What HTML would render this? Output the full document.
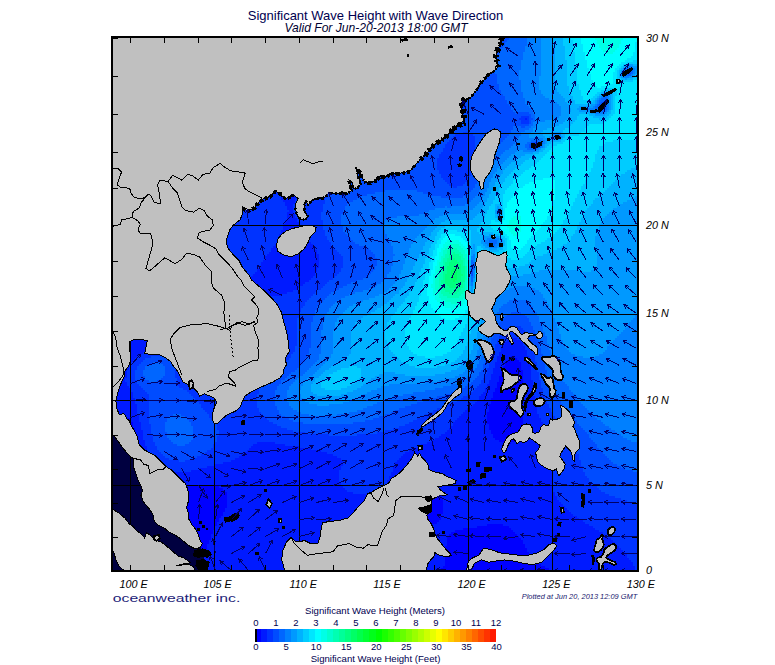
<!DOCTYPE html><html><head><meta charset="utf-8"><title>Significant Wave Height with Wave Direction</title>
<style>html,body{margin:0;padding:0;background:#fff;}body{width:775px;height:665px;overflow:hidden;position:relative;font-family:"Liberation Sans",sans-serif;}svg{position:absolute;left:0;top:0;}text{font-family:"Liberation Sans",sans-serif;}</style></head><body>
<svg width="775" height="665" viewBox="0 0 775 665">
<defs><clipPath id="mc"><rect x="111" y="36" width="528" height="536"/></clipPath>
<linearGradient id="cb" x1="0" x2="1" y1="0" y2="0"><stop offset="0" stop-color="#0000ff"/><stop offset="0.25" stop-color="#00ffff"/><stop offset="0.5" stop-color="#00ff00"/><stop offset="0.75" stop-color="#ffff00"/><stop offset="1" stop-color="#ff0000"/></linearGradient></defs>
<g clip-path="url(#mc)" shape-rendering="crispEdges">
<rect x="111" y="36" width="528" height="536" fill="#0033ff"/>
<path fill="#0000ff" d="M511 356h4v2h-4zM509 358h8v2h-8zM507 360h12v2h-12zM505 362h16v2h-16zM505 364h16v2h-16zM503 366h18v2h-18zM503 368h18v2h-18zM501 370h22v2h-22zM501 372h22v2h-22zM501 374h22v2h-22zM499 376h24v2h-24zM499 378h24v2h-24zM499 380h24v2h-24zM497 382h26v2h-26zM497 384h26v2h-26zM497 386h26v2h-26zM495 388h28v2h-28zM495 390h28v2h-28zM493 392h30v2h-30zM493 394h30v2h-30zM493 396h30v2h-30zM491 398h32v2h-32zM491 400h32v2h-32zM491 402h32v2h-32zM489 404h34v2h-34zM489 406h34v2h-34zM489 408h34v2h-34zM489 410h34v2h-34zM487 412h36v2h-36zM487 414h36v2h-36zM487 416h36v2h-36zM111 418h20v2h-20zM487 418h36v2h-36zM111 420h20v2h-20zM487 420h36v2h-36zM111 422h22v2h-22zM487 422h36v2h-36zM111 424h22v2h-22zM489 424h34v2h-34zM111 426h22v2h-22zM489 426h34v2h-34zM111 428h24v2h-24zM489 428h32v2h-32zM111 430h24v2h-24zM491 430h30v2h-30zM111 432h24v2h-24zM491 432h30v2h-30zM111 434h24v2h-24zM493 434h26v2h-26zM111 436h26v2h-26zM493 436h26v2h-26zM111 438h26v2h-26zM495 438h22v2h-22zM111 440h26v2h-26zM499 440h16v2h-16zM111 442h26v2h-26zM503 442h8v2h-8zM111 444h26v2h-26zM111 446h26v2h-26zM111 448h28v2h-28zM111 450h28v2h-28zM111 452h28v2h-28zM111 454h28v2h-28zM111 456h30v2h-30zM111 458h30v2h-30zM111 460h30v2h-30zM111 462h30v2h-30zM111 464h32v2h-32zM111 466h32v2h-32zM111 468h34v2h-34zM111 470h34v2h-34zM111 472h36v2h-36zM111 474h38v2h-38zM111 476h40v2h-40zM111 478h42v2h-42zM111 480h46v2h-46zM111 482h50v2h-50zM111 484h58v2h-58zM427 484h6v2h-6zM111 486h108v2h-108zM425 486h12v2h-12zM111 488h112v2h-112zM423 488h16v2h-16zM111 490h114v2h-114zM421 490h18v2h-18zM111 492h116v2h-116zM419 492h22v2h-22zM111 494h116v2h-116zM419 494h22v2h-22zM111 496h116v2h-116zM417 496h24v2h-24zM111 498h116v2h-116zM417 498h26v2h-26zM111 500h116v2h-116zM417 500h26v2h-26zM111 502h116v2h-116zM417 502h26v2h-26zM111 504h116v2h-116zM415 504h28v2h-28zM111 506h116v2h-116zM415 506h28v2h-28zM111 508h114v2h-114zM415 508h28v2h-28zM111 510h114v2h-114zM415 510h28v2h-28zM111 512h112v2h-112zM415 512h28v2h-28zM111 514h112v2h-112zM413 514h28v2h-28zM111 516h110v2h-110zM413 516h28v2h-28zM111 518h108v2h-108zM411 518h30v2h-30zM111 520h108v2h-108zM409 520h30v2h-30zM111 522h106v2h-106zM403 522h34v2h-34zM111 524h106v2h-106zM393 524h40v2h-40zM487 524h16v2h-16zM111 526h104v2h-104zM387 526h42v2h-42zM477 526h32v2h-32zM111 528h104v2h-104zM383 528h42v2h-42zM463 528h48v2h-48zM111 530h102v2h-102zM379 530h44v2h-44zM455 530h58v2h-58zM111 532h102v2h-102zM375 532h46v2h-46zM451 532h64v2h-64zM111 534h100v2h-100zM373 534h48v2h-48zM449 534h68v2h-68zM111 536h100v2h-100zM371 536h50v2h-50zM447 536h72v2h-72zM111 538h100v2h-100zM369 538h50v2h-50zM447 538h74v2h-74zM111 540h98v2h-98zM367 540h52v2h-52zM447 540h76v2h-76zM111 542h98v2h-98zM365 542h54v2h-54zM447 542h76v2h-76zM111 544h96v2h-96zM363 544h56v2h-56zM447 544h78v2h-78zM111 546h96v2h-96zM363 546h56v2h-56zM445 546h80v2h-80zM111 548h96v2h-96zM361 548h58v2h-58zM445 548h82v2h-82zM111 550h94v2h-94zM359 550h60v2h-60zM445 550h82v2h-82zM111 552h94v2h-94zM359 552h60v2h-60zM445 552h84v2h-84zM111 554h94v2h-94zM357 554h62v2h-62zM445 554h86v2h-86zM111 556h92v2h-92zM355 556h64v2h-64zM445 556h86v2h-86zM111 558h92v2h-92zM353 558h64v2h-64zM445 558h88v2h-88zM111 560h92v2h-92zM351 560h66v2h-66zM445 560h90v2h-90zM111 562h90v2h-90zM349 562h68v2h-68zM445 562h94v2h-94zM111 564h90v2h-90zM347 564h70v2h-70zM445 564h96v2h-96zM111 566h90v2h-90zM345 566h70v2h-70zM443 566h102v2h-102zM111 568h88v2h-88zM343 568h68v2h-68zM441 568h108v2h-108zM111 570h88v2h-88zM341 570h42v2h-42zM425 570h44v2h-44zM511 570h42v2h-42z"/>
<path fill="#001aff" d="M131 36h42v2h-42zM215 36h42v2h-42zM299 36h42v2h-42zM383 36h42v2h-42zM111 38h64v2h-64zM215 38h66v2h-66zM295 38h38v2h-38zM385 38h42v2h-42zM111 40h64v2h-64zM215 40h110v2h-110zM387 40h42v2h-42zM111 42h64v2h-64zM215 42h90v2h-90zM387 42h44v2h-44zM111 44h64v2h-64zM215 44h88v2h-88zM389 44h44v2h-44zM111 46h64v2h-64zM215 46h88v2h-88zM389 46h44v2h-44zM111 48h64v2h-64zM215 48h88v2h-88zM389 48h44v2h-44zM111 50h64v2h-64zM215 50h88v2h-88zM389 50h46v2h-46zM111 52h64v2h-64zM215 52h88v2h-88zM389 52h46v2h-46zM111 54h64v2h-64zM215 54h88v2h-88zM389 54h46v2h-46zM111 56h64v2h-64zM215 56h88v2h-88zM389 56h48v2h-48zM111 58h64v2h-64zM215 58h88v2h-88zM389 58h48v2h-48zM111 60h64v2h-64zM215 60h88v2h-88zM389 60h48v2h-48zM111 62h64v2h-64zM215 62h88v2h-88zM389 62h48v2h-48zM111 64h64v2h-64zM215 64h88v2h-88zM389 64h48v2h-48zM111 66h64v2h-64zM215 66h88v2h-88zM389 66h48v2h-48zM111 68h64v2h-64zM215 68h88v2h-88zM389 68h46v2h-46zM111 70h64v2h-64zM215 70h88v2h-88zM389 70h46v2h-46zM111 72h64v2h-64zM215 72h88v2h-88zM389 72h46v2h-46zM111 74h64v2h-64zM215 74h88v2h-88zM389 74h46v2h-46zM111 76h64v2h-64zM215 76h88v2h-88zM389 76h44v2h-44zM111 78h64v2h-64zM215 78h90v2h-90zM389 78h42v2h-42zM111 80h64v2h-64zM215 80h92v2h-92zM387 80h44v2h-44zM111 82h64v2h-64zM215 82h112v2h-112zM387 82h42v2h-42zM111 84h64v2h-64zM215 84h56v2h-56zM299 84h38v2h-38zM385 84h42v2h-42zM177 86h38v2h-38zM301 86h50v2h-50zM381 86h44v2h-44zM175 88h40v2h-40zM301 88h120v2h-120zM175 90h40v2h-40zM301 90h116v2h-116zM175 92h40v2h-40zM301 92h110v2h-110zM175 94h40v2h-40zM301 94h104v2h-104zM175 96h40v2h-40zM301 96h100v2h-100zM175 98h40v2h-40zM301 98h98v2h-98zM175 100h40v2h-40zM301 100h96v2h-96zM175 102h40v2h-40zM301 102h96v2h-96zM175 104h40v2h-40zM301 104h94v2h-94zM175 106h40v2h-40zM301 106h94v2h-94zM175 108h40v2h-40zM301 108h94v2h-94zM175 110h40v2h-40zM301 110h94v2h-94zM175 112h40v2h-40zM301 112h94v2h-94zM175 114h40v2h-40zM301 114h92v2h-92zM175 116h40v2h-40zM301 116h92v2h-92zM175 118h40v2h-40zM301 118h92v2h-92zM525 118h2v2h-2zM175 120h40v2h-40zM303 120h88v2h-88zM175 122h40v2h-40zM303 122h88v2h-88zM175 124h40v2h-40zM303 124h86v2h-86zM175 126h40v2h-40zM303 126h86v2h-86zM175 128h40v2h-40zM309 128h78v2h-78zM175 130h40v2h-40zM283 130h12v2h-12zM333 130h52v2h-52zM111 132h20v2h-20zM173 132h42v2h-42zM255 132h44v2h-44zM341 132h42v2h-42zM111 134h66v2h-66zM215 134h86v2h-86zM349 134h32v2h-32zM111 136h64v2h-64zM215 136h86v2h-86zM357 136h20v2h-20zM111 138h64v2h-64zM215 138h86v2h-86zM365 138h6v2h-6zM111 140h64v2h-64zM215 140h86v2h-86zM111 142h64v2h-64zM215 142h86v2h-86zM111 144h64v2h-64zM215 144h86v2h-86zM111 146h64v2h-64zM215 146h86v2h-86zM111 148h64v2h-64zM215 148h86v2h-86zM111 150h64v2h-64zM215 150h86v2h-86zM111 152h64v2h-64zM215 152h86v2h-86zM111 154h64v2h-64zM215 154h86v2h-86zM111 156h64v2h-64zM215 156h86v2h-86zM111 158h64v2h-64zM215 158h86v2h-86zM111 160h64v2h-64zM215 160h86v2h-86zM111 162h64v2h-64zM215 162h86v2h-86zM111 164h64v2h-64zM215 164h86v2h-86zM111 166h64v2h-64zM215 166h86v2h-86zM111 168h64v2h-64zM215 168h86v2h-86zM111 170h66v2h-66zM215 170h86v2h-86zM111 172h66v2h-66zM215 172h86v2h-86zM111 174h70v2h-70zM215 174h84v2h-84zM111 176h28v2h-28zM167 176h48v2h-48zM247 176h52v2h-52zM111 178h20v2h-20zM173 178h42v2h-42zM257 178h42v2h-42zM173 180h42v2h-42zM263 180h36v2h-36zM175 182h40v2h-40zM267 182h32v2h-32zM175 184h40v2h-40zM271 184h28v2h-28zM175 186h40v2h-40zM273 186h26v2h-26zM175 188h40v2h-40zM275 188h22v2h-22zM175 190h40v2h-40zM277 190h20v2h-20zM175 192h40v2h-40zM277 192h20v2h-20zM175 194h40v2h-40zM279 194h18v2h-18zM175 196h40v2h-40zM281 196h16v2h-16zM175 198h40v2h-40zM281 198h14v2h-14zM175 200h40v2h-40zM283 200h12v2h-12zM175 202h40v2h-40zM285 202h10v2h-10zM175 204h40v2h-40zM285 204h8v2h-8zM175 206h40v2h-40zM287 206h6v2h-6zM175 208h40v2h-40zM287 208h6v2h-6zM175 210h40v2h-40zM289 210h4v2h-4zM175 212h40v2h-40zM287 212h6v2h-6zM175 214h40v2h-40zM287 214h8v2h-8zM173 216h42v2h-42zM287 216h8v2h-8zM173 218h42v2h-42zM287 218h10v2h-10zM173 220h42v2h-42zM285 220h12v2h-12zM173 222h42v2h-42zM285 222h14v2h-14zM111 224h20v2h-20zM173 224h42v2h-42zM283 224h16v2h-16zM111 226h20v2h-20zM173 226h42v2h-42zM283 226h18v2h-18zM111 228h20v2h-20zM171 228h44v2h-44zM283 228h18v2h-18zM111 230h22v2h-22zM171 230h44v2h-44zM281 230h22v2h-22zM111 232h22v2h-22zM171 232h44v2h-44zM281 232h24v2h-24zM111 234h24v2h-24zM171 234h44v2h-44zM279 234h26v2h-26zM111 236h24v2h-24zM169 236h46v2h-46zM279 236h28v2h-28zM111 238h26v2h-26zM167 238h48v2h-48zM279 238h28v2h-28zM111 240h28v2h-28zM167 240h48v2h-48zM277 240h32v2h-32zM111 242h32v2h-32zM163 242h52v2h-52zM277 242h34v2h-34zM111 244h36v2h-36zM159 244h56v2h-56zM275 244h38v2h-38zM111 246h104v2h-104zM273 246h40v2h-40zM111 248h104v2h-104zM271 248h44v2h-44zM111 250h104v2h-104zM271 250h46v2h-46zM111 252h104v2h-104zM269 252h48v2h-48zM111 254h104v2h-104zM267 254h52v2h-52zM111 256h104v2h-104zM265 256h54v2h-54zM111 258h104v2h-104zM265 258h54v2h-54zM111 260h104v2h-104zM263 260h56v2h-56zM111 262h104v2h-104zM261 262h58v2h-58zM111 264h104v2h-104zM261 264h58v2h-58zM111 266h104v2h-104zM259 266h60v2h-60zM111 268h22v2h-22zM171 268h44v2h-44zM257 268h60v2h-60zM181 270h34v2h-34zM257 270h60v2h-60zM187 272h28v2h-28zM255 272h60v2h-60zM193 274h20v2h-20zM253 274h62v2h-62zM201 276h12v2h-12zM251 276h62v2h-62zM249 278h62v2h-62zM247 280h62v2h-62zM245 282h60v2h-60zM241 284h62v2h-62zM221 286h78v2h-78zM221 288h76v2h-76zM221 290h72v2h-72zM221 292h66v2h-66zM219 294h62v2h-62zM219 296h46v2h-46zM219 298h42v2h-42zM219 300h40v2h-40zM219 302h38v2h-38zM219 304h38v2h-38zM217 306h40v2h-40zM217 308h40v2h-40zM217 310h40v2h-40zM215 312h42v2h-42zM111 314h82v2h-82zM213 314h44v2h-44zM111 316h94v2h-94zM209 316h48v2h-48zM111 318h148v2h-148zM111 320h148v2h-148zM111 322h148v2h-148zM111 324h150v2h-150zM111 326h150v2h-150zM111 328h152v2h-152zM111 330h152v2h-152zM111 332h152v2h-152zM111 334h154v2h-154zM111 336h154v2h-154zM111 338h156v2h-156zM511 338h6v2h-6zM111 340h156v2h-156zM507 340h14v2h-14zM111 342h156v2h-156zM505 342h18v2h-18zM111 344h156v2h-156zM503 344h20v2h-20zM111 346h154v2h-154zM503 346h22v2h-22zM111 348h42v2h-42zM173 348h92v2h-92zM501 348h24v2h-24zM111 350h36v2h-36zM179 350h84v2h-84zM501 350h26v2h-26zM111 352h32v2h-32zM183 352h78v2h-78zM499 352h28v2h-28zM111 354h28v2h-28zM185 354h32v2h-32zM225 354h34v2h-34zM499 354h28v2h-28zM111 356h26v2h-26zM187 356h28v2h-28zM227 356h30v2h-30zM497 356h14v2h-14zM515 356h14v2h-14zM111 358h24v2h-24zM191 358h20v2h-20zM229 358h26v2h-26zM497 358h12v2h-12zM517 358h12v2h-12zM111 360h22v2h-22zM193 360h14v2h-14zM233 360h18v2h-18zM497 360h10v2h-10zM519 360h10v2h-10zM111 362h20v2h-20zM235 362h14v2h-14zM495 362h10v2h-10zM521 362h8v2h-8zM111 364h20v2h-20zM495 364h10v2h-10zM521 364h10v2h-10zM111 366h18v2h-18zM495 366h8v2h-8zM521 366h10v2h-10zM111 368h18v2h-18zM493 368h10v2h-10zM521 368h10v2h-10zM111 370h16v2h-16zM493 370h8v2h-8zM523 370h8v2h-8zM111 372h16v2h-16zM493 372h8v2h-8zM523 372h8v2h-8zM111 374h16v2h-16zM491 374h10v2h-10zM523 374h8v2h-8zM111 376h16v2h-16zM491 376h8v2h-8zM523 376h8v2h-8zM111 378h14v2h-14zM491 378h8v2h-8zM523 378h8v2h-8zM111 380h14v2h-14zM489 380h10v2h-10zM523 380h10v2h-10zM111 382h16v2h-16zM489 382h8v2h-8zM523 382h10v2h-10zM111 384h16v2h-16zM487 384h10v2h-10zM523 384h10v2h-10zM111 386h18v2h-18zM487 386h10v2h-10zM523 386h10v2h-10zM111 388h20v2h-20zM485 388h10v2h-10zM523 388h10v2h-10zM111 390h20v2h-20zM485 390h10v2h-10zM523 390h10v2h-10zM111 392h22v2h-22zM483 392h10v2h-10zM523 392h10v2h-10zM111 394h22v2h-22zM481 394h12v2h-12zM523 394h10v2h-10zM111 396h22v2h-22zM479 396h14v2h-14zM523 396h12v2h-12zM111 398h24v2h-24zM479 398h12v2h-12zM523 398h12v2h-12zM111 400h24v2h-24zM477 400h14v2h-14zM523 400h12v2h-12zM111 402h24v2h-24zM475 402h16v2h-16zM523 402h12v2h-12zM111 404h26v2h-26zM473 404h16v2h-16zM523 404h12v2h-12zM111 406h26v2h-26zM471 406h18v2h-18zM523 406h14v2h-14zM111 408h26v2h-26zM467 408h22v2h-22zM523 408h14v2h-14zM111 410h26v2h-26zM465 410h24v2h-24zM523 410h14v2h-14zM111 412h26v2h-26zM463 412h24v2h-24zM523 412h14v2h-14zM111 414h28v2h-28zM461 414h26v2h-26zM523 414h16v2h-16zM111 416h28v2h-28zM459 416h28v2h-28zM523 416h16v2h-16zM131 418h8v2h-8zM457 418h30v2h-30zM523 418h18v2h-18zM131 420h8v2h-8zM455 420h32v2h-32zM523 420h18v2h-18zM133 422h8v2h-8zM453 422h34v2h-34zM523 422h20v2h-20zM133 424h8v2h-8zM453 424h36v2h-36zM523 424h20v2h-20zM133 426h8v2h-8zM451 426h38v2h-38zM523 426h22v2h-22zM135 428h6v2h-6zM449 428h40v2h-40zM521 428h24v2h-24zM135 430h8v2h-8zM447 430h44v2h-44zM521 430h26v2h-26zM135 432h8v2h-8zM445 432h46v2h-46zM521 432h26v2h-26zM135 434h8v2h-8zM441 434h52v2h-52zM519 434h30v2h-30zM137 436h6v2h-6zM439 436h54v2h-54zM519 436h30v2h-30zM137 438h6v2h-6zM435 438h60v2h-60zM517 438h34v2h-34zM137 440h8v2h-8zM431 440h68v2h-68zM515 440h36v2h-36zM137 442h8v2h-8zM257 442h18v2h-18zM427 442h76v2h-76zM511 442h42v2h-42zM137 444h8v2h-8zM253 444h32v2h-32zM421 444h132v2h-132zM137 446h10v2h-10zM251 446h48v2h-48zM417 446h136v2h-136zM139 448h8v2h-8zM249 448h62v2h-62zM413 448h142v2h-142zM139 450h8v2h-8zM247 450h74v2h-74zM409 450h146v2h-146zM139 452h10v2h-10zM245 452h82v2h-82zM405 452h150v2h-150zM139 454h10v2h-10zM241 454h92v2h-92zM403 454h152v2h-152zM141 456h10v2h-10zM239 456h98v2h-98zM401 456h154v2h-154zM141 458h10v2h-10zM235 458h106v2h-106zM399 458h156v2h-156zM141 460h12v2h-12zM231 460h112v2h-112zM397 460h158v2h-158zM141 462h14v2h-14zM223 462h120v2h-120zM395 462h160v2h-160zM143 464h14v2h-14zM215 464h128v2h-128zM395 464h160v2h-160zM143 466h18v2h-18zM207 466h134v2h-134zM393 466h162v2h-162zM145 468h20v2h-20zM199 468h142v2h-142zM393 468h160v2h-160zM145 470h26v2h-26zM191 470h148v2h-148zM393 470h160v2h-160zM147 472h192v2h-192zM391 472h162v2h-162zM149 474h190v2h-190zM391 474h162v2h-162zM151 476h188v2h-188zM389 476h164v2h-164zM153 478h186v2h-186zM389 478h164v2h-164zM157 480h182v2h-182zM387 480h166v2h-166zM161 482h180v2h-180zM387 482h166v2h-166zM169 484h172v2h-172zM385 484h42v2h-42zM433 484h120v2h-120zM219 486h124v2h-124zM383 486h42v2h-42zM437 486h116v2h-116zM223 488h122v2h-122zM381 488h42v2h-42zM439 488h114v2h-114zM225 490h122v2h-122zM377 490h44v2h-44zM439 490h114v2h-114zM227 492h126v2h-126zM373 492h46v2h-46zM441 492h114v2h-114zM227 494h192v2h-192zM441 494h114v2h-114zM227 496h190v2h-190zM441 496h116v2h-116zM227 498h190v2h-190zM443 498h114v2h-114zM227 500h190v2h-190zM443 500h116v2h-116zM227 502h190v2h-190zM443 502h118v2h-118zM227 504h188v2h-188zM443 504h120v2h-120zM227 506h188v2h-188zM443 506h122v2h-122zM225 508h190v2h-190zM443 508h124v2h-124zM225 510h190v2h-190zM443 510h126v2h-126zM223 512h192v2h-192zM443 512h128v2h-128zM223 514h190v2h-190zM441 514h132v2h-132zM221 516h192v2h-192zM441 516h136v2h-136zM219 518h192v2h-192zM441 518h138v2h-138zM219 520h190v2h-190zM439 520h144v2h-144zM217 522h186v2h-186zM437 522h148v2h-148zM217 524h176v2h-176zM433 524h54v2h-54zM503 524h86v2h-86zM215 526h172v2h-172zM429 526h48v2h-48zM509 526h84v2h-84zM215 528h168v2h-168zM425 528h38v2h-38zM511 528h84v2h-84zM213 530h166v2h-166zM423 530h32v2h-32zM513 530h86v2h-86zM213 532h162v2h-162zM421 532h30v2h-30zM515 532h88v2h-88zM211 534h162v2h-162zM421 534h28v2h-28zM517 534h88v2h-88zM211 536h160v2h-160zM421 536h26v2h-26zM519 536h88v2h-88zM211 538h158v2h-158zM419 538h28v2h-28zM521 538h90v2h-90zM209 540h158v2h-158zM419 540h28v2h-28zM523 540h90v2h-90zM209 542h156v2h-156zM419 542h28v2h-28zM523 542h92v2h-92zM207 544h156v2h-156zM419 544h28v2h-28zM525 544h92v2h-92zM207 546h156v2h-156zM419 546h26v2h-26zM525 546h94v2h-94zM207 548h154v2h-154zM419 548h26v2h-26zM527 548h94v2h-94zM205 550h154v2h-154zM419 550h26v2h-26zM527 550h96v2h-96zM205 552h154v2h-154zM419 552h26v2h-26zM529 552h96v2h-96zM205 554h152v2h-152zM419 554h26v2h-26zM531 554h96v2h-96zM203 556h152v2h-152zM419 556h26v2h-26zM531 556h96v2h-96zM203 558h150v2h-150zM417 558h28v2h-28zM533 558h96v2h-96zM203 560h148v2h-148zM417 560h28v2h-28zM535 560h96v2h-96zM201 562h148v2h-148zM417 562h28v2h-28zM539 562h94v2h-94zM201 564h146v2h-146zM417 564h28v2h-28zM541 564h92v2h-92zM201 566h144v2h-144zM415 566h28v2h-28zM545 566h90v2h-90zM199 568h144v2h-144zM411 568h30v2h-30zM549 568h86v2h-86zM199 570h142v2h-142zM383 570h42v2h-42zM469 570h42v2h-42zM553 570h84v2h-84z"/>
<path fill="#0033ff" d="M111 36h20v2h-20zM173 36h42v2h-42zM257 36h42v2h-42zM341 36h42v2h-42zM425 36h44v2h-44zM175 38h40v2h-40zM281 38h14v2h-14zM333 38h52v2h-52zM427 38h42v2h-42zM175 40h40v2h-40zM325 40h62v2h-62zM429 40h40v2h-40zM175 42h40v2h-40zM305 42h82v2h-82zM431 42h38v2h-38zM175 44h40v2h-40zM303 44h86v2h-86zM433 44h36v2h-36zM175 46h40v2h-40zM303 46h86v2h-86zM433 46h36v2h-36zM175 48h40v2h-40zM303 48h86v2h-86zM433 48h36v2h-36zM175 50h40v2h-40zM303 50h86v2h-86zM435 50h34v2h-34zM175 52h40v2h-40zM303 52h86v2h-86zM435 52h34v2h-34zM175 54h40v2h-40zM303 54h86v2h-86zM435 54h34v2h-34zM175 56h40v2h-40zM303 56h86v2h-86zM437 56h32v2h-32zM175 58h40v2h-40zM303 58h86v2h-86zM437 58h32v2h-32zM175 60h40v2h-40zM303 60h86v2h-86zM437 60h32v2h-32zM175 62h40v2h-40zM303 62h86v2h-86zM437 62h32v2h-32zM175 64h40v2h-40zM303 64h86v2h-86zM437 64h32v2h-32zM175 66h40v2h-40zM303 66h86v2h-86zM437 66h32v2h-32zM175 68h40v2h-40zM303 68h86v2h-86zM435 68h34v2h-34zM175 70h40v2h-40zM303 70h86v2h-86zM435 70h34v2h-34zM175 72h40v2h-40zM303 72h86v2h-86zM435 72h34v2h-34zM175 74h40v2h-40zM303 74h86v2h-86zM435 74h34v2h-34zM175 76h40v2h-40zM303 76h86v2h-86zM433 76h36v2h-36zM175 78h40v2h-40zM305 78h84v2h-84zM431 78h38v2h-38zM175 80h40v2h-40zM307 80h80v2h-80zM431 80h38v2h-38zM175 82h40v2h-40zM327 82h60v2h-60zM429 82h40v2h-40zM175 84h40v2h-40zM271 84h28v2h-28zM337 84h48v2h-48zM427 84h42v2h-42zM111 86h66v2h-66zM215 86h86v2h-86zM351 86h30v2h-30zM425 86h44v2h-44zM111 88h64v2h-64zM215 88h86v2h-86zM421 88h46v2h-46zM111 90h64v2h-64zM215 90h86v2h-86zM417 90h50v2h-50zM111 92h64v2h-64zM215 92h86v2h-86zM411 92h56v2h-56zM111 94h64v2h-64zM215 94h86v2h-86zM405 94h62v2h-62zM111 96h64v2h-64zM215 96h86v2h-86zM401 96h66v2h-66zM111 98h64v2h-64zM215 98h86v2h-86zM399 98h68v2h-68zM111 100h64v2h-64zM215 100h86v2h-86zM397 100h70v2h-70zM111 102h64v2h-64zM215 102h86v2h-86zM397 102h68v2h-68zM111 104h64v2h-64zM215 104h86v2h-86zM395 104h70v2h-70zM111 106h64v2h-64zM215 106h86v2h-86zM395 106h70v2h-70zM111 108h64v2h-64zM215 108h86v2h-86zM395 108h68v2h-68zM111 110h64v2h-64zM215 110h86v2h-86zM395 110h66v2h-66zM111 112h64v2h-64zM215 112h86v2h-86zM395 112h64v2h-64zM111 114h64v2h-64zM215 114h86v2h-86zM393 114h64v2h-64zM111 116h64v2h-64zM215 116h86v2h-86zM393 116h60v2h-60zM521 116h8v2h-8zM111 118h64v2h-64zM215 118h86v2h-86zM393 118h58v2h-58zM519 118h6v2h-6zM527 118h2v2h-2zM111 120h64v2h-64zM215 120h88v2h-88zM391 120h56v2h-56zM521 120h8v2h-8zM111 122h64v2h-64zM215 122h88v2h-88zM391 122h50v2h-50zM521 122h8v2h-8zM111 124h64v2h-64zM215 124h88v2h-88zM389 124h48v2h-48zM111 126h64v2h-64zM215 126h88v2h-88zM389 126h44v2h-44zM111 128h64v2h-64zM215 128h94v2h-94zM387 128h44v2h-44zM111 130h64v2h-64zM215 130h68v2h-68zM295 130h38v2h-38zM385 130h44v2h-44zM131 132h42v2h-42zM215 132h40v2h-40zM299 132h42v2h-42zM383 132h42v2h-42zM463 132h6v2h-6zM177 134h38v2h-38zM301 134h48v2h-48zM381 134h42v2h-42zM455 134h18v2h-18zM175 136h40v2h-40zM301 136h56v2h-56zM377 136h44v2h-44zM453 136h22v2h-22zM175 138h40v2h-40zM301 138h64v2h-64zM371 138h48v2h-48zM451 138h24v2h-24zM175 140h40v2h-40zM301 140h118v2h-118zM449 140h26v2h-26zM175 142h40v2h-40zM301 142h116v2h-116zM447 142h28v2h-28zM535 142h2v2h-2zM175 144h40v2h-40zM301 144h114v2h-114zM445 144h30v2h-30zM533 144h4v2h-4zM175 146h40v2h-40zM301 146h112v2h-112zM445 146h30v2h-30zM175 148h40v2h-40zM301 148h110v2h-110zM443 148h32v2h-32zM175 150h40v2h-40zM301 150h108v2h-108zM443 150h32v2h-32zM175 152h40v2h-40zM301 152h106v2h-106zM441 152h34v2h-34zM175 154h40v2h-40zM301 154h106v2h-106zM439 154h36v2h-36zM175 156h40v2h-40zM301 156h104v2h-104zM439 156h36v2h-36zM175 158h40v2h-40zM301 158h100v2h-100zM437 158h38v2h-38zM175 160h40v2h-40zM301 160h98v2h-98zM437 160h38v2h-38zM175 162h40v2h-40zM301 162h94v2h-94zM437 162h38v2h-38zM175 164h40v2h-40zM301 164h88v2h-88zM437 164h38v2h-38zM175 166h40v2h-40zM301 166h80v2h-80zM437 166h36v2h-36zM175 168h40v2h-40zM301 168h72v2h-72zM437 168h36v2h-36zM177 170h38v2h-38zM301 170h62v2h-62zM439 170h34v2h-34zM177 172h38v2h-38zM301 172h54v2h-54zM439 172h32v2h-32zM181 174h34v2h-34zM299 174h50v2h-50zM441 174h30v2h-30zM139 176h28v2h-28zM215 176h32v2h-32zM299 176h46v2h-46zM441 176h28v2h-28zM131 178h42v2h-42zM215 178h42v2h-42zM299 178h42v2h-42zM443 178h26v2h-26zM111 180h62v2h-62zM215 180h48v2h-48zM299 180h40v2h-40zM445 180h22v2h-22zM111 182h64v2h-64zM215 182h52v2h-52zM299 182h38v2h-38zM447 182h18v2h-18zM111 184h64v2h-64zM215 184h56v2h-56zM299 184h36v2h-36zM449 184h14v2h-14zM111 186h64v2h-64zM215 186h58v2h-58zM299 186h34v2h-34zM453 186h4v2h-4zM111 188h64v2h-64zM215 188h60v2h-60zM297 188h34v2h-34zM111 190h64v2h-64zM215 190h62v2h-62zM297 190h34v2h-34zM111 192h64v2h-64zM215 192h62v2h-62zM297 192h32v2h-32zM111 194h64v2h-64zM215 194h64v2h-64zM297 194h30v2h-30zM111 196h64v2h-64zM215 196h66v2h-66zM297 196h30v2h-30zM111 198h64v2h-64zM215 198h66v2h-66zM295 198h30v2h-30zM111 200h64v2h-64zM215 200h68v2h-68zM295 200h30v2h-30zM111 202h64v2h-64zM215 202h70v2h-70zM295 202h30v2h-30zM111 204h64v2h-64zM215 204h70v2h-70zM293 204h30v2h-30zM111 206h64v2h-64zM215 206h72v2h-72zM293 206h30v2h-30zM111 208h64v2h-64zM215 208h72v2h-72zM293 208h30v2h-30zM111 210h64v2h-64zM215 210h74v2h-74zM293 210h30v2h-30zM111 212h64v2h-64zM215 212h72v2h-72zM293 212h28v2h-28zM111 214h64v2h-64zM215 214h72v2h-72zM295 214h26v2h-26zM111 216h62v2h-62zM215 216h72v2h-72zM295 216h26v2h-26zM111 218h62v2h-62zM215 218h72v2h-72zM297 218h24v2h-24zM111 220h62v2h-62zM215 220h70v2h-70zM297 220h26v2h-26zM111 222h62v2h-62zM215 222h70v2h-70zM299 222h24v2h-24zM131 224h42v2h-42zM215 224h68v2h-68zM299 224h24v2h-24zM131 226h42v2h-42zM215 226h68v2h-68zM301 226h22v2h-22zM131 228h40v2h-40zM215 228h68v2h-68zM301 228h22v2h-22zM133 230h38v2h-38zM215 230h66v2h-66zM303 230h22v2h-22zM133 232h38v2h-38zM215 232h66v2h-66zM305 232h20v2h-20zM135 234h36v2h-36zM215 234h64v2h-64zM305 234h20v2h-20zM135 236h34v2h-34zM215 236h64v2h-64zM307 236h20v2h-20zM137 238h30v2h-30zM215 238h64v2h-64zM307 238h20v2h-20zM139 240h28v2h-28zM215 240h62v2h-62zM309 240h20v2h-20zM143 242h20v2h-20zM215 242h62v2h-62zM311 242h20v2h-20zM147 244h12v2h-12zM215 244h60v2h-60zM313 244h18v2h-18zM215 246h58v2h-58zM313 246h20v2h-20zM215 248h56v2h-56zM315 248h20v2h-20zM215 250h56v2h-56zM317 250h20v2h-20zM215 252h54v2h-54zM317 252h22v2h-22zM215 254h52v2h-52zM319 254h22v2h-22zM215 256h50v2h-50zM319 256h24v2h-24zM215 258h50v2h-50zM319 258h24v2h-24zM215 260h48v2h-48zM319 260h24v2h-24zM215 262h46v2h-46zM319 262h24v2h-24zM215 264h46v2h-46zM319 264h24v2h-24zM215 266h44v2h-44zM319 266h24v2h-24zM133 268h38v2h-38zM215 268h42v2h-42zM317 268h24v2h-24zM111 270h70v2h-70zM215 270h42v2h-42zM317 270h24v2h-24zM111 272h76v2h-76zM215 272h40v2h-40zM315 272h24v2h-24zM111 274h82v2h-82zM213 274h40v2h-40zM315 274h22v2h-22zM111 276h90v2h-90zM213 276h38v2h-38zM313 276h22v2h-22zM111 278h138v2h-138zM311 278h22v2h-22zM111 280h136v2h-136zM309 280h20v2h-20zM111 282h134v2h-134zM305 282h22v2h-22zM111 284h130v2h-130zM303 284h22v2h-22zM111 286h110v2h-110zM299 286h24v2h-24zM111 288h110v2h-110zM297 288h24v2h-24zM111 290h110v2h-110zM293 290h24v2h-24zM111 292h110v2h-110zM287 292h28v2h-28zM111 294h108v2h-108zM281 294h32v2h-32zM111 296h108v2h-108zM265 296h46v2h-46zM111 298h108v2h-108zM261 298h48v2h-48zM111 300h108v2h-108zM259 300h48v2h-48zM111 302h108v2h-108zM257 302h48v2h-48zM111 304h108v2h-108zM257 304h48v2h-48zM111 306h106v2h-106zM257 306h46v2h-46zM111 308h106v2h-106zM257 308h44v2h-44zM111 310h106v2h-106zM257 310h44v2h-44zM111 312h104v2h-104zM257 312h42v2h-42zM193 314h20v2h-20zM257 314h42v2h-42zM205 316h4v2h-4zM257 316h42v2h-42zM259 318h38v2h-38zM259 320h38v2h-38zM259 322h38v2h-38zM261 324h36v2h-36zM261 326h36v2h-36zM509 326h12v2h-12zM263 328h34v2h-34zM505 328h18v2h-18zM263 330h34v2h-34zM503 330h22v2h-22zM263 332h34v2h-34zM503 332h24v2h-24zM265 334h32v2h-32zM501 334h26v2h-26zM265 336h32v2h-32zM499 336h30v2h-30zM267 338h30v2h-30zM499 338h12v2h-12zM517 338h12v2h-12zM267 340h30v2h-30zM497 340h10v2h-10zM521 340h10v2h-10zM267 342h30v2h-30zM497 342h8v2h-8zM523 342h8v2h-8zM267 344h30v2h-30zM495 344h8v2h-8zM523 344h8v2h-8zM265 346h30v2h-30zM495 346h8v2h-8zM525 346h8v2h-8zM153 348h20v2h-20zM265 348h30v2h-30zM495 348h6v2h-6zM525 348h8v2h-8zM147 350h32v2h-32zM263 350h32v2h-32zM493 350h8v2h-8zM527 350h6v2h-6zM143 352h40v2h-40zM261 352h32v2h-32zM493 352h6v2h-6zM527 352h8v2h-8zM139 354h46v2h-46zM217 354h8v2h-8zM259 354h32v2h-32zM493 354h6v2h-6zM527 354h8v2h-8zM137 356h14v2h-14zM167 356h20v2h-20zM215 356h12v2h-12zM257 356h34v2h-34zM491 356h6v2h-6zM529 356h6v2h-6zM135 358h10v2h-10zM169 358h22v2h-22zM211 358h18v2h-18zM255 358h34v2h-34zM491 358h6v2h-6zM529 358h6v2h-6zM133 360h10v2h-10zM173 360h20v2h-20zM207 360h26v2h-26zM251 360h36v2h-36zM491 360h6v2h-6zM529 360h6v2h-6zM131 362h10v2h-10zM173 362h62v2h-62zM249 362h36v2h-36zM489 362h6v2h-6zM529 362h8v2h-8zM131 364h8v2h-8zM175 364h108v2h-108zM489 364h6v2h-6zM531 364h6v2h-6zM129 366h8v2h-8zM175 366h106v2h-106zM489 366h6v2h-6zM531 366h6v2h-6zM129 368h8v2h-8zM175 368h104v2h-104zM487 368h6v2h-6zM531 368h6v2h-6zM127 370h8v2h-8zM175 370h102v2h-102zM487 370h6v2h-6zM531 370h6v2h-6zM127 372h8v2h-8zM175 372h100v2h-100zM487 372h6v2h-6zM531 372h8v2h-8zM127 374h8v2h-8zM175 374h96v2h-96zM485 374h6v2h-6zM531 374h8v2h-8zM127 376h8v2h-8zM175 376h94v2h-94zM485 376h6v2h-6zM531 376h8v2h-8zM125 378h10v2h-10zM177 378h90v2h-90zM483 378h8v2h-8zM531 378h8v2h-8zM125 380h12v2h-12zM177 380h88v2h-88zM481 380h8v2h-8zM533 380h8v2h-8zM127 382h10v2h-10zM177 382h86v2h-86zM481 382h8v2h-8zM533 382h8v2h-8zM127 384h12v2h-12zM177 384h86v2h-86zM479 384h8v2h-8zM533 384h8v2h-8zM129 386h12v2h-12zM179 386h82v2h-82zM477 386h10v2h-10zM533 386h8v2h-8zM131 388h12v2h-12zM183 388h76v2h-76zM475 388h10v2h-10zM533 388h10v2h-10zM131 390h14v2h-14zM187 390h72v2h-72zM473 390h12v2h-12zM533 390h10v2h-10zM133 392h14v2h-14zM189 392h70v2h-70zM469 392h14v2h-14zM533 392h10v2h-10zM133 394h16v2h-16zM191 394h66v2h-66zM467 394h14v2h-14zM533 394h10v2h-10zM133 396h16v2h-16zM193 396h64v2h-64zM463 396h16v2h-16zM535 396h10v2h-10zM135 398h14v2h-14zM195 398h62v2h-62zM461 398h18v2h-18zM535 398h10v2h-10zM135 400h14v2h-14zM197 400h60v2h-60zM457 400h20v2h-20zM535 400h12v2h-12zM135 402h14v2h-14zM199 402h58v2h-58zM451 402h24v2h-24zM535 402h12v2h-12zM137 404h12v2h-12zM201 404h56v2h-56zM447 404h26v2h-26zM535 404h14v2h-14zM137 406h12v2h-12zM201 406h56v2h-56zM443 406h28v2h-28zM537 406h12v2h-12zM137 408h12v2h-12zM203 408h56v2h-56zM437 408h30v2h-30zM537 408h14v2h-14zM137 410h12v2h-12zM205 410h54v2h-54zM433 410h32v2h-32zM537 410h14v2h-14zM137 412h12v2h-12zM207 412h54v2h-54zM429 412h34v2h-34zM537 412h16v2h-16zM139 414h10v2h-10zM209 414h54v2h-54zM425 414h36v2h-36zM539 414h14v2h-14zM139 416h10v2h-10zM209 416h56v2h-56zM421 416h38v2h-38zM539 416h16v2h-16zM139 418h10v2h-10zM211 418h56v2h-56zM417 418h40v2h-40zM541 418h16v2h-16zM139 420h10v2h-10zM213 420h56v2h-56zM413 420h42v2h-42zM541 420h18v2h-18zM141 422h8v2h-8zM215 422h58v2h-58zM409 422h44v2h-44zM543 422h16v2h-16zM141 424h10v2h-10zM217 424h60v2h-60zM405 424h48v2h-48zM543 424h18v2h-18zM141 426h10v2h-10zM217 426h64v2h-64zM399 426h52v2h-52zM545 426h18v2h-18zM141 428h10v2h-10zM217 428h70v2h-70zM393 428h56v2h-56zM545 428h20v2h-20zM143 430h8v2h-8zM219 430h74v2h-74zM385 430h62v2h-62zM547 430h20v2h-20zM143 432h8v2h-8zM219 432h86v2h-86zM377 432h68v2h-68zM547 432h20v2h-20zM143 434h10v2h-10zM219 434h110v2h-110zM357 434h84v2h-84zM549 434h20v2h-20zM143 436h10v2h-10zM217 436h222v2h-222zM549 436h22v2h-22zM143 438h10v2h-10zM217 438h218v2h-218zM551 438h20v2h-20zM145 440h8v2h-8zM217 440h214v2h-214zM551 440h22v2h-22zM145 442h10v2h-10zM215 442h42v2h-42zM275 442h152v2h-152zM553 442h20v2h-20zM145 444h10v2h-10zM213 444h40v2h-40zM285 444h136v2h-136zM553 444h22v2h-22zM147 446h10v2h-10zM213 446h38v2h-38zM299 446h118v2h-118zM553 446h22v2h-22zM147 448h10v2h-10zM211 448h38v2h-38zM311 448h102v2h-102zM555 448h22v2h-22zM147 450h12v2h-12zM207 450h40v2h-40zM321 450h88v2h-88zM555 450h22v2h-22zM149 452h12v2h-12zM205 452h40v2h-40zM327 452h78v2h-78zM555 452h22v2h-22zM149 454h14v2h-14zM201 454h40v2h-40zM333 454h70v2h-70zM555 454h24v2h-24zM151 456h14v2h-14zM197 456h42v2h-42zM337 456h64v2h-64zM555 456h24v2h-24zM151 458h18v2h-18zM193 458h42v2h-42zM341 458h58v2h-58zM555 458h24v2h-24zM153 460h26v2h-26zM185 460h46v2h-46zM343 460h54v2h-54zM555 460h26v2h-26zM155 462h68v2h-68zM343 462h52v2h-52zM555 462h26v2h-26zM157 464h58v2h-58zM343 464h52v2h-52zM555 464h26v2h-26zM161 466h46v2h-46zM341 466h52v2h-52zM555 466h28v2h-28zM165 468h34v2h-34zM341 468h52v2h-52zM553 468h30v2h-30zM171 470h20v2h-20zM339 470h54v2h-54zM553 470h30v2h-30zM339 472h52v2h-52zM553 472h32v2h-32zM339 474h52v2h-52zM553 474h32v2h-32zM339 476h50v2h-50zM553 476h34v2h-34zM339 478h50v2h-50zM553 478h36v2h-36zM339 480h48v2h-48zM553 480h36v2h-36zM341 482h46v2h-46zM553 482h38v2h-38zM341 484h44v2h-44zM553 484h40v2h-40zM343 486h40v2h-40zM553 486h44v2h-44zM345 488h36v2h-36zM553 488h46v2h-46zM347 490h30v2h-30zM553 490h48v2h-48zM353 492h20v2h-20zM555 492h50v2h-50zM555 494h54v2h-54zM557 496h58v2h-58zM557 498h64v2h-64zM559 500h68v2h-68zM561 502h74v2h-74zM563 504h76v2h-76zM565 506h74v2h-74zM567 508h72v2h-72zM569 510h70v2h-70zM571 512h68v2h-68zM573 514h66v2h-66zM577 516h62v2h-62zM579 518h60v2h-60zM583 520h56v2h-56zM585 522h54v2h-54zM589 524h50v2h-50zM593 526h46v2h-46zM595 528h44v2h-44zM599 530h40v2h-40zM603 532h36v2h-36zM605 534h34v2h-34zM607 536h32v2h-32zM611 538h28v2h-28zM613 540h26v2h-26zM615 542h24v2h-24zM617 544h22v2h-22zM619 546h20v2h-20zM621 548h18v2h-18zM623 550h16v2h-16zM625 552h14v2h-14zM627 554h12v2h-12zM627 556h12v2h-12zM629 558h10v2h-10zM631 560h8v2h-8zM633 562h6v2h-6zM633 564h6v2h-6zM635 566h4v2h-4zM635 568h4v2h-4zM637 570h2v2h-2z"/>
<path fill="#004cff" d="M469 36h42v2h-42zM469 38h40v2h-40zM469 40h38v2h-38zM469 42h36v2h-36zM469 44h36v2h-36zM469 46h34v2h-34zM469 48h32v2h-32zM469 50h32v2h-32zM469 52h30v2h-30zM469 54h30v2h-30zM469 56h30v2h-30zM469 58h28v2h-28zM469 60h28v2h-28zM469 62h28v2h-28zM469 64h28v2h-28zM469 66h28v2h-28zM469 68h26v2h-26zM469 70h26v2h-26zM625 70h6v2h-6zM469 72h26v2h-26zM625 72h6v2h-6zM469 74h28v2h-28zM469 76h28v2h-28zM469 78h28v2h-28zM469 80h28v2h-28zM469 82h28v2h-28zM469 84h30v2h-30zM469 86h30v2h-30zM467 88h32v2h-32zM467 90h34v2h-34zM467 92h34v2h-34zM467 94h36v2h-36zM467 96h38v2h-38zM467 98h38v2h-38zM467 100h40v2h-40zM465 102h42v2h-42zM601 102h2v2h-2zM465 104h44v2h-44zM599 104h6v2h-6zM465 106h46v2h-46zM599 106h6v2h-6zM463 108h48v2h-48zM599 108h6v2h-6zM461 110h52v2h-52zM459 112h56v2h-56zM517 112h12v2h-12zM457 114h74v2h-74zM453 116h68v2h-68zM529 116h2v2h-2zM451 118h68v2h-68zM529 118h4v2h-4zM447 120h74v2h-74zM529 120h2v2h-2zM441 122h80v2h-80zM529 122h2v2h-2zM437 124h92v2h-92zM433 126h80v2h-80zM521 126h4v2h-4zM431 128h82v2h-82zM429 130h82v2h-82zM425 132h38v2h-38zM469 132h42v2h-42zM423 134h32v2h-32zM473 134h36v2h-36zM421 136h32v2h-32zM475 136h32v2h-32zM419 138h32v2h-32zM475 138h30v2h-30zM419 140h30v2h-30zM475 140h28v2h-28zM417 142h30v2h-30zM475 142h26v2h-26zM531 142h4v2h-4zM537 142h4v2h-4zM415 144h30v2h-30zM475 144h24v2h-24zM529 144h4v2h-4zM537 144h4v2h-4zM413 146h32v2h-32zM475 146h22v2h-22zM529 146h10v2h-10zM411 148h32v2h-32zM475 148h20v2h-20zM409 150h34v2h-34zM475 150h18v2h-18zM407 152h34v2h-34zM475 152h16v2h-16zM407 154h32v2h-32zM475 154h16v2h-16zM405 156h34v2h-34zM475 156h14v2h-14zM401 158h36v2h-36zM475 158h12v2h-12zM399 160h38v2h-38zM475 160h12v2h-12zM395 162h42v2h-42zM475 162h10v2h-10zM389 164h48v2h-48zM475 164h10v2h-10zM381 166h56v2h-56zM473 166h12v2h-12zM373 168h64v2h-64zM473 168h10v2h-10zM363 170h76v2h-76zM473 170h10v2h-10zM355 172h84v2h-84zM471 172h10v2h-10zM349 174h92v2h-92zM471 174h10v2h-10zM345 176h96v2h-96zM469 176h10v2h-10zM341 178h102v2h-102zM469 178h10v2h-10zM339 180h106v2h-106zM467 180h10v2h-10zM337 182h110v2h-110zM465 182h12v2h-12zM335 184h114v2h-114zM463 184h12v2h-12zM333 186h120v2h-120zM457 186h18v2h-18zM331 188h142v2h-142zM331 190h54v2h-54zM417 190h54v2h-54zM329 192h46v2h-46zM423 192h46v2h-46zM327 194h40v2h-40zM431 194h36v2h-36zM327 196h34v2h-34zM441 196h22v2h-22zM325 198h32v2h-32zM325 200h28v2h-28zM325 202h24v2h-24zM323 204h24v2h-24zM323 206h22v2h-22zM323 208h22v2h-22zM323 210h20v2h-20zM321 212h22v2h-22zM321 214h20v2h-20zM321 216h20v2h-20zM321 218h20v2h-20zM323 220h18v2h-18zM323 222h18v2h-18zM323 224h18v2h-18zM323 226h20v2h-20zM323 228h20v2h-20zM325 230h18v2h-18zM325 232h20v2h-20zM325 234h22v2h-22zM327 236h22v2h-22zM327 238h24v2h-24zM329 240h24v2h-24zM331 242h24v2h-24zM331 244h28v2h-28zM333 246h32v2h-32zM335 248h34v2h-34zM337 250h34v2h-34zM339 252h34v2h-34zM341 254h34v2h-34zM343 256h32v2h-32zM343 258h34v2h-34zM343 260h34v2h-34zM343 262h34v2h-34zM343 264h34v2h-34zM343 266h32v2h-32zM471 266h2v2h-2zM341 268h34v2h-34zM471 268h2v2h-2zM341 270h32v2h-32zM471 270h2v2h-2zM339 272h32v2h-32zM471 272h2v2h-2zM337 274h32v2h-32zM471 274h2v2h-2zM335 276h32v2h-32zM333 278h30v2h-30zM329 280h28v2h-28zM327 282h24v2h-24zM325 284h22v2h-22zM323 286h20v2h-20zM321 288h18v2h-18zM317 290h18v2h-18zM315 292h16v2h-16zM313 294h16v2h-16zM311 296h16v2h-16zM309 298h16v2h-16zM307 300h16v2h-16zM305 302h16v2h-16zM305 304h14v2h-14zM303 306h14v2h-14zM301 308h16v2h-16zM301 310h14v2h-14zM299 312h16v2h-16zM511 312h10v2h-10zM299 314h16v2h-16zM507 314h18v2h-18zM299 316h14v2h-14zM505 316h22v2h-22zM297 318h16v2h-16zM503 318h26v2h-26zM297 320h16v2h-16zM501 320h28v2h-28zM297 322h14v2h-14zM499 322h32v2h-32zM297 324h14v2h-14zM499 324h32v2h-32zM297 326h14v2h-14zM497 326h12v2h-12zM521 326h12v2h-12zM297 328h14v2h-14zM497 328h8v2h-8zM523 328h10v2h-10zM297 330h14v2h-14zM495 330h8v2h-8zM525 330h10v2h-10zM297 332h14v2h-14zM495 332h8v2h-8zM527 332h8v2h-8zM297 334h14v2h-14zM493 334h8v2h-8zM527 334h8v2h-8zM297 336h14v2h-14zM493 336h6v2h-6zM529 336h8v2h-8zM297 338h14v2h-14zM491 338h8v2h-8zM529 338h8v2h-8zM297 340h14v2h-14zM491 340h6v2h-6zM531 340h8v2h-8zM297 342h14v2h-14zM491 342h6v2h-6zM531 342h8v2h-8zM297 344h14v2h-14zM491 344h4v2h-4zM531 344h8v2h-8zM295 346h16v2h-16zM489 346h6v2h-6zM533 346h6v2h-6zM295 348h14v2h-14zM489 348h6v2h-6zM533 348h8v2h-8zM295 350h14v2h-14zM489 350h4v2h-4zM533 350h8v2h-8zM293 352h16v2h-16zM487 352h6v2h-6zM535 352h6v2h-6zM291 354h16v2h-16zM487 354h6v2h-6zM535 354h8v2h-8zM151 356h16v2h-16zM291 356h16v2h-16zM487 356h4v2h-4zM535 356h8v2h-8zM145 358h24v2h-24zM289 358h16v2h-16zM487 358h4v2h-4zM535 358h8v2h-8zM143 360h30v2h-30zM287 360h18v2h-18zM485 360h6v2h-6zM535 360h8v2h-8zM141 362h12v2h-12zM161 362h12v2h-12zM285 362h18v2h-18zM485 362h4v2h-4zM537 362h8v2h-8zM139 364h10v2h-10zM163 364h12v2h-12zM283 364h18v2h-18zM483 364h6v2h-6zM537 364h8v2h-8zM137 366h8v2h-8zM165 366h10v2h-10zM281 366h18v2h-18zM483 366h6v2h-6zM537 366h8v2h-8zM137 368h8v2h-8zM165 368h10v2h-10zM279 368h18v2h-18zM483 368h4v2h-4zM537 368h8v2h-8zM135 370h8v2h-8zM165 370h10v2h-10zM277 370h18v2h-18zM481 370h6v2h-6zM537 370h10v2h-10zM135 372h8v2h-8zM165 372h10v2h-10zM275 372h16v2h-16zM479 372h8v2h-8zM539 372h8v2h-8zM135 374h8v2h-8zM165 374h10v2h-10zM271 374h18v2h-18zM479 374h6v2h-6zM539 374h8v2h-8zM135 376h10v2h-10zM163 376h12v2h-12zM269 376h18v2h-18zM477 376h8v2h-8zM539 376h10v2h-10zM135 378h10v2h-10zM161 378h16v2h-16zM267 378h18v2h-18zM475 378h8v2h-8zM539 378h10v2h-10zM137 380h12v2h-12zM157 380h20v2h-20zM265 380h16v2h-16zM473 380h8v2h-8zM541 380h8v2h-8zM137 382h40v2h-40zM263 382h18v2h-18zM471 382h10v2h-10zM541 382h10v2h-10zM139 384h38v2h-38zM263 384h16v2h-16zM467 384h12v2h-12zM541 384h10v2h-10zM141 386h38v2h-38zM261 386h16v2h-16zM465 386h12v2h-12zM541 386h12v2h-12zM143 388h40v2h-40zM259 388h18v2h-18zM461 388h14v2h-14zM543 388h10v2h-10zM145 390h42v2h-42zM259 390h16v2h-16zM457 390h16v2h-16zM543 390h12v2h-12zM147 392h42v2h-42zM259 392h16v2h-16zM451 392h18v2h-18zM543 392h12v2h-12zM149 394h42v2h-42zM257 394h18v2h-18zM445 394h22v2h-22zM543 394h14v2h-14zM149 396h44v2h-44zM257 396h18v2h-18zM437 396h26v2h-26zM545 396h12v2h-12zM149 398h46v2h-46zM257 398h18v2h-18zM431 398h30v2h-30zM545 398h14v2h-14zM149 400h48v2h-48zM257 400h18v2h-18zM423 400h34v2h-34zM547 400h14v2h-14zM149 402h50v2h-50zM257 402h18v2h-18zM417 402h34v2h-34zM547 402h14v2h-14zM149 404h52v2h-52zM257 404h18v2h-18zM411 404h36v2h-36zM549 404h14v2h-14zM149 406h52v2h-52zM257 406h20v2h-20zM405 406h38v2h-38zM549 406h16v2h-16zM149 408h54v2h-54zM259 408h18v2h-18zM399 408h38v2h-38zM551 408h14v2h-14zM149 410h56v2h-56zM259 410h20v2h-20zM395 410h38v2h-38zM551 410h16v2h-16zM149 412h58v2h-58zM261 412h18v2h-18zM391 412h38v2h-38zM553 412h16v2h-16zM149 414h24v2h-24zM181 414h28v2h-28zM263 414h18v2h-18zM385 414h40v2h-40zM553 414h18v2h-18zM149 416h20v2h-20zM185 416h24v2h-24zM265 416h20v2h-20zM379 416h42v2h-42zM555 416h18v2h-18zM149 418h18v2h-18zM187 418h24v2h-24zM267 418h22v2h-22zM373 418h44v2h-44zM557 418h18v2h-18zM149 420h18v2h-18zM189 420h24v2h-24zM269 420h24v2h-24zM365 420h48v2h-48zM559 420h18v2h-18zM149 422h16v2h-16zM191 422h24v2h-24zM273 422h30v2h-30zM353 422h56v2h-56zM559 422h18v2h-18zM151 424h14v2h-14zM191 424h26v2h-26zM277 424h128v2h-128zM561 424h18v2h-18zM151 426h14v2h-14zM193 426h24v2h-24zM281 426h118v2h-118zM563 426h18v2h-18zM151 428h14v2h-14zM193 428h24v2h-24zM287 428h106v2h-106zM565 428h18v2h-18zM151 430h14v2h-14zM193 430h26v2h-26zM293 430h92v2h-92zM567 430h18v2h-18zM151 432h16v2h-16zM193 432h26v2h-26zM305 432h72v2h-72zM567 432h20v2h-20zM153 434h14v2h-14zM193 434h26v2h-26zM329 434h28v2h-28zM569 434h20v2h-20zM153 436h14v2h-14zM193 436h24v2h-24zM571 436h18v2h-18zM153 438h16v2h-16zM193 438h24v2h-24zM571 438h20v2h-20zM153 440h18v2h-18zM191 440h26v2h-26zM573 440h20v2h-20zM155 442h18v2h-18zM189 442h26v2h-26zM573 442h22v2h-22zM155 444h22v2h-22zM185 444h28v2h-28zM575 444h22v2h-22zM157 446h56v2h-56zM575 446h22v2h-22zM157 448h54v2h-54zM577 448h22v2h-22zM159 450h48v2h-48zM577 450h24v2h-24zM161 452h44v2h-44zM577 452h26v2h-26zM163 454h38v2h-38zM579 454h26v2h-26zM165 456h32v2h-32zM579 456h28v2h-28zM169 458h24v2h-24zM579 458h30v2h-30zM179 460h6v2h-6zM581 460h30v2h-30zM581 462h32v2h-32zM581 464h36v2h-36zM583 466h38v2h-38zM583 468h42v2h-42zM583 470h50v2h-50zM585 472h54v2h-54zM585 474h54v2h-54zM587 476h52v2h-52zM589 478h50v2h-50zM589 480h50v2h-50zM591 482h48v2h-48zM593 484h46v2h-46zM597 486h42v2h-42zM599 488h40v2h-40zM601 490h38v2h-38zM605 492h34v2h-34zM609 494h30v2h-30zM615 496h24v2h-24zM621 498h18v2h-18zM627 500h12v2h-12zM635 502h4v2h-4z"/>
<path fill="#0066ff" d="M511 36h18v2h-18zM509 38h18v2h-18zM507 40h20v2h-20zM505 42h22v2h-22zM505 44h22v2h-22zM503 46h22v2h-22zM501 48h24v2h-24zM501 50h24v2h-24zM499 52h24v2h-24zM499 54h24v2h-24zM499 56h24v2h-24zM497 58h26v2h-26zM497 60h24v2h-24zM497 62h24v2h-24zM497 64h24v2h-24zM497 66h24v2h-24zM495 68h26v2h-26zM625 68h8v2h-8zM495 70h24v2h-24zM623 70h2v2h-2zM631 70h2v2h-2zM495 72h24v2h-24zM623 72h2v2h-2zM631 72h2v2h-2zM497 74h22v2h-22zM623 74h8v2h-8zM497 76h22v2h-22zM497 78h22v2h-22zM497 80h24v2h-24zM497 82h24v2h-24zM499 84h22v2h-22zM499 86h22v2h-22zM499 88h22v2h-22zM501 90h20v2h-20zM501 92h22v2h-22zM503 94h20v2h-20zM505 96h18v2h-18zM603 96h4v2h-4zM505 98h20v2h-20zM601 98h6v2h-6zM507 100h18v2h-18zM599 100h8v2h-8zM507 102h18v2h-18zM599 102h2v2h-2zM603 102h4v2h-4zM509 104h18v2h-18zM597 104h2v2h-2zM605 104h2v2h-2zM511 106h18v2h-18zM595 106h4v2h-4zM605 106h2v2h-2zM511 108h20v2h-20zM595 108h4v2h-4zM605 108h2v2h-2zM513 110h20v2h-20zM597 110h8v2h-8zM515 112h2v2h-2zM529 112h4v2h-4zM531 114h4v2h-4zM531 116h4v2h-4zM533 118h2v2h-2zM531 120h4v2h-4zM531 122h2v2h-2zM529 124h4v2h-4zM513 126h8v2h-8zM525 126h6v2h-6zM513 128h16v2h-16zM511 130h14v2h-14zM511 132h10v2h-10zM509 134h12v2h-12zM507 136h12v2h-12zM555 136h4v2h-4zM505 138h12v2h-12zM503 140h14v2h-14zM531 140h10v2h-10zM501 142h14v2h-14zM527 142h4v2h-4zM541 142h2v2h-2zM499 144h14v2h-14zM525 144h4v2h-4zM497 146h14v2h-14zM525 146h4v2h-4zM539 146h2v2h-2zM495 148h14v2h-14zM527 148h10v2h-10zM493 150h12v2h-12zM491 152h12v2h-12zM491 154h10v2h-10zM489 156h10v2h-10zM487 158h10v2h-10zM487 160h8v2h-8zM485 162h8v2h-8zM485 164h8v2h-8zM485 166h6v2h-6zM483 168h8v2h-8zM483 170h6v2h-6zM481 172h8v2h-8zM481 174h6v2h-6zM479 176h8v2h-8zM479 178h6v2h-6zM477 180h8v2h-8zM477 182h8v2h-8zM475 184h8v2h-8zM475 186h8v2h-8zM473 188h8v2h-8zM385 190h32v2h-32zM471 190h8v2h-8zM375 192h48v2h-48zM469 192h10v2h-10zM367 194h64v2h-64zM467 194h10v2h-10zM361 196h80v2h-80zM463 196h12v2h-12zM357 198h116v2h-116zM353 200h118v2h-118zM349 202h120v2h-120zM347 204h118v2h-118zM345 206h100v2h-100zM447 206h4v2h-4zM345 208h90v2h-90zM343 210h86v2h-86zM343 212h82v2h-82zM341 214h78v2h-78zM341 216h56v2h-56zM341 218h48v2h-48zM341 220h44v2h-44zM341 222h44v2h-44zM341 224h42v2h-42zM343 226h40v2h-40zM343 228h40v2h-40zM343 230h42v2h-42zM345 232h40v2h-40zM347 234h40v2h-40zM349 236h38v2h-38zM351 238h38v2h-38zM353 240h36v2h-36zM489 240h8v2h-8zM355 242h36v2h-36zM489 242h8v2h-8zM359 244h32v2h-32zM491 244h4v2h-4zM365 246h28v2h-28zM369 248h24v2h-24zM371 250h22v2h-22zM373 252h20v2h-20zM375 254h20v2h-20zM375 256h18v2h-18zM377 258h16v2h-16zM377 260h16v2h-16zM471 260h2v2h-2zM377 262h16v2h-16zM471 262h4v2h-4zM377 264h16v2h-16zM471 264h4v2h-4zM375 266h16v2h-16zM473 266h2v2h-2zM375 268h16v2h-16zM473 268h2v2h-2zM373 270h18v2h-18zM371 272h18v2h-18zM369 274h18v2h-18zM367 276h20v2h-20zM471 276h2v2h-2zM363 278h22v2h-22zM471 278h2v2h-2zM357 280h26v2h-26zM471 280h2v2h-2zM351 282h30v2h-30zM347 284h30v2h-30zM343 286h32v2h-32zM339 288h30v2h-30zM335 290h28v2h-28zM331 292h24v2h-24zM329 294h20v2h-20zM327 296h18v2h-18zM325 298h16v2h-16zM323 300h14v2h-14zM509 300h18v2h-18zM321 302h14v2h-14zM507 302h22v2h-22zM319 304h14v2h-14zM503 304h28v2h-28zM317 306h14v2h-14zM501 306h32v2h-32zM317 308h12v2h-12zM499 308h34v2h-34zM315 310h14v2h-14zM499 310h36v2h-36zM315 312h12v2h-12zM497 312h14v2h-14zM521 312h16v2h-16zM315 314h10v2h-10zM495 314h12v2h-12zM525 314h12v2h-12zM313 316h12v2h-12zM495 316h10v2h-10zM527 316h12v2h-12zM313 318h12v2h-12zM493 318h10v2h-10zM529 318h10v2h-10zM313 320h10v2h-10zM493 320h8v2h-8zM529 320h10v2h-10zM311 322h12v2h-12zM493 322h6v2h-6zM531 322h10v2h-10zM311 324h12v2h-12zM491 324h8v2h-8zM531 324h10v2h-10zM311 326h12v2h-12zM491 326h6v2h-6zM533 326h10v2h-10zM311 328h12v2h-12zM489 328h8v2h-8zM533 328h10v2h-10zM311 330h10v2h-10zM489 330h6v2h-6zM535 330h8v2h-8zM311 332h10v2h-10zM489 332h6v2h-6zM535 332h10v2h-10zM311 334h10v2h-10zM489 334h4v2h-4zM535 334h10v2h-10zM311 336h12v2h-12zM487 336h6v2h-6zM537 336h10v2h-10zM311 338h12v2h-12zM487 338h4v2h-4zM537 338h10v2h-10zM311 340h10v2h-10zM487 340h4v2h-4zM539 340h8v2h-8zM311 342h10v2h-10zM485 342h6v2h-6zM539 342h8v2h-8zM311 344h10v2h-10zM485 344h6v2h-6zM539 344h10v2h-10zM311 346h10v2h-10zM485 346h4v2h-4zM539 346h10v2h-10zM309 348h12v2h-12zM485 348h4v2h-4zM541 348h8v2h-8zM309 350h12v2h-12zM483 350h6v2h-6zM541 350h10v2h-10zM309 352h12v2h-12zM483 352h4v2h-4zM541 352h10v2h-10zM307 354h12v2h-12zM483 354h4v2h-4zM543 354h8v2h-8zM307 356h12v2h-12zM481 356h6v2h-6zM543 356h10v2h-10zM305 358h14v2h-14zM481 358h6v2h-6zM543 358h10v2h-10zM305 360h12v2h-12zM479 360h6v2h-6zM543 360h10v2h-10zM153 362h8v2h-8zM303 362h12v2h-12zM479 362h6v2h-6zM545 362h10v2h-10zM149 364h14v2h-14zM301 364h12v2h-12zM477 364h6v2h-6zM545 364h10v2h-10zM145 366h20v2h-20zM299 366h12v2h-12zM477 366h6v2h-6zM545 366h12v2h-12zM145 368h20v2h-20zM297 368h12v2h-12zM475 368h8v2h-8zM545 368h12v2h-12zM143 370h22v2h-22zM295 370h12v2h-12zM473 370h8v2h-8zM547 370h12v2h-12zM143 372h22v2h-22zM291 372h14v2h-14zM473 372h6v2h-6zM547 372h12v2h-12zM143 374h22v2h-22zM289 374h14v2h-14zM471 374h8v2h-8zM547 374h14v2h-14zM145 376h18v2h-18zM287 376h12v2h-12zM467 376h10v2h-10zM549 376h12v2h-12zM145 378h16v2h-16zM285 378h12v2h-12zM465 378h10v2h-10zM549 378h14v2h-14zM149 380h8v2h-8zM281 380h14v2h-14zM461 380h12v2h-12zM549 380h14v2h-14zM281 382h12v2h-12zM457 382h14v2h-14zM551 382h14v2h-14zM279 384h12v2h-12zM451 384h16v2h-16zM551 384h16v2h-16zM277 386h12v2h-12zM443 386h22v2h-22zM553 386h16v2h-16zM277 388h12v2h-12zM435 388h26v2h-26zM553 388h16v2h-16zM275 390h12v2h-12zM425 390h32v2h-32zM555 390h16v2h-16zM275 392h12v2h-12zM413 392h38v2h-38zM555 392h18v2h-18zM275 394h12v2h-12zM403 394h42v2h-42zM557 394h18v2h-18zM275 396h12v2h-12zM393 396h44v2h-44zM557 396h20v2h-20zM275 398h12v2h-12zM387 398h44v2h-44zM559 398h18v2h-18zM275 400h12v2h-12zM383 400h40v2h-40zM561 400h18v2h-18zM275 402h14v2h-14zM377 402h40v2h-40zM561 402h20v2h-20zM275 404h14v2h-14zM373 404h38v2h-38zM563 404h20v2h-20zM277 406h14v2h-14zM367 406h38v2h-38zM565 406h20v2h-20zM277 408h16v2h-16zM363 408h36v2h-36zM565 408h22v2h-22zM279 410h18v2h-18zM357 410h38v2h-38zM567 410h22v2h-22zM279 412h22v2h-22zM349 412h42v2h-42zM569 412h22v2h-22zM173 414h8v2h-8zM281 414h28v2h-28zM337 414h48v2h-48zM571 414h22v2h-22zM169 416h16v2h-16zM285 416h94v2h-94zM573 416h22v2h-22zM167 418h20v2h-20zM289 418h84v2h-84zM575 418h22v2h-22zM167 420h22v2h-22zM293 420h72v2h-72zM577 420h24v2h-24zM165 422h26v2h-26zM303 422h50v2h-50zM577 422h26v2h-26zM165 424h26v2h-26zM579 424h26v2h-26zM165 426h28v2h-28zM581 426h28v2h-28zM165 428h28v2h-28zM583 428h28v2h-28zM165 430h28v2h-28zM585 430h30v2h-30zM167 432h26v2h-26zM587 432h30v2h-30zM167 434h26v2h-26zM589 434h32v2h-32zM167 436h26v2h-26zM589 436h34v2h-34zM169 438h24v2h-24zM591 438h36v2h-36zM171 440h20v2h-20zM593 440h38v2h-38zM173 442h16v2h-16zM595 442h42v2h-42zM177 444h8v2h-8zM597 444h42v2h-42zM597 446h42v2h-42zM599 448h40v2h-40zM601 450h38v2h-38zM603 452h36v2h-36zM605 454h34v2h-34zM607 456h32v2h-32zM609 458h30v2h-30zM611 460h28v2h-28zM613 462h26v2h-26zM617 464h22v2h-22zM621 466h18v2h-18zM625 468h14v2h-14zM633 470h6v2h-6z"/>
<path fill="#0080ff" d="M529 36h12v2h-12zM527 38h14v2h-14zM527 40h14v2h-14zM527 42h14v2h-14zM527 44h14v2h-14zM525 46h16v2h-16zM525 48h16v2h-16zM525 50h16v2h-16zM523 52h18v2h-18zM523 54h18v2h-18zM523 56h18v2h-18zM523 58h18v2h-18zM521 60h20v2h-20zM521 62h20v2h-20zM521 64h20v2h-20zM521 66h20v2h-20zM627 66h6v2h-6zM521 68h20v2h-20zM623 68h2v2h-2zM633 68h2v2h-2zM519 70h22v2h-22zM633 70h2v2h-2zM519 72h22v2h-22zM621 72h2v2h-2zM633 72h2v2h-2zM519 74h22v2h-22zM621 74h2v2h-2zM631 74h2v2h-2zM519 76h20v2h-20zM623 76h6v2h-6zM519 78h20v2h-20zM521 80h18v2h-18zM521 82h18v2h-18zM521 84h18v2h-18zM521 86h18v2h-18zM521 88h18v2h-18zM521 90h20v2h-20zM523 92h18v2h-18zM523 94h20v2h-20zM603 94h6v2h-6zM523 96h22v2h-22zM601 96h2v2h-2zM607 96h2v2h-2zM525 98h24v2h-24zM599 98h2v2h-2zM607 98h2v2h-2zM525 100h28v2h-28zM597 100h2v2h-2zM607 100h2v2h-2zM525 102h32v2h-32zM597 102h2v2h-2zM607 102h2v2h-2zM527 104h32v2h-32zM595 104h2v2h-2zM607 104h2v2h-2zM529 106h32v2h-32zM593 106h2v2h-2zM607 106h2v2h-2zM531 108h30v2h-30zM583 108h12v2h-12zM607 108h2v2h-2zM533 110h28v2h-28zM591 110h6v2h-6zM605 110h2v2h-2zM533 112h28v2h-28zM595 112h10v2h-10zM535 114h26v2h-26zM535 116h24v2h-24zM535 118h20v2h-20zM535 120h10v2h-10zM533 122h6v2h-6zM533 124h4v2h-4zM531 126h4v2h-4zM529 128h4v2h-4zM525 130h8v2h-8zM521 132h10v2h-10zM521 134h8v2h-8zM553 134h8v2h-8zM519 136h10v2h-10zM553 136h2v2h-2zM559 136h2v2h-2zM517 138h26v2h-26zM553 138h6v2h-6zM517 140h14v2h-14zM541 140h4v2h-4zM515 142h12v2h-12zM543 142h2v2h-2zM513 144h12v2h-12zM541 144h2v2h-2zM511 146h14v2h-14zM541 146h2v2h-2zM509 148h18v2h-18zM537 148h2v2h-2zM505 150h12v2h-12zM523 150h12v2h-12zM503 152h12v2h-12zM501 154h10v2h-10zM499 156h10v2h-10zM497 158h10v2h-10zM495 160h10v2h-10zM493 162h10v2h-10zM493 164h8v2h-8zM491 166h8v2h-8zM491 168h6v2h-6zM489 170h8v2h-8zM489 172h6v2h-6zM487 174h6v2h-6zM487 176h6v2h-6zM485 178h6v2h-6zM485 180h6v2h-6zM485 182h4v2h-4zM483 184h6v2h-6zM483 186h6v2h-6zM481 188h6v2h-6zM479 190h8v2h-8zM479 192h6v2h-6zM477 194h8v2h-8zM475 196h8v2h-8zM473 198h8v2h-8zM471 200h10v2h-10zM469 202h10v2h-10zM465 204h12v2h-12zM445 206h2v2h-2zM451 206h24v2h-24zM435 208h38v2h-38zM429 210h40v2h-40zM497 210h2v2h-2zM425 212h40v2h-40zM497 212h2v2h-2zM419 214h24v2h-24zM397 216h42v2h-42zM389 218h46v2h-46zM385 220h48v2h-48zM385 222h46v2h-46zM383 224h46v2h-46zM383 226h44v2h-44zM383 228h42v2h-42zM385 230h38v2h-38zM385 232h36v2h-36zM387 234h32v2h-32zM387 236h30v2h-30zM389 238h26v2h-26zM487 238h12v2h-12zM389 240h26v2h-26zM485 240h4v2h-4zM497 240h2v2h-2zM391 242h22v2h-22zM485 242h4v2h-4zM497 242h4v2h-4zM391 244h20v2h-20zM487 244h4v2h-4zM495 244h4v2h-4zM393 246h18v2h-18zM489 246h8v2h-8zM393 248h16v2h-16zM393 250h16v2h-16zM393 252h16v2h-16zM395 254h12v2h-12zM473 254h2v2h-2zM393 256h14v2h-14zM471 256h4v2h-4zM393 258h12v2h-12zM471 258h4v2h-4zM393 260h12v2h-12zM473 260h2v2h-2zM393 262h12v2h-12zM393 264h10v2h-10zM391 266h12v2h-12zM391 268h12v2h-12zM391 270h10v2h-10zM473 270h2v2h-2zM389 272h12v2h-12zM473 272h2v2h-2zM387 274h12v2h-12zM473 274h2v2h-2zM387 276h12v2h-12zM473 276h2v2h-2zM385 278h12v2h-12zM383 280h14v2h-14zM381 282h14v2h-14zM471 282h2v2h-2zM377 284h16v2h-16zM471 284h2v2h-2zM375 286h16v2h-16zM515 286h16v2h-16zM369 288h20v2h-20zM509 288h26v2h-26zM363 290h24v2h-24zM505 290h34v2h-34zM355 292h28v2h-28zM503 292h38v2h-38zM349 294h30v2h-30zM501 294h42v2h-42zM345 296h30v2h-30zM499 296h44v2h-44zM341 298h28v2h-28zM497 298h48v2h-48zM337 300h26v2h-26zM495 300h14v2h-14zM527 300h20v2h-20zM335 302h22v2h-22zM495 302h12v2h-12zM529 302h18v2h-18zM333 304h20v2h-20zM493 304h10v2h-10zM531 304h18v2h-18zM331 306h18v2h-18zM493 306h8v2h-8zM533 306h16v2h-16zM329 308h18v2h-18zM491 308h8v2h-8zM533 308h18v2h-18zM329 310h16v2h-16zM491 310h8v2h-8zM535 310h16v2h-16zM327 312h16v2h-16zM489 312h8v2h-8zM537 312h16v2h-16zM325 314h16v2h-16zM489 314h6v2h-6zM537 314h16v2h-16zM635 314h4v2h-4zM325 316h14v2h-14zM489 316h6v2h-6zM539 316h14v2h-14zM635 316h4v2h-4zM325 318h12v2h-12zM487 318h6v2h-6zM539 318h16v2h-16zM633 318h6v2h-6zM323 320h14v2h-14zM487 320h6v2h-6zM539 320h16v2h-16zM631 320h8v2h-8zM323 322h12v2h-12zM487 322h6v2h-6zM541 322h16v2h-16zM629 322h10v2h-10zM323 324h12v2h-12zM485 324h6v2h-6zM541 324h16v2h-16zM627 324h12v2h-12zM323 326h12v2h-12zM485 326h6v2h-6zM543 326h14v2h-14zM627 326h12v2h-12zM323 328h12v2h-12zM485 328h4v2h-4zM543 328h16v2h-16zM625 328h14v2h-14zM321 330h12v2h-12zM483 330h6v2h-6zM543 330h16v2h-16zM623 330h16v2h-16zM321 332h12v2h-12zM483 332h6v2h-6zM545 332h14v2h-14zM621 332h18v2h-18zM321 334h12v2h-12zM483 334h6v2h-6zM545 334h16v2h-16zM619 334h20v2h-20zM323 336h10v2h-10zM483 336h4v2h-4zM547 336h14v2h-14zM617 336h22v2h-22zM323 338h10v2h-10zM481 338h6v2h-6zM547 338h14v2h-14zM615 338h24v2h-24zM321 340h12v2h-12zM481 340h6v2h-6zM547 340h16v2h-16zM613 340h26v2h-26zM321 342h12v2h-12zM481 342h4v2h-4zM547 342h16v2h-16zM611 342h28v2h-28zM321 344h12v2h-12zM481 344h4v2h-4zM549 344h16v2h-16zM609 344h30v2h-30zM321 346h12v2h-12zM479 346h6v2h-6zM549 346h16v2h-16zM607 346h32v2h-32zM321 348h12v2h-12zM479 348h6v2h-6zM549 348h18v2h-18zM607 348h32v2h-32zM321 350h12v2h-12zM477 350h6v2h-6zM551 350h18v2h-18zM605 350h34v2h-34zM321 352h12v2h-12zM477 352h6v2h-6zM551 352h20v2h-20zM603 352h36v2h-36zM319 354h12v2h-12zM477 354h6v2h-6zM551 354h24v2h-24zM599 354h40v2h-40zM319 356h12v2h-12zM475 356h6v2h-6zM553 356h30v2h-30zM595 356h44v2h-44zM319 358h10v2h-10zM475 358h6v2h-6zM553 358h86v2h-86zM317 360h10v2h-10zM473 360h6v2h-6zM553 360h86v2h-86zM315 362h10v2h-10zM473 362h6v2h-6zM555 362h84v2h-84zM313 364h10v2h-10zM471 364h6v2h-6zM555 364h84v2h-84zM311 366h10v2h-10zM469 366h8v2h-8zM557 366h82v2h-82zM309 368h10v2h-10zM467 368h8v2h-8zM557 368h82v2h-82zM307 370h10v2h-10zM465 370h8v2h-8zM559 370h80v2h-80zM305 372h10v2h-10zM463 372h10v2h-10zM559 372h80v2h-80zM303 374h10v2h-10zM459 374h12v2h-12zM561 374h78v2h-78zM299 376h10v2h-10zM455 376h12v2h-12zM561 376h78v2h-78zM297 378h10v2h-10zM449 378h16v2h-16zM563 378h76v2h-76zM295 380h10v2h-10zM439 380h22v2h-22zM563 380h76v2h-76zM293 382h10v2h-10zM425 382h32v2h-32zM565 382h74v2h-74zM291 384h12v2h-12zM389 384h62v2h-62zM567 384h72v2h-72zM289 386h12v2h-12zM381 386h62v2h-62zM569 386h70v2h-70zM289 388h12v2h-12zM377 388h58v2h-58zM569 388h70v2h-70zM287 390h12v2h-12zM371 390h54v2h-54zM571 390h68v2h-68zM287 392h12v2h-12zM367 392h46v2h-46zM573 392h66v2h-66zM287 394h14v2h-14zM363 394h40v2h-40zM575 394h64v2h-64zM287 396h14v2h-14zM359 396h34v2h-34zM577 396h62v2h-62zM287 398h16v2h-16zM355 398h32v2h-32zM577 398h62v2h-62zM287 400h18v2h-18zM349 400h34v2h-34zM579 400h60v2h-60zM289 402h20v2h-20zM343 402h34v2h-34zM581 402h58v2h-58zM289 404h28v2h-28zM329 404h44v2h-44zM583 404h56v2h-56zM291 406h76v2h-76zM585 406h54v2h-54zM293 408h70v2h-70zM587 408h52v2h-52zM297 410h60v2h-60zM589 410h50v2h-50zM301 412h48v2h-48zM591 412h48v2h-48zM309 414h28v2h-28zM593 414h46v2h-46zM595 416h44v2h-44zM597 418h42v2h-42zM601 420h38v2h-38zM603 422h36v2h-36zM605 424h34v2h-34zM609 426h30v2h-30zM611 428h28v2h-28zM615 430h24v2h-24zM617 432h22v2h-22zM621 434h18v2h-18zM623 436h16v2h-16zM627 438h12v2h-12zM631 440h8v2h-8zM637 442h2v2h-2z"/>
<path fill="#0099ff" d="M541 36h12v2h-12zM541 38h12v2h-12zM541 40h12v2h-12zM541 42h12v2h-12zM541 44h12v2h-12zM541 46h14v2h-14zM541 48h14v2h-14zM541 50h14v2h-14zM541 52h14v2h-14zM541 54h14v2h-14zM541 56h14v2h-14zM541 58h14v2h-14zM541 60h14v2h-14zM541 62h14v2h-14zM541 64h14v2h-14zM629 64h4v2h-4zM541 66h14v2h-14zM625 66h2v2h-2zM633 66h4v2h-4zM541 68h14v2h-14zM635 68h2v2h-2zM541 70h14v2h-14zM621 70h2v2h-2zM635 70h2v2h-2zM541 72h14v2h-14zM635 72h2v2h-2zM541 74h14v2h-14zM633 74h2v2h-2zM539 76h16v2h-16zM621 76h2v2h-2zM629 76h4v2h-4zM539 78h16v2h-16zM625 78h2v2h-2zM539 80h16v2h-16zM539 82h16v2h-16zM539 84h16v2h-16zM539 86h16v2h-16zM539 88h18v2h-18zM541 90h16v2h-16zM541 92h18v2h-18zM605 92h6v2h-6zM543 94h18v2h-18zM601 94h2v2h-2zM609 94h2v2h-2zM545 96h18v2h-18zM599 96h2v2h-2zM609 96h2v2h-2zM549 98h16v2h-16zM597 98h2v2h-2zM609 98h2v2h-2zM553 100h12v2h-12zM595 100h2v2h-2zM609 100h2v2h-2zM557 102h10v2h-10zM595 102h2v2h-2zM609 102h2v2h-2zM559 104h10v2h-10zM591 104h4v2h-4zM609 104h2v2h-2zM561 106h8v2h-8zM579 106h14v2h-14zM609 106h2v2h-2zM561 108h10v2h-10zM577 108h6v2h-6zM609 108h2v2h-2zM561 110h10v2h-10zM579 110h12v2h-12zM607 110h2v2h-2zM561 112h8v2h-8zM591 112h4v2h-4zM605 112h2v2h-2zM561 114h8v2h-8zM595 114h10v2h-10zM559 116h10v2h-10zM555 118h12v2h-12zM545 120h20v2h-20zM539 122h24v2h-24zM537 124h22v2h-22zM535 126h18v2h-18zM533 128h14v2h-14zM533 130h10v2h-10zM531 132h10v2h-10zM551 132h10v2h-10zM529 134h14v2h-14zM551 134h2v2h-2zM529 136h16v2h-16zM549 136h4v2h-4zM561 136h2v2h-2zM543 138h4v2h-4zM551 138h2v2h-2zM559 138h2v2h-2zM545 140h2v2h-2zM545 142h2v2h-2zM543 144h2v2h-2zM543 146h2v2h-2zM539 148h2v2h-2zM517 150h6v2h-6zM535 150h4v2h-4zM515 152h18v2h-18zM511 154h14v2h-14zM509 156h12v2h-12zM507 158h10v2h-10zM505 160h10v2h-10zM503 162h8v2h-8zM501 164h8v2h-8zM499 166h8v2h-8zM497 168h8v2h-8zM497 170h6v2h-6zM495 172h8v2h-8zM493 174h8v2h-8zM493 176h6v2h-6zM491 178h8v2h-8zM491 180h6v2h-6zM489 182h6v2h-6zM489 184h6v2h-6zM489 186h4v2h-4zM487 188h6v2h-6zM487 190h4v2h-4zM485 192h6v2h-6zM485 194h4v2h-4zM483 196h6v2h-6zM635 196h4v2h-4zM481 198h6v2h-6zM631 198h8v2h-8zM481 200h6v2h-6zM627 200h12v2h-12zM479 202h6v2h-6zM623 202h16v2h-16zM477 204h8v2h-8zM619 204h20v2h-20zM475 206h8v2h-8zM497 206h2v2h-2zM617 206h22v2h-22zM473 208h8v2h-8zM497 208h4v2h-4zM613 208h26v2h-26zM469 210h12v2h-12zM495 210h2v2h-2zM499 210h2v2h-2zM611 210h28v2h-28zM465 212h14v2h-14zM495 212h2v2h-2zM499 212h2v2h-2zM609 212h30v2h-30zM443 214h34v2h-34zM497 214h4v2h-4zM607 214h32v2h-32zM439 216h36v2h-36zM497 216h2v2h-2zM605 216h34v2h-34zM435 218h38v2h-38zM603 218h36v2h-36zM433 220h12v2h-12zM603 220h36v2h-36zM431 222h10v2h-10zM601 222h38v2h-38zM429 224h10v2h-10zM599 224h40v2h-40zM427 226h10v2h-10zM599 226h40v2h-40zM425 228h10v2h-10zM599 228h40v2h-40zM423 230h10v2h-10zM597 230h42v2h-42zM421 232h10v2h-10zM597 232h42v2h-42zM419 234h12v2h-12zM489 234h4v2h-4zM597 234h42v2h-42zM417 236h12v2h-12zM483 236h16v2h-16zM595 236h44v2h-44zM415 238h14v2h-14zM483 238h4v2h-4zM499 238h2v2h-2zM595 238h44v2h-44zM415 240h12v2h-12zM481 240h4v2h-4zM499 240h4v2h-4zM595 240h44v2h-44zM413 242h12v2h-12zM481 242h4v2h-4zM501 242h2v2h-2zM595 242h44v2h-44zM411 244h14v2h-14zM473 244h2v2h-2zM483 244h4v2h-4zM499 244h4v2h-4zM595 244h44v2h-44zM411 246h12v2h-12zM473 246h2v2h-2zM485 246h4v2h-4zM497 246h4v2h-4zM595 246h44v2h-44zM409 248h14v2h-14zM473 248h2v2h-2zM489 248h8v2h-8zM595 248h44v2h-44zM409 250h12v2h-12zM471 250h4v2h-4zM597 250h42v2h-42zM409 252h12v2h-12zM471 252h4v2h-4zM597 252h42v2h-42zM407 254h12v2h-12zM471 254h2v2h-2zM597 254h42v2h-42zM407 256h12v2h-12zM597 256h42v2h-42zM405 258h12v2h-12zM597 258h42v2h-42zM405 260h12v2h-12zM597 260h42v2h-42zM405 262h10v2h-10zM597 262h42v2h-42zM403 264h12v2h-12zM597 264h42v2h-42zM403 266h10v2h-10zM469 266h2v2h-2zM597 266h42v2h-42zM403 268h10v2h-10zM469 268h2v2h-2zM595 268h44v2h-44zM401 270h10v2h-10zM469 270h2v2h-2zM539 270h40v2h-40zM591 270h48v2h-48zM401 272h10v2h-10zM469 272h2v2h-2zM531 272h108v2h-108zM399 274h10v2h-10zM469 274h2v2h-2zM523 274h116v2h-116zM399 276h10v2h-10zM469 276h2v2h-2zM509 276h130v2h-130zM397 278h10v2h-10zM469 278h2v2h-2zM473 278h2v2h-2zM505 278h134v2h-134zM397 280h10v2h-10zM469 280h2v2h-2zM473 280h2v2h-2zM501 280h138v2h-138zM395 282h10v2h-10zM469 282h2v2h-2zM499 282h140v2h-140zM393 284h12v2h-12zM469 284h2v2h-2zM497 284h142v2h-142zM391 286h12v2h-12zM471 286h2v2h-2zM495 286h20v2h-20zM531 286h108v2h-108zM389 288h12v2h-12zM471 288h2v2h-2zM493 288h16v2h-16zM535 288h104v2h-104zM387 290h12v2h-12zM471 290h2v2h-2zM493 290h12v2h-12zM539 290h100v2h-100zM383 292h16v2h-16zM491 292h12v2h-12zM541 292h98v2h-98zM379 294h16v2h-16zM491 294h10v2h-10zM543 294h96v2h-96zM375 296h18v2h-18zM489 296h10v2h-10zM543 296h96v2h-96zM369 298h22v2h-22zM489 298h8v2h-8zM545 298h94v2h-94zM363 300h26v2h-26zM489 300h6v2h-6zM547 300h92v2h-92zM357 302h30v2h-30zM487 302h8v2h-8zM547 302h92v2h-92zM353 304h30v2h-30zM487 304h6v2h-6zM549 304h90v2h-90zM349 306h32v2h-32zM485 306h8v2h-8zM549 306h90v2h-90zM347 308h30v2h-30zM485 308h6v2h-6zM551 308h88v2h-88zM345 310h30v2h-30zM485 310h6v2h-6zM551 310h88v2h-88zM343 312h28v2h-28zM483 312h6v2h-6zM553 312h86v2h-86zM341 314h26v2h-26zM483 314h6v2h-6zM553 314h82v2h-82zM339 316h24v2h-24zM483 316h6v2h-6zM553 316h82v2h-82zM337 318h24v2h-24zM481 318h6v2h-6zM555 318h78v2h-78zM337 320h20v2h-20zM481 320h6v2h-6zM555 320h76v2h-76zM335 322h20v2h-20zM481 322h6v2h-6zM557 322h72v2h-72zM335 324h20v2h-20zM479 324h6v2h-6zM557 324h70v2h-70zM335 326h18v2h-18zM479 326h6v2h-6zM557 326h70v2h-70zM335 328h18v2h-18zM479 328h6v2h-6zM559 328h66v2h-66zM333 330h18v2h-18zM479 330h4v2h-4zM559 330h64v2h-64zM333 332h18v2h-18zM477 332h6v2h-6zM559 332h62v2h-62zM333 334h18v2h-18zM477 334h6v2h-6zM561 334h58v2h-58zM333 336h18v2h-18zM477 336h6v2h-6zM561 336h56v2h-56zM333 338h18v2h-18zM475 338h6v2h-6zM561 338h54v2h-54zM333 340h18v2h-18zM475 340h6v2h-6zM563 340h50v2h-50zM333 342h18v2h-18zM475 342h6v2h-6zM563 342h48v2h-48zM333 344h18v2h-18zM473 344h8v2h-8zM565 344h44v2h-44zM333 346h18v2h-18zM473 346h6v2h-6zM565 346h42v2h-42zM333 348h18v2h-18zM473 348h6v2h-6zM567 348h40v2h-40zM333 350h18v2h-18zM471 350h6v2h-6zM569 350h36v2h-36zM333 352h18v2h-18zM471 352h6v2h-6zM571 352h32v2h-32zM331 354h18v2h-18zM469 354h8v2h-8zM575 354h24v2h-24zM331 356h16v2h-16zM469 356h6v2h-6zM583 356h12v2h-12zM329 358h16v2h-16zM467 358h8v2h-8zM327 360h14v2h-14zM465 360h8v2h-8zM325 362h12v2h-12zM463 362h10v2h-10zM323 364h12v2h-12zM461 364h10v2h-10zM321 366h10v2h-10zM459 366h10v2h-10zM319 368h10v2h-10zM457 368h10v2h-10zM317 370h8v2h-8zM451 370h14v2h-14zM315 372h8v2h-8zM383 372h12v2h-12zM445 372h18v2h-18zM313 374h8v2h-8zM379 374h26v2h-26zM435 374h24v2h-24zM309 376h10v2h-10zM375 376h80v2h-80zM307 378h8v2h-8zM371 378h78v2h-78zM305 380h10v2h-10zM369 380h70v2h-70zM303 382h10v2h-10zM367 382h58v2h-58zM303 384h8v2h-8zM363 384h26v2h-26zM301 386h10v2h-10zM361 386h20v2h-20zM301 388h10v2h-10zM357 388h20v2h-20zM299 390h12v2h-12zM353 390h18v2h-18zM299 392h14v2h-14zM347 392h20v2h-20zM301 394h16v2h-16zM341 394h22v2h-22zM301 396h58v2h-58zM303 398h52v2h-52zM305 400h44v2h-44zM309 402h34v2h-34zM317 404h12v2h-12z"/>
<path fill="#00b2ff" d="M553 36h10v2h-10zM553 38h10v2h-10zM553 40h10v2h-10zM553 42h10v2h-10zM553 44h10v2h-10zM555 46h10v2h-10zM555 48h10v2h-10zM555 50h10v2h-10zM555 52h10v2h-10zM555 54h10v2h-10zM555 56h10v2h-10zM555 58h10v2h-10zM555 60h12v2h-12zM555 62h12v2h-12zM555 64h12v2h-12zM625 64h4v2h-4zM633 64h4v2h-4zM555 66h12v2h-12zM623 66h2v2h-2zM637 66h2v2h-2zM555 68h12v2h-12zM621 68h2v2h-2zM637 68h2v2h-2zM555 70h12v2h-12zM619 70h2v2h-2zM637 70h2v2h-2zM555 72h12v2h-12zM619 72h2v2h-2zM637 72h2v2h-2zM555 74h12v2h-12zM619 74h2v2h-2zM635 74h2v2h-2zM555 76h12v2h-12zM619 76h2v2h-2zM633 76h2v2h-2zM555 78h12v2h-12zM621 78h4v2h-4zM627 78h6v2h-6zM555 80h12v2h-12zM555 82h12v2h-12zM555 84h12v2h-12zM555 86h14v2h-14zM557 88h12v2h-12zM557 90h12v2h-12zM605 90h6v2h-6zM559 92h12v2h-12zM601 92h4v2h-4zM611 92h2v2h-2zM561 94h10v2h-10zM599 94h2v2h-2zM611 94h2v2h-2zM563 96h10v2h-10zM597 96h2v2h-2zM611 96h2v2h-2zM565 98h8v2h-8zM595 98h2v2h-2zM611 98h2v2h-2zM565 100h10v2h-10zM593 100h2v2h-2zM611 100h2v2h-2zM567 102h8v2h-8zM591 102h4v2h-4zM611 102h2v2h-2zM569 104h22v2h-22zM611 104h2v2h-2zM569 106h10v2h-10zM611 106h2v2h-2zM571 108h6v2h-6zM611 108h2v2h-2zM571 110h8v2h-8zM609 110h2v2h-2zM569 112h22v2h-22zM607 112h4v2h-4zM569 114h10v2h-10zM589 114h6v2h-6zM605 114h4v2h-4zM569 116h8v2h-8zM593 116h14v2h-14zM567 118h10v2h-10zM599 118h2v2h-2zM565 120h10v2h-10zM563 122h10v2h-10zM559 124h12v2h-12zM553 126h16v2h-16zM547 128h18v2h-18zM543 130h20v2h-20zM541 132h10v2h-10zM561 132h2v2h-2zM543 134h8v2h-8zM561 134h4v2h-4zM545 136h4v2h-4zM563 136h2v2h-2zM547 138h4v2h-4zM561 138h2v2h-2zM547 140h14v2h-14zM547 142h4v2h-4zM545 144h4v2h-4zM545 146h2v2h-2zM541 148h4v2h-4zM539 150h4v2h-4zM533 152h6v2h-6zM525 154h10v2h-10zM521 156h10v2h-10zM517 158h12v2h-12zM515 160h10v2h-10zM511 162h12v2h-12zM509 164h12v2h-12zM507 166h10v2h-10zM635 166h4v2h-4zM505 168h10v2h-10zM631 168h8v2h-8zM503 170h10v2h-10zM627 170h12v2h-12zM503 172h8v2h-8zM625 172h14v2h-14zM501 174h8v2h-8zM621 174h18v2h-18zM499 176h8v2h-8zM619 176h20v2h-20zM499 178h6v2h-6zM617 178h22v2h-22zM497 180h8v2h-8zM615 180h24v2h-24zM495 182h8v2h-8zM613 182h26v2h-26zM495 184h6v2h-6zM611 184h28v2h-28zM493 186h8v2h-8zM609 186h30v2h-30zM493 188h6v2h-6zM607 188h32v2h-32zM491 190h8v2h-8zM605 190h34v2h-34zM491 192h6v2h-6zM603 192h36v2h-36zM489 194h8v2h-8zM601 194h38v2h-38zM489 196h6v2h-6zM599 196h36v2h-36zM487 198h8v2h-8zM595 198h36v2h-36zM487 200h6v2h-6zM593 200h34v2h-34zM485 202h8v2h-8zM593 202h30v2h-30zM485 204h6v2h-6zM495 204h6v2h-6zM591 204h28v2h-28zM483 206h6v2h-6zM495 206h2v2h-2zM499 206h2v2h-2zM589 206h28v2h-28zM481 208h8v2h-8zM495 208h2v2h-2zM501 208h2v2h-2zM587 208h26v2h-26zM481 210h6v2h-6zM501 210h2v2h-2zM585 210h26v2h-26zM479 212h8v2h-8zM501 212h2v2h-2zM585 212h24v2h-24zM477 214h8v2h-8zM495 214h2v2h-2zM501 214h2v2h-2zM583 214h24v2h-24zM475 216h10v2h-10zM495 216h2v2h-2zM499 216h2v2h-2zM583 216h22v2h-22zM473 218h10v2h-10zM497 218h4v2h-4zM581 218h22v2h-22zM445 220h38v2h-38zM581 220h22v2h-22zM441 222h40v2h-40zM579 222h22v2h-22zM439 224h40v2h-40zM579 224h20v2h-20zM437 226h8v2h-8zM463 226h16v2h-16zM577 226h22v2h-22zM435 228h6v2h-6zM469 228h8v2h-8zM577 228h22v2h-22zM433 230h6v2h-6zM471 230h6v2h-6zM575 230h22v2h-22zM431 232h6v2h-6zM471 232h8v2h-8zM481 232h12v2h-12zM575 232h22v2h-22zM431 234h6v2h-6zM471 234h18v2h-18zM493 234h6v2h-6zM573 234h24v2h-24zM429 236h6v2h-6zM471 236h12v2h-12zM499 236h2v2h-2zM571 236h24v2h-24zM429 238h6v2h-6zM471 238h12v2h-12zM501 238h2v2h-2zM571 238h24v2h-24zM427 240h6v2h-6zM471 240h10v2h-10zM503 240h2v2h-2zM569 240h26v2h-26zM425 242h8v2h-8zM471 242h10v2h-10zM503 242h2v2h-2zM567 242h28v2h-28zM425 244h6v2h-6zM471 244h2v2h-2zM475 244h8v2h-8zM503 244h2v2h-2zM563 244h32v2h-32zM423 246h8v2h-8zM471 246h2v2h-2zM475 246h2v2h-2zM481 246h4v2h-4zM501 246h2v2h-2zM561 246h34v2h-34zM423 248h6v2h-6zM471 248h2v2h-2zM475 248h2v2h-2zM483 248h6v2h-6zM497 248h6v2h-6zM557 248h38v2h-38zM421 250h8v2h-8zM475 250h2v2h-2zM485 250h14v2h-14zM553 250h44v2h-44zM421 252h8v2h-8zM475 252h2v2h-2zM547 252h50v2h-50zM419 254h8v2h-8zM475 254h2v2h-2zM543 254h54v2h-54zM419 256h8v2h-8zM475 256h2v2h-2zM537 256h60v2h-60zM417 258h8v2h-8zM475 258h2v2h-2zM535 258h62v2h-62zM417 260h8v2h-8zM469 260h2v2h-2zM475 260h2v2h-2zM531 260h66v2h-66zM415 262h10v2h-10zM469 262h2v2h-2zM475 262h2v2h-2zM529 262h68v2h-68zM415 264h8v2h-8zM469 264h2v2h-2zM475 264h2v2h-2zM525 264h72v2h-72zM413 266h10v2h-10zM475 266h2v2h-2zM519 266h78v2h-78zM413 268h8v2h-8zM475 268h2v2h-2zM499 268h96v2h-96zM411 270h10v2h-10zM495 270h44v2h-44zM579 270h12v2h-12zM411 272h8v2h-8zM493 272h38v2h-38zM409 274h10v2h-10zM491 274h32v2h-32zM409 276h10v2h-10zM491 276h18v2h-18zM407 278h10v2h-10zM489 278h16v2h-16zM407 280h10v2h-10zM489 280h12v2h-12zM405 282h10v2h-10zM473 282h2v2h-2zM489 282h10v2h-10zM405 284h10v2h-10zM473 284h2v2h-2zM487 284h10v2h-10zM403 286h10v2h-10zM469 286h2v2h-2zM473 286h2v2h-2zM487 286h8v2h-8zM401 288h12v2h-12zM469 288h2v2h-2zM487 288h6v2h-6zM399 290h12v2h-12zM469 290h2v2h-2zM485 290h8v2h-8zM399 292h10v2h-10zM469 292h4v2h-4zM485 292h6v2h-6zM395 294h14v2h-14zM471 294h2v2h-2zM485 294h6v2h-6zM393 296h14v2h-14zM483 296h6v2h-6zM391 298h14v2h-14zM483 298h6v2h-6zM389 300h16v2h-16zM483 300h6v2h-6zM387 302h16v2h-16zM481 302h6v2h-6zM383 304h18v2h-18zM481 304h6v2h-6zM381 306h18v2h-18zM481 306h4v2h-4zM377 308h20v2h-20zM479 308h6v2h-6zM375 310h22v2h-22zM479 310h6v2h-6zM371 312h24v2h-24zM477 312h6v2h-6zM367 314h26v2h-26zM477 314h6v2h-6zM363 316h28v2h-28zM477 316h6v2h-6zM361 318h30v2h-30zM475 318h6v2h-6zM357 320h32v2h-32zM475 320h6v2h-6zM355 322h32v2h-32zM475 322h6v2h-6zM355 324h32v2h-32zM473 324h6v2h-6zM353 326h34v2h-34zM473 326h6v2h-6zM353 328h32v2h-32zM471 328h8v2h-8zM351 330h34v2h-34zM471 330h8v2h-8zM351 332h34v2h-34zM471 332h6v2h-6zM351 334h34v2h-34zM469 334h8v2h-8zM351 336h34v2h-34zM469 336h8v2h-8zM351 338h34v2h-34zM469 338h6v2h-6zM351 340h36v2h-36zM469 340h6v2h-6zM351 342h36v2h-36zM467 342h8v2h-8zM351 344h36v2h-36zM467 344h6v2h-6zM351 346h38v2h-38zM465 346h8v2h-8zM351 348h38v2h-38zM465 348h8v2h-8zM351 350h40v2h-40zM463 350h8v2h-8zM351 352h42v2h-42zM463 352h8v2h-8zM349 354h46v2h-46zM461 354h8v2h-8zM347 356h50v2h-50zM459 356h10v2h-10zM345 358h54v2h-54zM457 358h10v2h-10zM341 360h60v2h-60zM455 360h10v2h-10zM337 362h68v2h-68zM451 362h12v2h-12zM335 364h74v2h-74zM445 364h16v2h-16zM331 366h18v2h-18zM357 366h58v2h-58zM437 366h22v2h-22zM329 368h12v2h-12zM361 368h96v2h-96zM325 370h12v2h-12zM361 370h90v2h-90zM323 372h10v2h-10zM361 372h22v2h-22zM395 372h50v2h-50zM321 374h8v2h-8zM361 374h18v2h-18zM405 374h30v2h-30zM319 376h8v2h-8zM361 376h14v2h-14zM315 378h10v2h-10zM359 378h12v2h-12zM315 380h8v2h-8zM357 380h12v2h-12zM313 382h8v2h-8zM355 382h12v2h-12zM311 384h10v2h-10zM351 384h12v2h-12zM311 386h10v2h-10zM347 386h14v2h-14zM311 388h14v2h-14zM341 388h16v2h-16zM311 390h42v2h-42zM313 392h34v2h-34zM317 394h24v2h-24z"/>
<path fill="#00ccff" d="M563 36h8v2h-8zM563 38h8v2h-8zM563 40h10v2h-10zM563 42h10v2h-10zM563 44h10v2h-10zM565 46h8v2h-8zM565 48h8v2h-8zM565 50h8v2h-8zM565 52h10v2h-10zM565 54h10v2h-10zM565 56h10v2h-10zM565 58h10v2h-10zM567 60h8v2h-8zM633 60h4v2h-4zM567 62h8v2h-8zM627 62h12v2h-12zM567 64h8v2h-8zM623 64h2v2h-2zM637 64h2v2h-2zM567 66h10v2h-10zM621 66h2v2h-2zM567 68h10v2h-10zM619 68h2v2h-2zM567 70h10v2h-10zM617 70h2v2h-2zM567 72h10v2h-10zM617 72h2v2h-2zM567 74h10v2h-10zM617 74h2v2h-2zM637 74h2v2h-2zM567 76h10v2h-10zM617 76h2v2h-2zM635 76h4v2h-4zM567 78h10v2h-10zM617 78h4v2h-4zM633 78h4v2h-4zM567 80h10v2h-10zM619 80h14v2h-14zM567 82h10v2h-10zM567 84h12v2h-12zM569 86h10v2h-10zM569 88h10v2h-10zM605 88h10v2h-10zM569 90h12v2h-12zM601 90h4v2h-4zM611 90h6v2h-6zM571 92h10v2h-10zM597 92h4v2h-4zM613 92h4v2h-4zM571 94h10v2h-10zM595 94h4v2h-4zM613 94h4v2h-4zM573 96h10v2h-10zM593 96h4v2h-4zM613 96h2v2h-2zM573 98h10v2h-10zM591 98h4v2h-4zM613 98h2v2h-2zM575 100h18v2h-18zM613 100h2v2h-2zM575 102h16v2h-16zM613 102h2v2h-2zM613 104h2v2h-2zM613 106h2v2h-2zM613 108h2v2h-2zM611 110h4v2h-4zM611 112h4v2h-4zM579 114h10v2h-10zM609 114h4v2h-4zM577 116h16v2h-16zM607 116h4v2h-4zM577 118h22v2h-22zM601 118h8v2h-8zM575 120h32v2h-32zM573 122h30v2h-30zM571 124h18v2h-18zM569 126h18v2h-18zM565 128h20v2h-20zM563 130h22v2h-22zM563 132h18v2h-18zM565 134h14v2h-14zM565 136h6v2h-6zM563 138h6v2h-6zM561 140h4v2h-4zM613 140h26v2h-26zM551 142h12v2h-12zM605 142h34v2h-34zM549 144h8v2h-8zM603 144h36v2h-36zM547 146h6v2h-6zM599 146h40v2h-40zM545 148h6v2h-6zM599 148h40v2h-40zM543 150h6v2h-6zM597 150h42v2h-42zM539 152h8v2h-8zM597 152h42v2h-42zM535 154h10v2h-10zM595 154h44v2h-44zM531 156h12v2h-12zM595 156h44v2h-44zM529 158h12v2h-12zM595 158h44v2h-44zM525 160h14v2h-14zM595 160h44v2h-44zM523 162h14v2h-14zM593 162h46v2h-46zM521 164h14v2h-14zM593 164h46v2h-46zM517 166h14v2h-14zM593 166h42v2h-42zM515 168h14v2h-14zM591 168h40v2h-40zM513 170h12v2h-12zM591 170h36v2h-36zM511 172h12v2h-12zM589 172h36v2h-36zM509 174h12v2h-12zM589 174h32v2h-32zM507 176h12v2h-12zM587 176h32v2h-32zM505 178h10v2h-10zM587 178h30v2h-30zM505 180h8v2h-8zM585 180h30v2h-30zM503 182h10v2h-10zM585 182h28v2h-28zM501 184h10v2h-10zM583 184h28v2h-28zM501 186h8v2h-8zM581 186h28v2h-28zM499 188h8v2h-8zM581 188h26v2h-26zM499 190h6v2h-6zM579 190h26v2h-26zM497 192h8v2h-8zM579 192h24v2h-24zM497 194h6v2h-6zM577 194h24v2h-24zM495 196h8v2h-8zM577 196h22v2h-22zM495 198h8v2h-8zM575 198h20v2h-20zM493 200h10v2h-10zM575 200h18v2h-18zM493 202h10v2h-10zM573 202h20v2h-20zM491 204h4v2h-4zM501 204h2v2h-2zM573 204h18v2h-18zM489 206h6v2h-6zM501 206h2v2h-2zM571 206h18v2h-18zM489 208h6v2h-6zM571 208h16v2h-16zM487 210h8v2h-8zM569 210h16v2h-16zM487 212h8v2h-8zM569 212h16v2h-16zM485 214h10v2h-10zM567 214h16v2h-16zM485 216h10v2h-10zM501 216h2v2h-2zM567 216h16v2h-16zM483 218h14v2h-14zM501 218h2v2h-2zM565 218h16v2h-16zM483 220h8v2h-8zM495 220h6v2h-6zM563 220h18v2h-18zM481 222h10v2h-10zM563 222h16v2h-16zM479 224h10v2h-10zM561 224h18v2h-18zM445 226h18v2h-18zM479 226h12v2h-12zM561 226h16v2h-16zM441 228h28v2h-28zM477 228h16v2h-16zM559 228h18v2h-18zM439 230h8v2h-8zM457 230h14v2h-14zM477 230h20v2h-20zM557 230h18v2h-18zM437 232h8v2h-8zM463 232h8v2h-8zM479 232h2v2h-2zM493 232h8v2h-8zM555 232h20v2h-20zM437 234h4v2h-4zM467 234h4v2h-4zM499 234h4v2h-4zM553 234h20v2h-20zM435 236h6v2h-6zM469 236h2v2h-2zM501 236h4v2h-4zM551 236h20v2h-20zM435 238h4v2h-4zM469 238h2v2h-2zM503 238h4v2h-4zM547 238h24v2h-24zM433 240h4v2h-4zM469 240h2v2h-2zM505 240h2v2h-2zM545 240h24v2h-24zM433 242h4v2h-4zM469 242h2v2h-2zM505 242h2v2h-2zM541 242h26v2h-26zM431 244h4v2h-4zM469 244h2v2h-2zM505 244h2v2h-2zM537 244h26v2h-26zM431 246h4v2h-4zM469 246h2v2h-2zM477 246h4v2h-4zM503 246h4v2h-4zM535 246h26v2h-26zM429 248h6v2h-6zM469 248h2v2h-2zM477 248h6v2h-6zM503 248h4v2h-4zM531 248h26v2h-26zM429 250h4v2h-4zM469 250h2v2h-2zM477 250h8v2h-8zM499 250h6v2h-6zM529 250h24v2h-24zM429 252h4v2h-4zM469 252h2v2h-2zM477 252h28v2h-28zM527 252h20v2h-20zM427 254h6v2h-6zM469 254h2v2h-2zM477 254h2v2h-2zM481 254h24v2h-24zM525 254h18v2h-18zM427 256h4v2h-4zM469 256h2v2h-2zM477 256h2v2h-2zM483 256h24v2h-24zM523 256h14v2h-14zM425 258h6v2h-6zM469 258h2v2h-2zM485 258h26v2h-26zM519 258h16v2h-16zM425 260h6v2h-6zM485 260h46v2h-46zM425 262h4v2h-4zM485 262h44v2h-44zM423 264h6v2h-6zM485 264h40v2h-40zM423 266h6v2h-6zM485 266h34v2h-34zM421 268h6v2h-6zM483 268h16v2h-16zM421 270h6v2h-6zM475 270h2v2h-2zM483 270h12v2h-12zM419 272h8v2h-8zM475 272h2v2h-2zM483 272h10v2h-10zM419 274h6v2h-6zM475 274h2v2h-2zM483 274h8v2h-8zM419 276h6v2h-6zM475 276h2v2h-2zM483 276h8v2h-8zM417 278h8v2h-8zM475 278h2v2h-2zM483 278h6v2h-6zM417 280h6v2h-6zM475 280h2v2h-2zM483 280h6v2h-6zM415 282h8v2h-8zM481 282h8v2h-8zM415 284h8v2h-8zM481 284h6v2h-6zM413 286h10v2h-10zM481 286h6v2h-6zM413 288h8v2h-8zM473 288h2v2h-2zM481 288h6v2h-6zM411 290h10v2h-10zM473 290h2v2h-2zM479 290h6v2h-6zM409 292h12v2h-12zM473 292h2v2h-2zM479 292h6v2h-6zM409 294h12v2h-12zM469 294h2v2h-2zM473 294h2v2h-2zM479 294h6v2h-6zM407 296h12v2h-12zM469 296h6v2h-6zM479 296h4v2h-4zM405 298h14v2h-14zM469 298h6v2h-6zM477 298h6v2h-6zM405 300h14v2h-14zM469 300h6v2h-6zM477 300h6v2h-6zM403 302h14v2h-14zM469 302h12v2h-12zM401 304h16v2h-16zM469 304h12v2h-12zM399 306h16v2h-16zM469 306h12v2h-12zM397 308h18v2h-18zM469 308h10v2h-10zM397 310h16v2h-16zM469 310h10v2h-10zM395 312h18v2h-18zM469 312h8v2h-8zM393 314h18v2h-18zM469 314h8v2h-8zM391 316h20v2h-20zM469 316h8v2h-8zM391 318h18v2h-18zM467 318h8v2h-8zM389 320h20v2h-20zM467 320h8v2h-8zM387 322h20v2h-20zM467 322h8v2h-8zM387 324h20v2h-20zM465 324h8v2h-8zM387 326h20v2h-20zM465 326h8v2h-8zM385 328h20v2h-20zM463 328h8v2h-8zM385 330h20v2h-20zM463 330h8v2h-8zM385 332h20v2h-20zM461 332h10v2h-10zM385 334h20v2h-20zM461 334h8v2h-8zM385 336h20v2h-20zM459 336h10v2h-10zM385 338h20v2h-20zM459 338h10v2h-10zM387 340h18v2h-18zM457 340h12v2h-12zM387 342h20v2h-20zM457 342h10v2h-10zM387 344h20v2h-20zM455 344h12v2h-12zM389 346h20v2h-20zM455 346h10v2h-10zM389 348h20v2h-20zM453 348h12v2h-12zM391 350h20v2h-20zM451 350h12v2h-12zM393 352h20v2h-20zM447 352h16v2h-16zM395 354h22v2h-22zM443 354h18v2h-18zM397 356h28v2h-28zM435 356h24v2h-24zM399 358h58v2h-58zM401 360h54v2h-54zM405 362h46v2h-46zM409 364h36v2h-36zM349 366h8v2h-8zM415 366h22v2h-22zM341 368h20v2h-20zM337 370h24v2h-24zM333 372h28v2h-28zM329 374h32v2h-32zM327 376h34v2h-34zM325 378h34v2h-34zM323 380h34v2h-34zM321 382h34v2h-34zM321 384h30v2h-30zM321 386h26v2h-26zM325 388h16v2h-16z"/>
<path fill="#00e6ff" d="M571 36h10v2h-10zM637 36h2v2h-2zM571 38h10v2h-10zM637 38h2v2h-2zM573 40h8v2h-8zM637 40h2v2h-2zM573 42h8v2h-8zM635 42h4v2h-4zM573 44h10v2h-10zM635 44h4v2h-4zM573 46h10v2h-10zM635 46h4v2h-4zM573 48h10v2h-10zM635 48h4v2h-4zM573 50h10v2h-10zM635 50h4v2h-4zM575 52h10v2h-10zM633 52h6v2h-6zM575 54h10v2h-10zM633 54h6v2h-6zM575 56h10v2h-10zM631 56h8v2h-8zM575 58h10v2h-10zM627 58h12v2h-12zM575 60h12v2h-12zM625 60h8v2h-8zM637 60h2v2h-2zM575 62h12v2h-12zM621 62h6v2h-6zM575 64h12v2h-12zM619 64h4v2h-4zM577 66h10v2h-10zM617 66h4v2h-4zM577 68h12v2h-12zM615 68h4v2h-4zM577 70h12v2h-12zM615 70h2v2h-2zM577 72h12v2h-12zM613 72h4v2h-4zM577 74h14v2h-14zM613 74h4v2h-4zM577 76h14v2h-14zM613 76h4v2h-4zM577 78h14v2h-14zM613 78h4v2h-4zM637 78h2v2h-2zM577 80h16v2h-16zM613 80h6v2h-6zM633 80h6v2h-6zM577 82h16v2h-16zM613 82h26v2h-26zM579 84h16v2h-16zM609 84h30v2h-30zM579 86h18v2h-18zM601 86h38v2h-38zM579 88h26v2h-26zM615 88h24v2h-24zM581 90h20v2h-20zM617 90h22v2h-22zM581 92h16v2h-16zM617 92h22v2h-22zM581 94h14v2h-14zM617 94h22v2h-22zM583 96h10v2h-10zM615 96h24v2h-24zM583 98h8v2h-8zM615 98h24v2h-24zM615 100h24v2h-24zM615 102h24v2h-24zM615 104h24v2h-24zM615 106h24v2h-24zM615 108h24v2h-24zM615 110h24v2h-24zM615 112h24v2h-24zM613 114h26v2h-26zM611 116h28v2h-28zM609 118h30v2h-30zM607 120h32v2h-32zM603 122h36v2h-36zM589 124h50v2h-50zM587 126h52v2h-52zM585 128h54v2h-54zM585 130h54v2h-54zM581 132h58v2h-58zM579 134h60v2h-60zM571 136h68v2h-68zM569 138h70v2h-70zM565 140h48v2h-48zM563 142h42v2h-42zM557 144h46v2h-46zM553 146h46v2h-46zM551 148h48v2h-48zM549 150h48v2h-48zM547 152h50v2h-50zM545 154h50v2h-50zM543 156h52v2h-52zM541 158h54v2h-54zM539 160h56v2h-56zM537 162h56v2h-56zM535 164h58v2h-58zM531 166h62v2h-62zM529 168h62v2h-62zM525 170h66v2h-66zM523 172h66v2h-66zM521 174h68v2h-68zM519 176h68v2h-68zM515 178h28v2h-28zM553 178h34v2h-34zM513 180h22v2h-22zM555 180h30v2h-30zM513 182h16v2h-16zM555 182h30v2h-30zM511 184h14v2h-14zM555 184h28v2h-28zM509 186h14v2h-14zM555 186h26v2h-26zM507 188h12v2h-12zM555 188h26v2h-26zM505 190h12v2h-12zM555 190h24v2h-24zM505 192h10v2h-10zM555 192h24v2h-24zM503 194h10v2h-10zM555 194h22v2h-22zM503 196h10v2h-10zM555 196h22v2h-22zM503 198h8v2h-8zM555 198h20v2h-20zM503 200h6v2h-6zM553 200h22v2h-22zM503 202h4v2h-4zM553 202h20v2h-20zM503 204h4v2h-4zM553 204h20v2h-20zM503 206h4v2h-4zM553 206h18v2h-18zM503 208h2v2h-2zM551 208h20v2h-20zM503 210h2v2h-2zM551 210h18v2h-18zM503 212h2v2h-2zM549 212h20v2h-20zM503 214h2v2h-2zM549 214h18v2h-18zM503 216h2v2h-2zM547 216h20v2h-20zM503 218h2v2h-2zM547 218h18v2h-18zM491 220h4v2h-4zM501 220h2v2h-2zM545 220h18v2h-18zM491 222h12v2h-12zM543 222h20v2h-20zM489 224h12v2h-12zM541 224h20v2h-20zM491 226h10v2h-10zM541 226h20v2h-20zM493 228h8v2h-8zM539 228h20v2h-20zM447 230h10v2h-10zM497 230h6v2h-6zM537 230h20v2h-20zM445 232h18v2h-18zM501 232h4v2h-4zM535 232h20v2h-20zM441 234h8v2h-8zM455 234h12v2h-12zM503 234h4v2h-4zM533 234h20v2h-20zM441 236h4v2h-4zM461 236h8v2h-8zM505 236h4v2h-4zM531 236h20v2h-20zM439 238h4v2h-4zM463 238h6v2h-6zM507 238h2v2h-2zM529 238h18v2h-18zM437 240h4v2h-4zM465 240h4v2h-4zM507 240h4v2h-4zM527 240h18v2h-18zM437 242h4v2h-4zM467 242h2v2h-2zM507 242h4v2h-4zM527 242h14v2h-14zM435 244h4v2h-4zM467 244h2v2h-2zM507 244h4v2h-4zM525 244h12v2h-12zM435 246h4v2h-4zM507 246h4v2h-4zM523 246h12v2h-12zM435 248h2v2h-2zM507 248h6v2h-6zM521 248h10v2h-10zM433 250h4v2h-4zM505 250h24v2h-24zM433 252h4v2h-4zM505 252h22v2h-22zM433 254h4v2h-4zM479 254h2v2h-2zM505 254h20v2h-20zM431 256h4v2h-4zM479 256h4v2h-4zM507 256h16v2h-16zM431 258h4v2h-4zM477 258h8v2h-8zM511 258h8v2h-8zM431 260h4v2h-4zM477 260h8v2h-8zM429 262h4v2h-4zM477 262h8v2h-8zM429 264h4v2h-4zM477 264h8v2h-8zM429 266h4v2h-4zM477 266h8v2h-8zM427 268h6v2h-6zM477 268h6v2h-6zM427 270h4v2h-4zM477 270h6v2h-6zM427 272h4v2h-4zM477 272h6v2h-6zM425 274h6v2h-6zM477 274h6v2h-6zM425 276h4v2h-4zM477 276h6v2h-6zM425 278h4v2h-4zM477 278h6v2h-6zM423 280h6v2h-6zM477 280h6v2h-6zM423 282h6v2h-6zM475 282h6v2h-6zM423 284h4v2h-4zM475 284h6v2h-6zM423 286h4v2h-4zM475 286h6v2h-6zM421 288h6v2h-6zM475 288h6v2h-6zM421 290h6v2h-6zM475 290h4v2h-4zM421 292h6v2h-6zM467 292h2v2h-2zM475 292h4v2h-4zM421 294h6v2h-6zM467 294h2v2h-2zM475 294h4v2h-4zM419 296h10v2h-10zM467 296h2v2h-2zM475 296h4v2h-4zM419 298h10v2h-10zM467 298h2v2h-2zM475 298h2v2h-2zM419 300h10v2h-10zM467 300h2v2h-2zM475 300h2v2h-2zM417 302h12v2h-12zM467 302h2v2h-2zM417 304h14v2h-14zM467 304h2v2h-2zM415 306h16v2h-16zM467 306h2v2h-2zM415 308h18v2h-18zM467 308h2v2h-2zM413 310h22v2h-22zM465 310h4v2h-4zM413 312h22v2h-22zM465 312h4v2h-4zM411 314h28v2h-28zM463 314h6v2h-6zM411 316h30v2h-30zM459 316h10v2h-10zM409 318h36v2h-36zM455 318h12v2h-12zM409 320h58v2h-58zM407 322h60v2h-60zM407 324h58v2h-58zM407 326h58v2h-58zM405 328h58v2h-58zM405 330h58v2h-58zM405 332h56v2h-56zM405 334h56v2h-56zM405 336h54v2h-54zM405 338h54v2h-54zM405 340h52v2h-52zM407 342h50v2h-50zM407 344h48v2h-48zM409 346h46v2h-46zM409 348h44v2h-44zM411 350h40v2h-40zM413 352h34v2h-34zM417 354h26v2h-26zM425 356h10v2h-10z"/>
<path fill="#00ffff" d="M581 36h14v2h-14zM623 36h14v2h-14zM581 38h14v2h-14zM623 38h14v2h-14zM581 40h16v2h-16zM621 40h16v2h-16zM581 42h16v2h-16zM621 42h14v2h-14zM583 44h16v2h-16zM619 44h16v2h-16zM583 46h16v2h-16zM619 46h16v2h-16zM583 48h18v2h-18zM617 48h18v2h-18zM583 50h20v2h-20zM615 50h20v2h-20zM585 52h22v2h-22zM613 52h20v2h-20zM585 54h48v2h-48zM585 56h46v2h-46zM585 58h42v2h-42zM587 60h38v2h-38zM587 62h34v2h-34zM587 64h32v2h-32zM587 66h30v2h-30zM589 68h26v2h-26zM589 70h26v2h-26zM589 72h24v2h-24zM591 74h22v2h-22zM591 76h22v2h-22zM591 78h22v2h-22zM593 80h20v2h-20zM593 82h20v2h-20zM595 84h14v2h-14zM597 86h4v2h-4zM543 178h10v2h-10zM535 180h20v2h-20zM529 182h26v2h-26zM525 184h30v2h-30zM523 186h32v2h-32zM519 188h36v2h-36zM517 190h38v2h-38zM515 192h40v2h-40zM513 194h42v2h-42zM513 196h42v2h-42zM511 198h44v2h-44zM509 200h44v2h-44zM507 202h46v2h-46zM507 204h46v2h-46zM507 206h46v2h-46zM505 208h46v2h-46zM505 210h46v2h-46zM505 212h44v2h-44zM505 214h44v2h-44zM505 216h8v2h-8zM521 216h26v2h-26zM505 218h6v2h-6zM521 218h26v2h-26zM503 220h6v2h-6zM521 220h24v2h-24zM503 222h6v2h-6zM521 222h22v2h-22zM501 224h6v2h-6zM521 224h20v2h-20zM501 226h6v2h-6zM521 226h20v2h-20zM501 228h8v2h-8zM521 228h18v2h-18zM503 230h6v2h-6zM521 230h16v2h-16zM505 232h6v2h-6zM519 232h16v2h-16zM449 234h6v2h-6zM507 234h6v2h-6zM519 234h14v2h-14zM445 236h16v2h-16zM509 236h22v2h-22zM443 238h20v2h-20zM509 238h20v2h-20zM441 240h6v2h-6zM459 240h6v2h-6zM511 240h16v2h-16zM441 242h4v2h-4zM461 242h6v2h-6zM511 242h16v2h-16zM439 244h4v2h-4zM463 244h4v2h-4zM511 244h14v2h-14zM439 246h4v2h-4zM465 246h4v2h-4zM511 246h12v2h-12zM437 248h4v2h-4zM467 248h2v2h-2zM513 248h8v2h-8zM437 250h4v2h-4zM467 250h2v2h-2zM437 252h2v2h-2zM467 252h2v2h-2zM437 254h2v2h-2zM467 254h2v2h-2zM435 256h4v2h-4zM467 256h2v2h-2zM435 258h4v2h-4zM467 258h2v2h-2zM435 260h2v2h-2zM433 262h4v2h-4zM433 264h4v2h-4zM467 264h2v2h-2zM433 266h2v2h-2zM467 266h2v2h-2zM433 268h2v2h-2zM467 268h2v2h-2zM431 270h4v2h-4zM467 270h2v2h-2zM431 272h4v2h-4zM467 272h2v2h-2zM431 274h2v2h-2zM467 274h2v2h-2zM429 276h4v2h-4zM467 276h2v2h-2zM429 278h4v2h-4zM467 278h2v2h-2zM429 280h4v2h-4zM467 280h2v2h-2zM429 282h4v2h-4zM467 282h2v2h-2zM427 284h4v2h-4zM467 284h2v2h-2zM427 286h4v2h-4zM467 286h2v2h-2zM427 288h6v2h-6zM467 288h2v2h-2zM427 290h6v2h-6zM467 290h2v2h-2zM427 292h6v2h-6zM427 294h6v2h-6zM429 296h6v2h-6zM429 298h6v2h-6zM429 300h8v2h-8zM465 300h2v2h-2zM429 302h10v2h-10zM465 302h2v2h-2zM431 304h10v2h-10zM463 304h4v2h-4zM431 306h14v2h-14zM461 306h6v2h-6zM433 308h18v2h-18zM457 308h10v2h-10zM435 310h30v2h-30zM435 312h30v2h-30zM439 314h24v2h-24zM441 316h18v2h-18zM445 318h10v2h-10z"/>
<path fill="#00ffe6" d="M595 36h28v2h-28zM595 38h28v2h-28zM597 40h24v2h-24zM597 42h24v2h-24zM599 44h20v2h-20zM599 46h20v2h-20zM601 48h16v2h-16zM603 50h12v2h-12zM607 52h6v2h-6zM513 216h8v2h-8zM511 218h10v2h-10zM509 220h12v2h-12zM509 222h12v2h-12zM507 224h14v2h-14zM507 226h14v2h-14zM509 228h12v2h-12zM509 230h12v2h-12zM511 232h8v2h-8zM513 234h6v2h-6zM447 240h12v2h-12zM445 242h16v2h-16zM443 244h6v2h-6zM459 244h4v2h-4zM443 246h4v2h-4zM461 246h4v2h-4zM441 248h4v2h-4zM463 248h4v2h-4zM441 250h2v2h-2zM465 250h2v2h-2zM439 252h4v2h-4zM465 252h2v2h-2zM439 254h4v2h-4zM439 256h2v2h-2zM439 258h2v2h-2zM437 260h4v2h-4zM467 260h2v2h-2zM437 262h2v2h-2zM467 262h2v2h-2zM437 264h2v2h-2zM435 266h4v2h-4zM435 268h4v2h-4zM435 270h2v2h-2zM435 272h2v2h-2zM433 274h4v2h-4zM433 276h4v2h-4zM433 278h2v2h-2zM433 280h2v2h-2zM433 282h2v2h-2zM431 284h4v2h-4zM431 286h4v2h-4zM433 288h2v2h-2zM433 290h4v2h-4zM433 292h4v2h-4zM465 292h2v2h-2zM433 294h6v2h-6zM465 294h2v2h-2zM435 296h4v2h-4zM465 296h2v2h-2zM435 298h6v2h-6zM463 298h4v2h-4zM437 300h8v2h-8zM461 300h4v2h-4zM439 302h12v2h-12zM457 302h8v2h-8zM441 304h22v2h-22zM445 306h16v2h-16zM451 308h6v2h-6z"/>
<path fill="#00ffcc" d="M449 244h10v2h-10zM447 246h14v2h-14zM445 248h4v2h-4zM457 248h6v2h-6zM443 250h4v2h-4zM459 250h6v2h-6zM443 252h4v2h-4zM461 252h4v2h-4zM443 254h2v2h-2zM463 254h4v2h-4zM441 256h4v2h-4zM463 256h4v2h-4zM441 258h2v2h-2zM465 258h2v2h-2zM441 260h2v2h-2zM465 260h2v2h-2zM439 262h4v2h-4zM465 262h2v2h-2zM439 264h4v2h-4zM465 264h2v2h-2zM439 266h2v2h-2zM439 268h2v2h-2zM437 270h4v2h-4zM437 272h4v2h-4zM437 274h2v2h-2zM437 276h2v2h-2zM435 278h4v2h-4zM435 280h4v2h-4zM465 280h2v2h-2zM435 282h4v2h-4zM465 282h2v2h-2zM435 284h4v2h-4zM465 284h2v2h-2zM435 286h4v2h-4zM465 286h2v2h-2zM435 288h4v2h-4zM465 288h2v2h-2zM437 290h4v2h-4zM465 290h2v2h-2zM437 292h4v2h-4zM463 292h2v2h-2zM439 294h4v2h-4zM461 294h4v2h-4zM439 296h8v2h-8zM459 296h6v2h-6zM441 298h22v2h-22zM445 300h16v2h-16zM451 302h6v2h-6z"/>
<path fill="#00ffb2" d="M449 248h8v2h-8zM447 250h12v2h-12zM447 252h6v2h-6zM455 252h6v2h-6zM445 254h4v2h-4zM459 254h4v2h-4zM445 256h4v2h-4zM461 256h2v2h-2zM443 258h4v2h-4zM461 258h4v2h-4zM443 260h4v2h-4zM463 260h2v2h-2zM443 262h2v2h-2zM463 262h2v2h-2zM443 264h2v2h-2zM463 264h2v2h-2zM441 266h4v2h-4zM465 266h2v2h-2zM441 268h2v2h-2zM465 268h2v2h-2zM441 270h2v2h-2zM465 270h2v2h-2zM441 272h2v2h-2zM465 272h2v2h-2zM439 274h4v2h-4zM465 274h2v2h-2zM439 276h4v2h-4zM465 276h2v2h-2zM439 278h4v2h-4zM465 278h2v2h-2zM439 280h2v2h-2zM439 282h2v2h-2zM463 282h2v2h-2zM439 284h4v2h-4zM463 284h2v2h-2zM439 286h4v2h-4zM463 286h2v2h-2zM439 288h4v2h-4zM461 288h4v2h-4zM441 290h4v2h-4zM459 290h6v2h-6zM441 292h8v2h-8zM457 292h6v2h-6zM443 294h18v2h-18zM447 296h12v2h-12z"/>
<path fill="#00ff99" d="M453 252h2v2h-2zM449 254h10v2h-10zM449 256h12v2h-12zM447 258h6v2h-6zM455 258h6v2h-6zM447 260h4v2h-4zM457 260h6v2h-6zM445 262h4v2h-4zM459 262h4v2h-4zM445 264h4v2h-4zM461 264h2v2h-2zM445 266h2v2h-2zM461 266h4v2h-4zM443 268h4v2h-4zM461 268h4v2h-4zM443 270h4v2h-4zM461 270h4v2h-4zM443 272h4v2h-4zM461 272h4v2h-4zM443 274h2v2h-2zM463 274h2v2h-2zM443 276h2v2h-2zM461 276h4v2h-4zM443 278h2v2h-2zM461 278h4v2h-4zM441 280h4v2h-4zM461 280h4v2h-4zM441 282h4v2h-4zM461 282h2v2h-2zM443 284h4v2h-4zM459 284h4v2h-4zM443 286h6v2h-6zM457 286h6v2h-6zM443 288h18v2h-18zM445 290h14v2h-14zM449 292h8v2h-8z"/>
<path fill="#00ff80" d="M453 258h2v2h-2zM451 260h6v2h-6zM449 262h10v2h-10zM449 264h12v2h-12zM447 266h14v2h-14zM447 268h6v2h-6zM457 268h4v2h-4zM447 270h4v2h-4zM457 270h4v2h-4zM447 272h4v2h-4zM457 272h4v2h-4zM445 274h6v2h-6zM457 274h6v2h-6zM445 276h6v2h-6zM457 276h4v2h-4zM445 278h6v2h-6zM457 278h4v2h-4zM445 280h8v2h-8zM455 280h6v2h-6zM445 282h16v2h-16zM447 284h12v2h-12zM449 286h8v2h-8z"/>
<path fill="#00ff66" d="M453 268h4v2h-4zM451 270h6v2h-6zM451 272h6v2h-6zM451 274h6v2h-6zM451 276h6v2h-6zM451 278h6v2h-6zM453 280h2v2h-2z"/>
<polygon points="111,430 135,452 150,470 165,495 185,525 200,545 205,560 198,574 109,574" fill="#000040"/>
<rect x="130" y="36" width="1" height="536" fill="#000"/>
<rect x="214" y="36" width="1" height="536" fill="#000"/>
<rect x="299" y="36" width="1" height="536" fill="#000"/>
<rect x="383" y="36" width="1" height="536" fill="#000"/>
<rect x="468" y="36" width="1" height="536" fill="#000"/>
<rect x="552" y="36" width="1" height="536" fill="#000"/>
<rect x="111" y="485" width="528" height="1" fill="#000"/>
<rect x="111" y="400" width="528" height="1" fill="#000"/>
<rect x="111" y="314" width="528" height="1" fill="#000"/>
<rect x="111" y="225" width="528" height="1" fill="#000"/>
<rect x="111" y="133" width="528" height="1" fill="#000"/>
<polygon points="111,36 501.7,37.8 500.7,43.7 497.8,49.6 495.8,55.4 496.8,62.3 497.8,67.2 492.9,72 489,74 484.1,79.9 480.2,83.8 476.3,90.6 470.4,97.5 466.5,99.4 462.6,100.4 461.6,107.3 462.6,114.1 464.5,119 460.6,123.9 452.8,129.7 448.9,133.7 444,138.5 436.2,143.4 431.3,147.3 425.4,155.2 419.6,160.1 410,171.1 400.8,173 390.1,174 385.2,176.9 379.3,176 375.4,180.9 369.5,182.8 364.6,181.8 361.7,176.9 359.7,171.1 356.8,169.1 357.8,176 360.7,183.8 357.8,187.7 353.9,188.7 351.9,182.8 349,179.9 350.9,186.7 351.9,190.6 347,193.6 342.1,192.6 338.2,193.6 334.3,193 328.5,193.6 324.5,197.5 316.7,198.5 311.8,200.4 307.9,205.3 306,200.4 304,207.3 305,212.1 307.9,216.1 306,219 301.1,220 297.2,215.1 295.2,208.2 296.2,202.4 298.1,198.5 294.2,195.5 291.3,194.5 289.3,197.5 285.4,198.5 281.5,195.5 281.9,194.1 274.9,191.3 270.2,196.4 263.3,198.8 258.6,202.3 254,208.1 247,210.8 242.8,206.9 242.4,213.9 240.1,219.7 233.1,225.5 229.6,230.1 227.3,237.1 226.1,242.9 228.4,248.7 233.1,254.5 238.9,260.3 242.4,267.3 249.3,275.4 251.6,280 258.9,286.3 265.3,291.6 271.6,297.9 276.8,304.2 281.1,311.6 283.2,320 285.7,328.4 287.8,336.8 288.4,345.3 289.5,351.6 286.3,355.8 285.3,361.1 286.9,364.2 284.2,368.4 283.2,373.7 280,377.9 272.6,382.1 265.3,385.3 257.9,388.4 251.6,391.6 245.3,395.8 242.1,402.1 240,407.4 235.4,411.2 227.3,414.7 221.5,419.3 216.8,424 213.3,422.8 212.2,417 213.3,410.1 216.8,401.9 214.5,398.4 209.9,396.1 204.1,393.8 199.4,396.1 197.1,391.5 193.6,388 192.4,382.2 190.1,381 187.8,384.5 183.2,382.2 179.7,375.2 177.3,370.6 173.9,367.1 170.4,361.3 165.7,357.8 158.8,354.3 150.6,354.8 144.8,353.2 146,347.3 147.2,340.8 140.2,339.2 133.2,339.9 129.7,341.5 129.7,349.7 130.9,359 128.6,365.9 125.1,370.6 123.9,377.5 120.5,384.5 118.1,391.5 115.8,400.8 117,408.9 119.3,414.7 123.9,413.5 127.4,419.3 128.7,420 132.1,427 136.8,435.2 139.1,444.5 145,450.3 154.3,455 160.1,460.8 166,466.6 171.8,470.1 177.6,476 184.6,483 185.1,483.1 187.4,488.5 189,495.5 188.2,501.7 186.6,507.9 188.2,512.5 189,519.5 192.1,524.9 195.9,529.6 198.3,534.2 199.8,539.6 202.1,543.5 201.4,545.8 197.5,548.9 193.6,548.1 189,545.8 184.3,541.9 179.7,538.1 173.5,534.2 168.8,531.9 164.2,528 158,524.9 154.1,521 153.4,515.6 150.3,510.2 146.4,505.5 143.3,501.7 141,495.5 142.5,490.8 141,486.2 137.9,480 136.8,476 133.3,466.6 133.3,458.5 128.7,455 122.8,448 117,439.8 113.5,435.2 111.2,434 111,434" fill="#c0c0c0" stroke="#000" stroke-width="1"/>
<polygon points="111.5,508.6 119.3,513.3 124.7,517.9 129.4,524.1 133.2,526.5 135.5,529.6 140.2,533.4 144.8,538.1 146.4,532.6 151.8,536.5 154.9,540.4 159.6,541.2 163.4,543.5 168.8,548.1 173.5,552 178.1,555.9 182.8,557.4 187.4,560.5 190.5,562.8 184.3,563.6 176.6,565.9 182.8,564.9 189,564.4 193.6,566.7 195.2,571.4 125.5,571.4 119.3,566.7 116.2,560.5 113.9,552.8 111.5,548.1" fill="#c0c0c0" stroke="#000" stroke-width="1"/>
<polygon points="316.2,227.4 315,232.2 310.2,237 307.8,243 304.2,249 298.2,253.8 291,256.7 283.8,255 277.7,251.4 276.5,245.4 277.7,239.4 281.4,234.6 286.2,231 292.2,228.6 301.8,226.2 310.2,225" fill="#c0c0c0" stroke="#000" stroke-width="1"/>
<polygon points="494,128.9 497.4,129.6 500.7,132.3 500.1,137.1 499.4,142.5 497.4,147.9 495.3,153.3 494,158.7 493.3,164.1 491.3,169.5 488.6,174.3 485.2,178.3 483.8,183.1 483.2,188.5 481.1,189.6 480,185.8 479.1,181.7 475.7,179 473,175 471,170.9 470.3,165.5 471,160.1 472.3,155.3 475,150.6 477.7,145.9 480.4,141.8 483.8,137.1 486.5,133.7 490.6,131" fill="#c0c0c0" stroke="#000" stroke-width="1"/>
<polygon points="477.8,252.6 481.6,250.8 485.3,250.3 489.1,251.8 493.6,254.1 497.4,255.6 501.1,254.8 504.1,252.6 506.4,251.8 507.1,255.6 506.4,260.1 505.6,265.3 507.1,269.8 509.4,273.6 510.9,277.4 509.4,281.9 507.1,286.4 504.9,290.2 501.9,293.2 498.1,296.2 495.1,299.2 495.8,300 494.6,303.5 492.9,306.4 491.7,309.3 493.5,312.8 495.2,316.3 495.8,320.3 496.9,323.2 498.7,326.1 501,328.5 503.9,330.2 506.8,330.8 508.5,329 509.1,327.9 510.9,326.7 513.8,326.1 516.7,327.9 518.4,330.2 520.2,333.1 521.9,334.8 523.6,333.7 525.4,332.5 528.3,333.1 531.8,333.7 534.7,334.8 537.6,333.7 538.7,331.4 541.1,331.9 542.8,334.8 541.6,337.7 539.3,338.9 537,337.7 535.8,335.4 532.4,335.4 529.5,336 527.7,338.3 529.5,341.2 531.8,343.5 534.7,345.3 537,347.6 537.6,351.1 537,354.6 534.7,354 533.5,351.1 530.6,349.4 528.3,347 526.5,344.7 523.6,342.4 521.3,340.1 519,337.2 516.7,335.4 514.4,333.1 512,331.6 510.1,331.6 509.4,333.7 510.9,336.6 512.6,340.1 513.3,343.2 512,344.7 510.5,342 508.5,339.5 505.9,336.9 503.1,335.3 499.8,333.7 496.9,333.1 494,333.7 491.7,336 488.8,337.2 485.3,335.4 481.8,333.1 478.9,330.8 478.9,327.3 482.4,324.4 485.3,321.5 483.6,319.2 480.1,318.6 478.9,320.9 476.6,323.2 474.9,320.3 472,317.4 470.2,316.3 469.1,311.6 467.9,305.8 467.3,300 466.2,299.5 465,296.2 465,291.7 467.3,290.2 471.1,293.2 474.1,293.9 474.8,290.2 475.6,285.6 476.3,279.6 477.1,273.6 476.3,268.3 475.6,263.1 477.1,257.8" fill="#c0c0c0" stroke="#000" stroke-width="1"/>
<polygon points="476.6,340.6 480.1,340.1 484.2,340.6 488.2,342.4 491.1,344.7 492.9,348.2 494,352.3 493.5,356.9 491.1,360.4 489.4,362.1 487.1,361 485.3,357.5 483.6,353.4 482.4,349.4 480.7,345.9 477.8,343" fill="#c0c0c0" stroke="#000" stroke-width="1.7"/>
<polygon points="499.8,340.1 502.7,339.5 503.9,341.8 502.7,344.7 500.4,344.1 499.3,341.8" fill="#c0c0c0" stroke="#000" stroke-width="1.7"/>
<polygon points="500.4,314.5 502.2,314.2 502.7,317.4 501.9,320 500.5,319.2" fill="#c0c0c0" stroke="#000" stroke-width="1.7"/>
<polygon points="502.6,355.3 504,355.8 503.7,359.5 502.6,361.1 501.9,360" fill="#c0c0c0" stroke="#000" stroke-width="1.7"/>
<polygon points="509.8,357.6 512.6,357.6 514.2,358.9 512.8,360.5 511.1,359.5" fill="#c0c0c0" stroke="#000" stroke-width="1.7"/>
<polygon points="474.1,340.4 475.7,340.1 476,341.6 474.5,341.8" fill="#c0c0c0" stroke="#000" stroke-width="1.7"/>
<polygon points="501.6,368.4 503.7,368.9 506.3,371.1 508.9,373.2 511.6,374.7 515.3,374.7 518.9,375.3 521.1,376.8 520.5,379.5 517.9,381.6 515.3,383.7 512.6,385.8 510,387.9 506.8,388.9 504.2,389.5 502.6,390.5 502.6,392.6 501.1,392.6 500.8,389.5 501.6,386.3 503.2,383.2 503.7,379.5 503.2,375.8 502.6,372.1" fill="#c0c0c0" stroke="#000" stroke-width="1.7"/>
<polygon points="520,385.8 522.1,384.2 525.3,384.2 527.4,385.8 527.9,388.4 526.8,391.6 524.7,394.7 523.2,397.9 522.1,401.1 521.6,404.7 522.1,408.4 523.7,412.1 522.6,415.3 520.5,416.8 518.4,415.3 516.8,412.6 514.2,410.5 511.6,408.9 509.5,406.3 508.9,403.2 511.1,401.6 514.7,401.1 516.8,398.9 517.4,395.3 517.9,391.6 518.7,388.4" fill="#c0c0c0" stroke="#000" stroke-width="1.7"/>
<polygon points="534.7,383.2 536,383.7 536.3,386.8 535.3,390.5 533.2,393.7 530.5,396.8 527.9,400 526.3,403.2 525.8,407.4 525.1,410 524.2,407.9 524.7,403.7 526.3,400 528.9,396.3 531.6,392.6 533.2,388.9 534.2,385.8" fill="#c0c0c0" stroke="#000" stroke-width="1.7"/>
<polygon points="534.7,400.5 537.4,398.9 541.1,397.9 543.7,398.9 544.7,401.6 543.2,404.7 540,406.3 536.8,406.3 534.2,404.7 533.5,402.6" fill="#c0c0c0" stroke="#000" stroke-width="1.7"/>
<polygon points="541.1,374.2 543.7,374.7 545.8,376.8 547.4,378.4 550.5,377.4 552.6,378.4 553.2,381.6 553.7,385.3 554.2,388.4 555.8,390.5 555.3,393.7 553.7,396.8 551.6,397.9 550,395.8 549.5,392.1 550,388.4 548.4,386.3 546.3,384.2 544.7,381.6 543.2,378.4 541.6,376.3" fill="#c0c0c0" stroke="#000" stroke-width="1.7"/>
<polygon points="541.6,357.4 544.7,356.8 548.4,357.4 552.6,355.8 555.8,356.8 557.9,359.5 560,362.6 560.5,366.3 560.5,370 561.6,373.7 563.2,376.3 562.1,379.5 558.9,380.5 556.3,379.5 554.2,376.8 552.6,373.7 553.2,370.5 551.6,368.4 549.5,366.3 546.8,364.2 544.2,361.6 542.3,359.5" fill="#c0c0c0" stroke="#000" stroke-width="1.7"/>
<polygon points="524.7,357.9 526.8,357.4 529.5,359.5 532.1,362.6 534.7,365.8 537.4,368.9 536.3,369.5 533.2,366.8 530,363.7 527.4,361.6 524.7,360" fill="#c0c0c0" stroke="#000" stroke-width="1.7"/>
<polygon points="528,413.6 530.3,413.6 530.5,415.4 528.2,415.4" fill="#c0c0c0" stroke="#000" stroke-width="1.7"/>
<polygon points="546.5,413.6 548.6,413.6 548.6,415.4 546.5,415.4" fill="#c0c0c0" stroke="#000" stroke-width="1.7"/>
<polygon points="501.6,449.6 503.2,444.9 505.5,439.5 508.6,435.6 513.2,433.3 517.9,432.5 520.2,428.6 521.7,425.5 526.4,424 530.3,424.8 532.6,428.6 532.6,432.5 534.9,433.3 539.6,431.7 541.1,427.1 543.4,424.8 548.1,425.5 549.6,422.5 550.4,418.6 552.7,420.1 556.6,419.4 560.5,417.8 562,414.7 561.2,409.3 560.5,405.4 562.8,406.2 565.9,408.5 569,411.6 571.3,415.5 573.6,419.4 574.4,423.2 572.8,426.3 575.2,430.2 576.7,434.8 579,440.3 579.8,444.9 579,448.8 575.9,451.9 574.4,455.7 574.4,461.2 572.8,459.6 572.1,455 570.5,451.1 567.4,448 565.9,445.7 564.3,448 561.2,452.6 559.7,456.5 562.8,460.4 565.1,464.3 564.3,468.9 561.2,472.8 558.9,475.9 557.4,472.8 556.6,468.9 553.5,470.5 549.6,469.7 545,467.4 541.1,465 538,461.9 536.5,457.3 535.7,452.6 538.8,448.8 540.3,445.7 537.2,443.4 533.4,440.3 529.5,437.9 527.2,441 523.3,442.6 520.2,441 517.1,444.1 515.5,441 513.2,438.7 510.9,440.3 508.6,444.1 507,448 505.5,451.9 503.2,452.6" fill="#c0c0c0" stroke="#000" stroke-width="1"/>
<polygon points="500.1,458.1 502.4,456.5 504.7,457.6 504.7,460.4 501.6,461.2" fill="#c0c0c0" stroke="#000" stroke-width="1.7"/>
<polygon points="461.2,387.3 462,390.6 460.4,393.9 456.2,396.4 452.1,399.7 447.9,403.8 445.5,408 442.2,412.9 437.2,417.1 431.4,421.2 426.4,424.5 422.3,427 421.5,425.4 424.8,422 429.7,417.9 435.5,413.8 440.5,409.6 443.8,405.5 446.3,401.4 449.6,397.2 452.9,393.1 456.2,389.8 458.7,388.1" fill="#c0c0c0" stroke="#000" stroke-width="1"/>
<polygon points="418.5,446.4 421.1,445.7 421.8,448 419.2,448.7" fill="#c0c0c0" stroke="#000" stroke-width="1.7"/>
<polygon points="285.2,571.6 281.7,559.9 282.8,550.6 286.3,542.4 291,537.7 295.6,541.2 300.3,541.2 305,540.8 310.8,543.6 317.8,543.6 320.1,536.6 321.3,528.4 322.5,522.6 330.6,521.4 339.9,520.3 348.1,517.9 352.8,513.3 358.6,506.3 364.4,500.4 367.9,493.4 370.3,492.3 370,493.1 374.1,490.7 379.1,487.7 384.2,485.6 389.3,482.6 391.3,478.5 396.4,475.5 401.4,471.4 406.5,465.4 410.6,460.3 413.6,455.2 414.6,452.2 417.7,456.2 419.7,453.2 421.7,457.2 424.8,460.3 427.8,464.3 428.8,469.4 432.9,471.4 436.9,472.5 442,473.5 447.1,476.5 452.2,478.5 456.2,480.6 455.2,483.6 450.1,484.6 444,485.6 438,486.7 440,489.7 444,492.7 447.1,494.8 441,495.8 434.9,497.8 430.9,499.8 431.9,504.9 427.8,506.9 430.9,510 426.8,515.1 427.8,519.1 430.9,523.2 433.9,529.2 434.9,534.3 438,539.4 442,544.5 446.1,549.5 450.1,553.6 451.1,555.6 447.1,556.6 440,555.6 434.9,552.6 433.9,556.6 430.9,559.7 427.8,563.7 425.8,571.8" fill="#c0c0c0" stroke="#000" stroke-width="1"/>
<polygon points="466.1,571.6 468.5,561.1 473.1,557.6 479,555.2 483.6,548.2 490.6,549.4 499.9,552.9 509.3,554.1 518.6,555.2 527.9,555.2 537.3,552.9 544.2,549.4 548.9,544.7 553.6,543.1 557.1,545.9 552.4,551.7 546.6,557.6 541.9,562.2 532.6,564.6 523.3,563.4 513.9,561.1 504.6,559.9 495.3,561.1 488.3,562.2 481.3,559.9 474.3,563.4 470.8,571.6" fill="#c0c0c0" stroke="#000" stroke-width="1"/>
<polygon points="608.2,529.9 610.5,527.6 613.3,526.5 615,528.8 614.4,532.2 612.2,534.4 609.3,535.5 607.6,533.3" fill="#c0c0c0" stroke="#000" stroke-width="1.7"/>
<polygon points="604.3,549.7 607.6,546.8 611,544.6 614.4,544 616.1,546.3 615.5,549.7 612.7,551.9 609.9,553.6 607.1,555.9 606,557.5 608.2,559.2 612.2,560.9 615,562.1 616.1,564.3 613.9,564.9 610.5,563.2 607.1,562.1 604.3,562.1 602.6,563.8 602,566.6 601.4,569.4 599.2,569.4 599.2,566 598.6,563.2 596.9,561.5 596.4,559.2 598.1,557.5 600.9,557 603.1,554.2 604.3,551.9" fill="#c0c0c0" stroke="#000" stroke-width="1.7"/>
<polygon points="268.5,499.3 272,503.5 269.7,508.1 266.2,504.4" fill="#c0c0c0" stroke="#000" stroke-width="1.7"/>
<polygon points="582,494.2 584.3,495.1 584.3,500.5 583.4,506.8 581.5,505.9 582.5,500.5" fill="#c0c0c0" stroke="#000" stroke-width="1.7"/>
<polygon points="560.5,507.5 563.3,508.2 563.8,512.2 561.5,512.9" fill="#c0c0c0" stroke="#000" stroke-width="1.7"/>
<polygon points="491.8,235.7 494.4,235.3 494.8,237.8 492.4,238.4" fill="#c0c0c0" stroke="#000" stroke-width="1.7"/>
<polygon points="500.7,232.3 502.2,232.3 502.2,234.5 500.7,234.5" fill="#c0c0c0" stroke="#000" stroke-width="1.7"/>
<polygon points="489.4,244.3 492.1,244 492.6,245.9 489.8,246.2" fill="#c0c0c0" stroke="#000" stroke-width="1.7"/>
<polygon points="511.6,389.5 513.7,388.4 514.2,390 512.6,392.1 511.4,391.6" fill="#c0c0c0" stroke="#000" stroke-width="1.7"/>
<polygon points="616.7,79.8 619.5,79.4 620.1,82.5 617.1,82.9" fill="#c0c0c0" stroke="#000" stroke-width="1.7"/>
<polygon points="278.8,518.9 281.6,518.9 281.6,522.6 278.8,522.6" fill="#c0c0c0" stroke="#000" stroke-width="1.7"/>
<polygon points="154.1,536.1 158.8,535 159.9,538.5 156.5,540.7 153.8,539.2" fill="#c0c0c0" stroke="#000" stroke-width="1.7"/>
<polygon points="499.5,457.3 504.6,456.1 506.5,459.6 501.8,461.5" fill="#c0c0c0" stroke="#000" stroke-width="1.7"/>
<polygon points="188.5,382.2 191.3,380.3 193.6,383.3 192.4,388 190.1,389.2 189,385.7" fill="#c0c0c0" stroke="#000" stroke-width="1.7"/>
<polygon points="418.3,445.7 421.7,445.7 422.3,449.1 418.7,449.7" fill="#c0c0c0" stroke="#000" stroke-width="1.7"/>
<polygon points="596.9,539.5 599.7,537.8 602,535 603.1,536.1 602,538.9 603.1,541.2 603.7,544.6 602.6,548 600.9,550.2 598.1,551.9 595.8,552.5 594.1,550.2 594.7,546.8 595.8,543.4" fill="#c0c0c0" stroke="#000" stroke-width="1.7"/>
<polygon points="457.9,379 460.4,377.9 462,380.7 460.9,384.8 461.5,387.5 458.9,387.5 457.5,383.2" fill="#000" stroke="#000" stroke-width="1"/>
<polygon points="417.8,430.8 421.8,427.8 422.8,430.3 419.8,432.8 417.8,435.8 416.5,434.8" fill="#000" stroke="#000" stroke-width="1"/>
<polygon points="467,361.7 470.3,360.8 473.1,363 472.8,366.9 470.3,369.6 467.8,368.3 466.1,365" fill="#000" stroke="#000" stroke-width="1"/>
<polygon points="499.6,243.5 502.6,243.2 502.9,246.2 499.9,246.5" fill="#000" stroke="#000" stroke-width="1"/>
<polygon points="622.2,74.3 625.3,70.8 631.6,67.7 632.8,69.2 627.7,73.6 623.4,76.3" fill="#000" stroke="#000" stroke-width="1"/>
<polygon points="601.9,94.7 607.3,92.7 615.2,88.4 616.7,89.8 609.3,94.3 603.4,96.6" fill="#000" stroke="#000" stroke-width="1"/>
<polygon points="604.8,101.1 607.9,99.8 608.9,101.7 606,105.2 603,109 599.5,112.3 597.4,111.5 598.9,107.6 601.9,103.9" fill="#000" stroke="#000" stroke-width="1"/>
<polygon points="580.9,108 585.8,107.4 586.2,109.3 581.5,109.9" fill="#000" stroke="#000" stroke-width="1"/>
<polygon points="590.1,110.3 596.6,109.9 597.2,111.9 590.7,112.7" fill="#000" stroke="#000" stroke-width="1"/>
<polygon points="554.5,136.1 558.5,135.4 560.4,138.1 556.5,139.3" fill="#000" stroke="#000" stroke-width="1"/>
<polygon points="531.2,143.8 534.6,143.2 536.6,145.9 538.6,142.5 542,141.8 541.3,145.2 538,147.2 534.6,148.6 531.2,147.2" fill="#000" stroke="#000" stroke-width="1"/>
<polygon points="517.7,143.2 519.3,143.2 519.3,144.8 517.7,144.8" fill="#000" stroke="#000" stroke-width="1"/>
<polygon points="547.4,138.4 549.1,138.4 549.1,140 547.4,140" fill="#000" stroke="#000" stroke-width="1"/>
<polygon points="493,187.4 494.9,187.4 495.2,189.8 493.3,189.6" fill="#000" stroke="#000" stroke-width="1"/>
<polygon points="460,157.1 461.9,156.5 463,159.8 461.4,161.4 459.5,160.3" fill="#000" stroke="#000" stroke-width="1"/>
<polygon points="457.8,164.1 460,163.9 461.9,164.9 460.6,166.3 458.4,166" fill="#000" stroke="#000" stroke-width="1"/>
<polygon points="498.8,209.5 501.8,210.2 501.1,214.1 499,213.4" fill="#000" stroke="#000" stroke-width="1"/>
<polygon points="498.8,216.4 502.3,216.4 501.1,221.1 498.8,219.9" fill="#000" stroke="#000" stroke-width="1"/>
<polygon points="493,187.3 495.3,187.3 495.3,190.1 493,190.1" fill="#000" stroke="#000" stroke-width="1"/>
<polygon points="224.7,518.9 228.9,517.5 233.1,514.2 237.8,512.8 239.6,515.6 236.6,519.3 232.2,521.2 228.9,520.3 226.6,521.7" fill="#000" stroke="#000" stroke-width="1"/>
<polygon points="241.3,421.6 244.5,421.6 244.5,424 241.3,424" fill="#000" stroke="#000" stroke-width="1"/>
<polygon points="264.3,489.2 266.2,489.2 266.2,491.1 264.3,491.1" fill="#000" stroke="#000" stroke-width="1"/>
<polygon points="282.8,526.3 284.6,526.3 284.6,528.2 282.8,528.2" fill="#000" stroke="#000" stroke-width="1"/>
<polygon points="255.5,552.2 258.8,552.2 258.8,554.3 255.5,554.3" fill="#000" stroke="#000" stroke-width="1"/>
<polygon points="194.4,550.5 202.9,548.9 209.1,551.2 211.4,554.3 207.6,557.4 202.9,555.9 198.3,557.4 193.6,555.9" fill="#000" stroke="#000" stroke-width="1"/>
<polygon points="199.8,521.5 201.7,521.5 201.7,523.7 199.8,523.7" fill="#000" stroke="#000" stroke-width="1"/>
<polygon points="202.9,525.5 204.8,525.5 204.8,527.4 202.9,527.4" fill="#000" stroke="#000" stroke-width="1"/>
<polygon points="206,528 207.9,528 207.9,529.9 206,529.9" fill="#000" stroke="#000" stroke-width="1"/>
<polygon points="197.5,528.8 199.3,528.8 199.3,530.6 197.5,530.6" fill="#000" stroke="#000" stroke-width="1"/>
<polygon points="224.3,517.9 228.5,517.2 229.5,521 225.4,522.1" fill="#000" stroke="#000" stroke-width="1"/>
<polygon points="484.1,467.8 491.1,467.3 491.8,470.8 484.8,471.3" fill="#000" stroke="#000" stroke-width="1"/>
<polygon points="480.1,474.1 485.5,473.2 486,477.1 480.8,478.3" fill="#000" stroke="#000" stroke-width="1"/>
<polygon points="476.2,462 480.1,462 479.4,466.6 476.2,466.2" fill="#000" stroke="#000" stroke-width="1"/>
<polygon points="467.3,482.5 473.1,479.5 475.5,481.8 469.6,484.8" fill="#000" stroke="#000" stroke-width="1"/>
<polygon points="466.8,469.4 470.1,469 470.1,471.8 466.8,471.8" fill="#000" stroke="#000" stroke-width="1"/>
<polygon points="493,455 495.7,455 495.7,457.8 493,457.8" fill="#000" stroke="#000" stroke-width="1"/>
<polygon points="458,487.6 460.3,487.6 460.3,490.4 458,490.4" fill="#000" stroke="#000" stroke-width="1"/>
<polygon points="463.8,486.4 466.1,486.4 466.1,489.2 463.8,489.2" fill="#000" stroke="#000" stroke-width="1"/>
<polygon points="558.2,522.6 561,522.6 560.1,526.1 557.8,525.4" fill="#000" stroke="#000" stroke-width="1"/>
<polygon points="557.1,533.1 559.6,533.1 559.6,535.9 557.1,535.9" fill="#000" stroke="#000" stroke-width="1"/>
<polygon points="553.6,538.9 556.4,538.9 556.4,541.7 553.6,541.7" fill="#000" stroke="#000" stroke-width="1"/>
<polygon points="588.1,489.9 590.4,489.9 590.4,492.7 588.1,492.7" fill="#000" stroke="#000" stroke-width="1"/>
<polygon points="562.1,392.6 564.2,392.6 564.2,398.9 562.6,398.9" fill="#000" stroke="#000" stroke-width="1"/>
<polygon points="569.5,401.1 572.1,401.6 572.1,407.4 570,407.4" fill="#000" stroke="#000" stroke-width="1"/>
<polygon points="241,421.2 244.2,420.7 244.7,423.1 241.4,423.5" fill="#000" stroke="#000" stroke-width="1"/>
<polygon points="418.7,508 424.8,506.9 430.9,504.9 431.9,511 427.8,514 422.7,512" fill="#000" stroke="#000" stroke-width="1"/>
<polygon points="424.4,497.2 430.9,495.8 432.9,499.8 427.8,501.9" fill="#000" stroke="#000" stroke-width="1"/>
<polygon points="429.8,532.9 434.9,532.9 434.9,536.6 429.8,536.6" fill="#000" stroke="#000" stroke-width="1"/>
<polygon points="442,531.3 444.6,531.3 444.6,533.7 442,533.7" fill="#000" stroke="#000" stroke-width="1"/>
<polygon points="591.8,555.9 593.8,555.9 594.4,559.8 593.5,564.9 592.2,564.3 592.6,559.8" fill="#000" stroke="#000" stroke-width="1"/>
<polygon points="196.7,560.5 202.9,559.7 209.1,562.1 207.6,569 202.9,571.4 198.3,569.8 195.9,565.2" fill="#000" stroke="#000" stroke-width="1"/>
<polygon points="448.3,46.4 452,45.6 452.2,47.2 448.7,48" fill="#000" stroke="#000" stroke-width="1"/>
<polygon points="407,54.6 408.6,54.6 408.6,56.2 407,56.2" fill="#000" stroke="#000" stroke-width="1"/>
<polygon points="401.6,39.4 407,38.6 407.4,40.2 402,41.3" fill="#000" stroke="#000" stroke-width="1"/>
<polyline points="501.7,37.8 500.7,43.7 497.8,49.6 495.8,55.4 496.8,62.3 497.8,67.2 492.9,72 489,74 484.1,79.9 480.2,83.8 476.3,90.6 470.4,97.5 466.5,99.4 462.6,100.4 461.6,107.3 462.6,114.1 464.5,119 460.6,123.9 452.8,129.7 448.9,133.7 444,138.5 436.2,143.4 431.3,147.3 425.4,155.2 419.6,160.1 410,171.1 400.8,173 390.1,174 385.2,176.9 379.3,176 375.4,180.9 369.5,182.8 364.6,181.8 361.7,176.9 359.7,171.1 356.8,169.1 357.8,176 360.7,183.8 357.8,187.7 353.9,188.7 351.9,182.8 349,179.9 350.9,186.7 351.9,190.6 347,193.6 342.1,192.6 338.2,193.6 334.3,193 328.5,193.6 324.5,197.5 316.7,198.5 311.8,200.4 307.9,205.3 306,200.4 304,207.3 305,212.1 307.9,216.1 306,219 301.1,220 297.2,215.1 295.2,208.2" fill="none" stroke="#000" stroke-width="2.5" stroke-dasharray="2 1 1 2 3 1 1 3 2 2"/>
<polyline points="501.7,37.8 500.7,43.7 497.8,49.6 495.8,55.4 496.8,62.3 497.8,67.2" fill="none" stroke="#000" stroke-width="6" stroke-dasharray="3 2 2 4 4 3"/>
<polyline points="489,74 484.1,78.9 480.6,82.8" fill="none" stroke="#000" stroke-width="4" stroke-dasharray="3 2 2 3"/>
<polyline points="465.5,98.8 462.2,101.4 462.2,107.3 463.6,113.1 463.6,119" fill="none" stroke="#000" stroke-width="6" stroke-dasharray="4 2 3 3"/>
<polyline points="460.6,123.9 452.8,129.7 448.9,133.7 444,138.5 436.2,143.4 431.3,147.3 425.4,155.2 419.6,160.1" fill="none" stroke="#000" stroke-width="5" stroke-dasharray="3 3 2 2 4 3"/>
<polyline points="410,171.7 400.8,173.4 390.1,174.6 385.2,177.5 379.3,176.9 375.4,181.2 369.5,183.2 364.6,182.4" fill="none" stroke="#000" stroke-width="4" stroke-dasharray="3 2 2 3 4 2"/>
<polyline points="361.7,177.9 359.7,172 357.4,170.1" fill="none" stroke="#000" stroke-width="4" stroke-dasharray="4 2"/>
<polyline points="351.5,188.7 350,183.8 349,179.9" fill="none" stroke="#000" stroke-width="4" stroke-dasharray="3 2"/>
<polyline points="347,194 342.1,193 338.2,194 334.3,193.6 328.5,194.2 324.5,197.9 316.7,198.8" fill="none" stroke="#000" stroke-width="3" stroke-dasharray="2 3 3 2"/>
<polyline points="294.2,196.1 291.3,195.1 289.3,197.9 285.4,198.8 281.5,196.1" fill="none" stroke="#000" stroke-width="3" stroke-dasharray="3 2"/>
<polyline points="281.9,194.6 274.9,192 270.2,196.9 263.3,199.2 258.6,202.7 254,208.5 247,211.3 242.8,208.1" fill="none" stroke="#000" stroke-width="4" stroke-dasharray="4 2 3 2"/>
<polyline points="452.7,128.9 456.8,126.9 462.2,124.2 465.6,122.9" fill="none" stroke="#000" stroke-width="5" stroke-dasharray="4 3 3 2"/>

<polyline points="262.1,198.3 258.6,196.4 249.3,191.8 244.7,188.3 242.4,182.5 243.5,177.9 245.4,173.2 240.1,172.1 230.8,170.9 225,167.4 220.3,163.5 213.3,167.4 209.9,173.2 202.9,174.4 198.2,180.2 192.4,175.5 187.8,174.4 182,180.2 172.7,175.1 168.1,181.4 159.9,180.2 157.6,184.8 158.8,190.6 159.9,197.6 160.6,203.9 154.1,202.3 150.6,195.3 148.3,194.1 142.5,198.8 134.4,197.6 130.9,193 129.7,188.3 120.5,187.2 117,184.8 119.3,177.9 121.6,172.1 118.1,168.6 111.2,168.1" fill="none" stroke="#000" stroke-width="1"/>
<polyline points="168.1,181.4 172.7,188.3 177.3,193 179.7,199.9 182,206.9 185.5,210.4 193.6,212.2 199.4,208.1 204.1,210.8 207.5,216.2 212.2,219.7 213.3,225.5 209.9,230.1 202.9,231.3 199.4,232.4 197.1,237.8 202.9,241.7 209.9,245.2 215.7,248.7 218,253.3 223.8,259.2 228.4,263.8 233.1,269.6 237.7,276.6 241.1,280 244.2,286.3 247.4,289.5 251.6,293.7 254.7,296.8 251.6,300 254.7,303.2 257.9,307.4 258.9,312.6 256.8,317.9 257.9,322.1 253.7,325.3 254.7,330.5 256.8,335.8 258.9,341.1 257.9,347.4 258.5,353.7 257.9,360 251.6,361.1 245.3,364.2 238.9,367.4 234.7,370.5 229.5,371.6 228.4,376.8 231.6,380 234.7,383.2 235.8,386.3 230.5,384.2 225.3,383.2 221.1,385.3 219.2,385.7 215.7,389.2 207.5,391.5" fill="none" stroke="#000" stroke-width="1"/>
<polyline points="148.3,194.1 141.4,202.3 139,208.1 133.2,211.5 132.1,217.3 128.6,218.5 121.6,219.7 120.5,224.3 111.2,226.6" fill="none" stroke="#000" stroke-width="1"/>
<polyline points="132.1,217.3 137.9,220.8 140.2,224.3 137.9,230.1 140.2,233.1 150.6,233.1 153,242.9 150.6,252.2 148.3,260.3 146,268.4 149.5,270.8 155.3,266.1 164.6,258 169.2,260.3 175,263.8 182,259.2 186.6,253.3 193.6,254.5 199.4,256.8 205.2,265 211,270.8 211,280.1 211,280 213.3,288.1 221.5,295.1 225,303.2 223.8,312.5 225,321.8 226.1,328.8" fill="none" stroke="#000" stroke-width="1"/>
<polyline points="182,375.2 179.7,369.4 176.2,360.1 173.9,354.3 171.5,347.3 170.4,339.2 173.9,333.4 179.7,327.6 191.3,324.6 207.5,323.7 219.2,326.4 226.1,328.8 230.8,326.4 236.6,323 242.4,321.8 249.3,324.1 255.1,321.8" fill="none" stroke="#000" stroke-width="1"/>
<polyline points="220,329.5 226.3,328.4 229.5,330.5 232.6,325.3 238.9,323.2 245.3,325.3 250.5,323.2 254.7,321.1" fill="none" stroke="#000" stroke-width="1"/>
<polyline points="229.6,314.8 229.6,326.4 230.8,338.1 231.9,347.3 233.1,356.6" fill="none" stroke="#000" stroke-width="1" stroke-dasharray="2 2"/>
<polyline points="113.5,332.3 115.8,338.1 117,347.3 120.5,356.6 122.8,365.9 123.9,372.9 121.6,377.5 118.1,382.2 114.6,385.7 111.9,386.8" fill="none" stroke="#000" stroke-width="1"/>
<polyline points="133.3,458.5 140.3,459.6 143.8,464.3 148.5,465.5 149.6,473.6 156.6,470.1 163.6,469 166,466.6" fill="none" stroke="#000" stroke-width="1"/>
<polyline points="292.1,538.9 294.5,543.6 300.3,549.4 307.3,555.2 314.3,554.1 323.6,552.9 333,551.7 337.6,545.9 349.3,543.6 356.3,547.1 363.3,548.2 367.9,544.7 377.3,545.9 379.6,538.9 381.9,531.9 386.6,524.9 387.7,519.1 393.6,515.6 394.7,508.6 395.9,500.4 400.6,496.9 409.9,496.5 419.2,496.5 428.5,498.1" fill="none" stroke="#000" stroke-width="1"/>
<polyline points="370.3,492.3 373.8,498.1 378.4,501.6 381.9,494.6 384.2,487.6" fill="none" stroke="#000" stroke-width="1"/>
<polyline points="385.4,487.6 386.6,494.6 388.9,496.9" fill="none" stroke="#000" stroke-width="1"/>
<polyline points="300.1,163.2 303,159.7 307.9,161.7 312.8,163.6 318.7,161.7 322.6,161.3" fill="none" stroke="#000" stroke-width="1"/>
</g>
<g clip-path="url(#mc)" stroke="#000066" stroke-width="1" fill="none" stroke-linecap="butt" shape-rendering="crispEdges">
<path d="M130.5 417.5L144.6 412.4M142.1 415.5L144.6 412.4L140.7 411.5M130.5 400.5L145.4 399.2M142.2 401.6L145.4 399.2L141.9 397.4M130.5 383.5L144.6 378.4M142.1 381.5L144.6 378.4L140.7 377.5M130.5 365.5L140.5 354.4M139.8 358.3L140.5 354.4L136.7 355.5M147.5 434.5L162.4 435.8M158.9 437.6L162.4 435.8L159.2 433.4M147.5 417.5L162.3 414.9M159.3 417.6L162.3 414.9L158.6 413.4M147.5 400.5L162.5 400.0M159.2 402.2L162.5 400.0L159.0 398.0M147.5 383.5L162.4 381.4M159.3 384.0L162.4 381.4L158.7 379.8M147.5 365.5L161.8 360.9M159.2 363.9L161.8 360.9L157.9 359.9M164.5 451.5L177.1 459.7M173.1 459.6L177.1 459.7L175.4 456.0M164.5 434.5L179.5 434.5M176.1 436.6L179.5 434.5L176.1 432.4M164.5 417.5L179.4 416.2M176.2 418.6L179.4 416.2L175.9 414.4M164.5 400.5L179.5 400.5M176.1 402.6L179.5 400.5L176.1 398.4M164.5 383.5L179.5 383.0M176.2 385.2L179.5 383.0L176.0 381.0M181.5 468.5L189.0 481.5M185.5 479.6L189.0 481.5L189.1 477.5M181.5 451.5L194.5 459.0M190.5 459.1L194.5 459.0L192.6 455.5M181.5 434.5L196.4 436.3M192.8 438.0L196.4 436.3L193.3 433.8M181.5 417.5L196.4 418.8M192.9 420.6L196.4 418.8L193.2 416.4M181.5 400.5L196.4 401.8M192.9 403.6L196.4 401.8L193.2 399.4M198.5 519.5L199.8 504.6M201.6 508.1L199.8 504.6L197.4 507.8M198.5 502.5L203.6 488.4M204.5 492.3L203.6 488.4L200.5 490.9M198.5 485.5L207.1 497.8M203.4 496.2L207.1 497.8L206.9 493.8M198.5 468.5L210.3 477.7M206.3 477.3L210.3 477.7L209.0 474.0M198.5 451.5L212.3 457.4M208.4 458.0L212.3 457.4L210.0 454.1M198.5 434.5L213.4 436.3M209.8 438.0L213.4 436.3L210.3 433.8M198.5 400.5L213.4 402.0M209.8 403.8L213.4 402.0L210.3 399.6M215.5 570.5L210.2 556.5M213.4 558.9L210.2 556.5L209.4 560.4M215.5 553.5L212.9 538.7M215.6 541.7L212.9 538.7L211.4 542.4M215.5 536.5L222.3 523.1M222.7 527.1L222.3 523.1L218.9 525.2M215.5 519.5L217.6 504.6M219.2 508.3L217.6 504.6L215.0 507.7M215.5 502.5L224.7 490.7M224.3 494.7L224.7 490.7L221.0 492.0M215.5 485.5L230.4 486.8M226.9 488.6L230.4 486.8L227.2 484.4M215.5 468.5L228.5 476.0M224.5 476.1L228.5 476.0L226.6 472.5M215.5 451.5L229.8 456.1M225.9 457.1L229.8 456.1L227.2 453.1M215.5 434.5L230.5 434.5M227.1 436.6L230.5 434.5L227.1 432.4M231.5 570.5L220.0 560.9M224.0 561.4L220.0 560.9L221.2 564.7M231.5 553.5L244.7 546.5M242.7 549.9L244.7 546.5L240.8 546.2M231.5 536.5L243.3 527.3M242.0 531.0L243.3 527.3L239.3 527.7M231.5 519.5L241.7 508.5M240.9 512.4L241.7 508.5L237.8 509.5M231.5 502.5L244.7 495.5M242.7 498.9L244.7 495.5L240.8 495.2M231.5 485.5L246.2 482.4M243.3 485.2L246.2 482.4L242.4 481.0M231.5 468.5L246.1 471.9M242.3 473.2L246.1 471.9L243.3 469.0M231.5 451.5L246.2 454.6M242.4 456.0L246.2 454.6L243.3 451.8M231.5 434.5L246.4 433.2M243.2 435.6L246.4 433.2L242.9 431.4M231.5 417.5L246.4 415.4M243.3 418.0L246.4 415.4L242.7 413.8M248.5 570.5L238.9 559.0M242.7 560.2L238.9 559.0L239.4 563.0M248.5 553.5L259.6 543.5M258.5 547.3L259.6 543.5L255.7 544.2M248.5 536.5L260.3 527.3M259.0 531.0L260.3 527.3L256.3 527.7M248.5 519.5L259.5 509.3M258.4 513.1L259.5 509.3L255.5 510.0M248.5 502.5L261.2 494.6M259.5 498.1L261.2 494.6L257.2 494.6M248.5 485.5L262.6 480.4M260.1 483.5L262.6 480.4L258.7 479.5M248.5 468.5L263.5 469.3M260.0 471.2L263.5 469.3L260.2 467.0M248.5 451.5L263.5 452.3M260.0 454.2L263.5 452.3L260.2 450.0M248.5 434.5L263.5 434.5M260.1 436.6L263.5 434.5L260.1 432.4M248.5 417.5L263.4 416.2M260.2 418.6L263.4 416.2L259.9 414.4M248.5 400.5L262.8 395.9M260.2 398.9L262.8 395.9L258.9 394.9M248.5 260.5L242.2 246.9M245.5 249.1L242.2 246.9L241.7 250.9M248.5 242.5L243.9 228.2M246.9 230.8L243.9 228.2L242.9 232.1M248.5 224.5L247.3 209.6M249.6 212.8L247.3 209.6L245.4 213.1M265.5 570.5L259.2 556.9M262.5 559.1L259.2 556.9L258.7 560.9M265.5 553.5L272.5 540.3M272.8 544.2L272.5 540.3L269.1 542.3M265.5 536.5L278.5 529.0M276.6 532.5L278.5 529.0L274.5 528.9M265.5 519.5L277.5 510.5M276.0 514.2L277.5 510.5L273.5 510.8M265.5 485.5L279.6 480.4M277.1 483.5L279.6 480.4L275.7 479.5M265.5 468.5L279.8 463.9M277.2 466.9L279.8 463.9L275.9 462.9M265.5 451.5L280.4 449.7M277.3 452.2L280.4 449.7L276.8 448.0M265.5 434.5L280.5 435.0M277.0 437.0L280.5 435.0L277.2 432.8M265.5 417.5L280.5 417.0M277.2 419.2L280.5 417.0L277.0 415.0M265.5 400.5L279.8 395.9M277.2 398.9L279.8 395.9L275.9 394.9M265.5 278.5L258.0 265.5M261.5 267.4L258.0 265.5L257.9 269.5M265.5 260.5L261.6 246.0M264.5 248.7L261.6 246.0L260.4 249.8M265.5 242.5L264.2 227.6M266.6 230.8L264.2 227.6L262.4 231.1M265.5 224.5L266.3 209.5M268.2 213.0L266.3 209.5L264.0 212.8M282.5 536.5L295.6 529.2M293.7 532.7L295.6 529.2L291.6 529.0M282.5 502.5L296.2 496.4M294.0 499.7L296.2 496.4L292.2 495.8M282.5 485.5L296.8 481.1M294.2 484.1L296.8 481.1L293.0 480.1M282.5 468.5L296.8 464.1M294.2 467.1L296.8 464.1L293.0 463.1M282.5 451.5L297.0 447.6M294.3 450.5L297.0 447.6L293.2 446.4M282.5 434.5L297.5 434.0M294.2 436.2L297.5 434.0L294.0 432.0M282.5 417.5L297.5 417.0M294.2 419.2L297.5 417.0L294.0 415.0M282.5 400.5L296.8 396.1M294.2 399.1L296.8 396.1L293.0 395.1M282.5 383.5L295.5 376.0M293.6 379.5L295.5 376.0L291.5 375.9M282.5 295.5L268.9 289.2M272.9 288.7L268.9 289.2L271.1 292.5M282.5 278.5L276.9 264.6M280.1 266.9L276.9 264.6L276.2 268.5M282.5 224.5L293.1 213.9M292.2 217.8L293.1 213.9L289.2 214.8M299.5 536.5L314.0 532.6M311.3 535.5L314.0 532.6L310.2 531.4M299.5 519.5L314.4 517.7M311.3 520.2L314.4 517.7L310.8 516.0M299.5 502.5L313.7 497.6M311.2 500.7L313.7 497.6L309.8 496.7M299.5 485.5L313.5 480.1M311.1 483.3L313.5 480.1L309.6 479.4M299.5 468.5L313.1 462.2M310.9 465.5L313.1 462.2L309.1 461.7M299.5 451.5L313.3 445.6M311.0 448.9L313.3 445.6L309.4 445.0M299.5 434.5L314.3 431.9M311.3 434.6L314.3 431.9L310.6 430.4M299.5 417.5L314.5 417.0M311.2 419.2L314.5 417.0L311.0 415.0M299.5 400.5L314.2 397.4M311.3 400.2L314.2 397.4L310.4 396.0M299.5 383.5L313.3 377.6M311.0 380.9L313.3 377.6L309.4 377.0M299.5 365.5L310.1 354.9M309.2 358.8L310.1 354.9L306.2 355.8M299.5 348.5L305.1 334.6M305.8 338.5L305.1 334.6L301.9 336.9M299.5 331.5L302.6 316.8M304.0 320.6L302.6 316.8L299.8 319.7M299.5 313.5L299.5 298.5M301.6 301.9L299.5 298.5L297.4 301.9M299.5 295.5L295.6 281.0M298.5 283.7L295.6 281.0L294.4 284.8M299.5 278.5L296.0 263.9M298.8 266.7L296.0 263.9L294.7 267.7M316.5 519.5L331.5 518.7M328.2 521.0L331.5 518.7L328.0 516.8M316.5 502.5L331.1 498.9M328.3 501.7L331.1 498.9L327.3 497.6M316.5 485.5L330.3 479.6M328.0 482.9L330.3 479.6L326.4 479.0M316.5 468.5L329.9 461.7M327.8 465.1L329.9 461.7L325.9 461.3M316.5 451.5L329.9 444.7M327.8 448.1L329.9 444.7L325.9 444.3M316.5 434.5L330.9 430.4M328.2 433.3L330.9 430.4L327.1 429.3M316.5 417.5L331.3 414.9M328.3 417.6L331.3 414.9L327.6 413.4M316.5 400.5L331.0 396.6M328.3 399.5L331.0 396.6L327.2 395.4M316.5 383.5L330.3 377.6M328.0 380.9L330.3 377.6L326.4 377.0M316.5 365.5L328.9 357.1M327.3 360.8L328.9 357.1L324.9 357.3M316.5 348.5L325.3 336.4M325.0 340.4L325.3 336.4L321.6 337.9M316.5 331.5L323.1 318.0M323.5 322.0L323.1 318.0L319.7 320.1M316.5 313.5L320.6 299.1M321.7 302.9L320.6 299.1L317.7 301.8M316.5 295.5L317.8 280.6M319.6 284.1L317.8 280.6L315.4 283.8M316.5 278.5L315.2 263.6M317.6 266.8L315.2 263.6L313.4 267.1M316.5 260.5L313.9 245.7M316.6 248.7L313.9 245.7L312.4 249.4M333.5 502.5L348.3 500.2M345.3 502.8L348.3 500.2L344.6 498.6M333.5 485.5L347.2 479.4M345.0 482.7L347.2 479.4L343.2 478.8M333.5 468.5L346.5 461.0M344.6 464.5L346.5 461.0L342.5 460.9M333.5 451.5L346.5 444.0M344.6 447.5L346.5 444.0L342.5 443.9M333.5 434.5L347.7 429.6M345.2 432.7L347.7 429.6L343.8 428.7M333.5 417.5L348.2 414.4M345.3 417.2L348.2 414.4L344.4 413.0M333.5 400.5L347.9 396.4M345.2 399.3L347.9 396.4L344.1 395.3M333.5 383.5L347.4 377.9M345.1 381.1L347.4 377.9L343.5 377.2M333.5 365.5L346.5 358.0M344.6 361.5L346.5 358.0L342.5 357.9M333.5 348.5L343.7 337.5M343.0 341.5L343.7 337.5L339.9 338.6M333.5 331.5L342.9 319.8M342.5 323.8L342.9 319.8L339.2 321.1M333.5 313.5L340.5 300.3M340.8 304.2L340.5 300.3L337.1 302.3M333.5 295.5L338.1 281.2M339.1 285.1L338.1 281.2L335.1 283.8M333.5 278.5L334.8 263.6M336.6 267.1L334.8 263.6L332.4 266.8M333.5 260.5L332.2 245.6M334.6 248.8L332.2 245.6L330.4 249.1M333.5 242.5L329.6 228.0M332.5 230.7L329.6 228.0L328.4 231.8M333.5 224.5L327.2 210.9M330.5 213.1L327.2 210.9L326.7 214.9M333.5 206.5L328.4 192.4M331.5 194.9L328.4 192.4L327.5 196.3M350.5 485.5L364.8 481.1M362.2 484.1L364.8 481.1L361.0 480.1M350.5 468.5L363.4 460.8M361.5 464.3L363.4 460.8L359.4 460.7M350.5 451.5L363.2 443.6M361.5 447.1L363.2 443.6L359.2 443.6M350.5 434.5L364.4 428.9M362.1 432.1L364.4 428.9L360.5 428.2M350.5 417.5L364.8 412.9M362.2 415.9L364.8 412.9L360.9 411.9M350.5 400.5L364.8 395.9M362.2 398.9L364.8 395.9L360.9 394.9M350.5 383.5L364.6 378.4M362.1 381.5L364.6 378.4L360.7 377.5M350.5 365.5L363.9 358.7M361.8 362.1L363.9 358.7L359.9 358.3M350.5 348.5L361.6 338.5M360.5 342.3L361.6 338.5L357.7 339.2M350.5 331.5L360.5 320.4M359.8 324.3L360.5 320.4L356.7 321.5M350.5 313.5L360.1 302.0M359.6 306.0L360.1 302.0L356.3 303.2M350.5 295.5L356.8 281.9M357.3 285.9L356.8 281.9L353.5 284.1M350.5 278.5L354.4 264.0M355.6 267.8L354.4 264.0L351.5 266.7M350.5 260.5L350.5 245.5M352.6 248.9L350.5 245.5L348.4 248.9M350.5 242.5L346.6 228.0M349.5 230.7L346.6 228.0L345.4 231.8M350.5 224.5L344.2 210.9M347.5 213.1L344.2 210.9L343.7 214.9M350.5 206.5L342.6 193.8M346.1 195.5L342.6 193.8L342.6 197.8M366.5 485.5L381.3 482.9M378.3 485.6L381.3 482.9L377.6 481.4M366.5 468.5L380.5 463.1M378.1 466.3L380.5 463.1L376.6 462.4M366.5 451.5L379.9 444.7M377.8 448.1L379.9 444.7L375.9 444.3M366.5 434.5L380.4 428.9M378.1 432.1L380.4 428.9L376.5 428.2M366.5 417.5L380.4 411.9M378.1 415.1L380.4 411.9L376.5 411.2M366.5 400.5L380.6 395.4M378.1 398.5L380.6 395.4L376.7 394.5M366.5 383.5L380.6 378.4M378.1 381.5L380.6 378.4L376.7 377.5M366.5 365.5L379.9 358.7M377.8 362.1L379.9 358.7L375.9 358.3M366.5 348.5L378.3 339.3M377.0 343.0L378.3 339.3L374.3 339.7M366.5 331.5L377.6 321.5M376.5 325.3L377.6 321.5L373.7 322.2M366.5 313.5L376.5 302.4M375.8 306.3L376.5 302.4L372.7 303.5M366.5 295.5L375.1 283.2M374.9 287.2L375.1 283.2L371.4 284.8M366.5 278.5L372.8 264.9M373.3 268.9L372.8 264.9L369.5 267.1M366.5 260.5L365.2 245.6M367.6 248.8L365.2 245.6L363.4 249.1M366.5 242.5L360.2 228.9M363.5 231.1L360.2 228.9L359.7 232.9M366.5 224.5L358.6 211.8M362.1 213.5L358.6 211.8L358.6 215.8M366.5 206.5L357.9 194.2M361.6 195.8L357.9 194.2L358.1 198.2M383.5 468.5L398.1 465.1M395.3 468.0L398.1 465.1L394.3 463.8M383.5 451.5L397.3 445.6M395.0 448.9L397.3 445.6L393.4 445.0M383.5 434.5L397.7 429.6M395.2 432.7L397.7 429.6L393.8 428.7M383.5 417.5L397.4 411.9M395.1 415.1L397.4 411.9L393.5 411.2M383.5 400.5L397.8 396.1M395.2 399.1L397.8 396.1L394.0 395.1M383.5 383.5L397.3 377.6M395.0 380.9L397.3 377.6L393.4 377.0M383.5 365.5L396.5 358.0M394.6 361.5L396.5 358.0L392.5 357.9M383.5 348.5L394.6 338.5M393.5 342.3L394.6 338.5L390.7 339.2M383.5 331.5L394.6 321.5M393.5 325.3L394.6 321.5L390.7 322.2M383.5 313.5L393.9 302.7M393.1 306.6L393.9 302.7L390.0 303.7M383.5 295.5L396.5 288.0M394.6 291.5L396.5 288.0L392.5 287.9M383.5 278.5L398.5 279.0M395.0 281.0L398.5 279.0L395.2 276.8M383.5 260.5L368.6 258.4M372.3 256.8L368.6 258.4L371.7 261.0M383.5 242.5L369.0 238.6M372.8 237.4L369.0 238.6L371.7 241.5M383.5 224.5L371.2 215.9M375.2 216.1L371.2 215.9L372.8 219.6M383.5 206.5L372.0 196.9M376.0 197.4L372.0 196.9L373.2 200.7M400.5 451.5L415.2 448.4M412.3 451.2L415.2 448.4L411.4 447.0M400.5 434.5L414.9 430.4M412.2 433.3L414.9 430.4L411.1 429.3M400.5 417.5L414.8 412.9M412.2 415.9L414.8 412.9L410.9 411.9M400.5 400.5L415.2 397.4M412.3 400.2L415.2 397.4L411.4 396.0M400.5 383.5L414.8 379.1M412.2 382.1L414.8 379.1L411.0 378.1M400.5 365.5L413.2 357.6M411.5 361.1L413.2 357.6L409.2 357.6M400.5 348.5L409.1 336.2M408.9 340.2L409.1 336.2L405.4 337.8M400.5 331.5L410.7 320.5M410.0 324.5L410.7 320.5L406.9 321.6M400.5 313.5L411.1 302.9M410.2 306.8L411.1 302.9L407.2 303.8M400.5 295.5L412.8 286.9M411.2 290.6L412.8 286.9L408.8 287.1M400.5 278.5L414.8 274.1M412.2 277.1L414.8 274.1L411.0 273.1M400.5 260.5L385.7 263.1M388.7 260.4L385.7 263.1L389.4 264.6M400.5 242.5L385.7 239.9M389.4 238.4L385.7 239.9L388.7 242.6M400.5 224.5L386.9 218.2M390.9 217.7L386.9 218.2L389.1 221.5M400.5 206.5L389.0 196.9M393.0 197.4L389.0 196.9L390.2 200.7M400.5 188.5L393.0 175.5M396.5 177.4L393.0 175.5L392.9 179.5M417.5 434.5L431.9 430.4M429.2 433.4L431.9 430.4L428.1 429.3M417.5 417.5L432.1 414.2M429.3 417.0L432.1 414.2L428.3 412.8M417.5 400.5L432.4 398.7M429.3 401.2L432.4 398.7L428.8 397.0M417.5 383.5L432.2 380.4M429.3 383.2L432.2 380.4L428.4 379.0M417.5 365.5L431.6 360.4M429.1 363.5L431.6 360.4L427.7 359.5M417.5 348.5L427.7 337.5M427.0 341.5L427.7 337.5L423.9 338.6M417.5 331.5L426.7 319.7M426.3 323.7L426.7 319.7L423.0 321.0M417.5 313.5L427.1 302.0M426.6 306.0L427.1 302.0L423.3 303.2M417.5 295.5L427.5 284.4M426.8 288.3L427.5 284.4L423.7 285.5M417.5 278.5L429.3 269.3M428.0 273.0L429.3 269.3L425.3 269.7M417.5 260.5L403.9 254.2M407.9 253.7L403.9 254.2L406.1 257.5M417.5 242.5L403.4 237.4M407.3 236.5L403.4 237.4L405.9 240.5M417.5 224.5L405.2 215.9M409.2 216.1L405.2 215.9L406.8 219.6M417.5 206.5L407.9 195.0M411.7 196.2L407.9 195.0L408.4 199.0M417.5 188.5L410.2 175.4M413.7 177.3L410.2 175.4L410.0 179.4M434.5 451.5L430.9 436.9M433.8 439.7L430.9 436.9L429.7 440.7M434.5 434.5L432.9 419.6M435.4 422.7L432.9 419.6L431.2 423.2M434.5 400.5L448.7 395.8M446.2 398.9L448.7 395.8L444.8 394.8M434.5 383.5L449.1 380.1M446.3 383.0L449.1 380.1L445.3 378.8M434.5 365.5L448.6 360.4M446.1 363.5L448.6 360.4L444.7 359.5M434.5 348.5L445.1 337.9M444.2 341.8L445.1 337.9L441.2 338.8M434.5 331.5L443.7 319.7M443.3 323.7L443.7 319.7L440.0 321.0M434.5 313.5L443.7 301.7M443.3 305.7L443.7 301.7L440.0 303.0M434.5 295.5L444.7 284.5M444.0 288.5L444.7 284.5L440.9 285.6M434.5 278.5L443.7 266.7M443.3 270.7L443.7 266.7L440.0 268.0M434.5 260.5L421.5 253.0M425.5 252.9L421.5 253.0L423.4 256.5M434.5 242.5L421.5 235.0M425.5 234.9L421.5 235.0L423.4 238.5M434.5 224.5L424.9 213.0M428.7 214.2L424.9 213.0L425.4 217.0M434.5 206.5L428.9 192.6M432.1 194.9L428.9 192.6L428.2 196.5M434.5 188.5L431.9 173.7M434.6 176.7L431.9 173.7L430.4 177.4M434.5 170.5L431.9 155.7M434.6 158.7L431.9 155.7L430.4 159.4M451.5 570.5L436.6 569.1M440.1 567.3L436.6 569.1L439.7 571.6M451.5 536.5L436.6 535.2M440.1 533.4L436.6 535.2L439.8 537.6M451.5 519.5L437.2 514.9M441.1 513.9L437.2 514.9L439.8 517.9M451.5 502.5L437.9 496.2M441.9 495.7L437.9 496.2L440.1 499.5M451.5 468.5L445.2 454.9M448.5 457.1L445.2 454.9L444.7 458.9M451.5 451.5L446.4 437.4M449.5 439.9L446.4 437.4L445.5 441.3M451.5 434.5L450.2 419.6M452.6 422.8L450.2 419.6L448.4 423.1M451.5 417.5L452.3 402.5M454.2 406.0L452.3 402.5L450.0 405.8M451.5 383.5L465.5 378.1M463.1 381.3L465.5 378.1L461.6 377.4M451.5 365.5L466.1 362.1M463.3 365.0L466.1 362.1L462.3 360.8M451.5 348.5L463.3 339.3M462.0 343.0L463.3 339.3L459.3 339.7M451.5 331.5L461.3 320.2M460.7 324.1L461.3 320.2L457.5 321.3M451.5 313.5L460.7 301.7M460.3 305.7L460.7 301.7L457.0 303.0M451.5 295.5L460.1 283.2M459.9 287.2L460.1 283.2L456.4 284.8M451.5 278.5L457.8 264.9M458.3 268.9L457.8 264.9L454.5 267.1M451.5 260.5L450.2 245.6M452.6 248.8L450.2 245.6L448.4 249.1M451.5 242.5L444.5 229.3M447.9 231.3L444.5 229.3L444.2 233.2M451.5 224.5L445.2 210.9M448.5 213.1L445.2 210.9L444.7 214.9M451.5 206.5L448.1 191.9M451.0 194.7L448.1 191.9L446.8 195.7M451.5 188.5L450.2 173.6M452.6 176.8L450.2 173.6L448.4 177.1M451.5 170.5L450.2 155.6M452.6 158.8L450.2 155.6L448.4 159.1M451.5 151.5L455.1 136.9M456.4 140.7L455.1 136.9L452.3 139.7M468.5 553.5L453.6 552.2M457.1 550.4L453.6 552.2L456.8 554.6M468.5 536.5L453.6 534.4M457.3 532.8L453.6 534.4L456.7 537.0M468.5 519.5L454.0 515.6M457.8 514.4L454.0 515.6L456.7 518.5M468.5 502.5L454.7 496.6M458.6 496.0L454.7 496.6L457.0 499.9M468.5 451.5L467.7 436.5M470.0 439.8L467.7 436.5L465.8 440.0M468.5 434.5L468.0 419.5M470.2 422.8L468.0 419.5L466.0 423.0M468.5 417.5L469.8 402.6M471.6 406.1L469.8 402.6L467.4 405.8M468.5 400.5L472.4 386.0M473.6 389.8L472.4 386.0L469.5 388.7M468.5 383.5L472.2 369.0M473.4 372.8L472.2 369.0L469.3 371.7M468.5 365.5L480.1 356.0M478.8 359.8L480.1 356.0L476.2 356.5M468.5 331.5L478.6 320.4M477.9 324.3L478.6 320.4L474.7 321.5M468.5 278.5L473.6 264.4M474.5 268.3L473.6 264.4L470.5 266.9M468.5 260.5L469.9 245.6M471.7 249.1L469.9 245.6L467.5 248.7M468.5 242.5L463.4 228.4M466.6 230.9L463.4 228.4L462.6 232.3M468.5 224.5L465.1 209.9M468.0 212.7L465.1 209.9L463.8 213.7M468.5 206.5L465.9 191.7M468.6 194.7L465.9 191.7L464.4 195.4M468.5 188.5L465.9 173.7M468.6 176.7L465.9 173.7L464.4 177.4M468.5 132.5L476.7 119.9M476.6 123.9L476.7 119.9L473.0 121.6M468.5 114.5L462.5 100.7M465.8 103.0L462.5 100.7L461.9 104.7M484.5 570.5L469.5 569.9M473.0 567.9L469.5 569.9L472.8 572.2M484.5 536.5L469.5 535.7M473.0 533.8L469.5 535.7L472.8 538.0M484.5 519.5L469.6 517.7M473.2 516.0L469.6 517.7L472.7 520.2M484.5 502.5L469.9 499.1M473.7 497.8L469.9 499.1L472.7 502.0M484.5 485.5L469.7 482.9M473.4 481.4L469.7 482.9L472.7 485.6M484.5 451.5L485.3 436.5M487.2 440.0L485.3 436.5L483.0 439.8M484.5 434.5L485.3 419.5M487.2 423.0L485.3 419.5L483.0 422.8M484.5 417.5L487.1 402.7M488.6 406.4L487.1 402.7L484.4 405.7M484.5 400.5L489.1 386.2M490.1 390.1L489.1 386.2L486.1 388.8M484.5 383.5L485.3 368.5M487.2 372.0L485.3 368.5L483.0 371.8M484.5 365.5L494.1 354.0M493.6 358.0L494.1 354.0L490.3 355.2M484.5 242.5L481.6 227.8M484.3 230.7L481.6 227.8L480.2 231.5M484.5 224.5L481.9 209.7M484.6 212.7L481.9 209.7L480.4 213.4M484.5 206.5L479.4 192.4M482.5 194.9L479.4 192.4L478.5 196.3M484.5 114.5L471.3 107.5M475.2 107.2L471.3 107.5L473.3 110.9M501.5 570.5L486.5 570.4M489.9 568.3L486.5 570.4L489.9 572.5M501.5 536.5L486.5 536.2M489.9 534.2L486.5 536.2L489.9 538.4M501.5 519.5L486.5 518.7M490.0 516.8L486.5 518.7L489.8 521.0M501.5 502.5L486.7 500.2M490.4 498.6L486.7 500.2L489.7 502.8M501.5 485.5L486.6 484.2M490.1 482.4L486.6 484.2L489.8 486.6M501.5 434.5L511.1 423.0M510.6 427.0L511.1 423.0L507.3 424.2M501.5 417.5L509.4 404.8M509.4 408.8L509.4 404.8L505.9 406.5M501.5 365.5L513.8 356.9M512.2 360.6L513.8 356.9L509.8 357.1M501.5 348.5L507.8 334.9M508.3 338.9L507.8 334.9L504.5 337.1M501.5 242.5L499.1 227.7M501.8 230.7L499.1 227.7L497.6 231.4M501.5 224.5L498.3 209.8M501.1 212.7L498.3 209.8L497.0 213.6M501.5 206.5L497.1 192.2M500.1 194.8L497.1 192.2L496.1 196.0M501.5 188.5L496.4 174.4M499.5 176.9L496.4 174.4L495.5 178.3M501.5 170.5L496.4 156.4M499.5 158.9L496.4 156.4L495.5 160.3M501.5 114.5L490.4 104.5M494.3 105.2L490.4 104.5L491.5 108.3M501.5 95.5L490.0 85.9M494.0 86.4L490.0 85.9L491.2 89.7M518.5 570.5L503.5 570.5M506.9 568.4L503.5 570.5L506.9 572.7M518.5 536.5L503.6 538.6M506.7 536.0L503.6 538.6L507.3 540.2M518.5 519.5L503.5 519.0M507.0 517.0L503.5 519.0L506.8 521.2M518.5 502.5L503.7 500.2M507.4 498.6L503.7 500.2L506.7 502.8M518.5 485.5L503.7 482.9M507.4 481.4L503.7 482.9L506.7 485.6M518.5 468.5L508.9 457.0M512.7 458.2L508.9 457.0L509.4 461.0M518.5 383.5L518.0 368.5M520.2 371.8L518.0 368.5L516.0 372.0M518.5 313.5L514.6 299.0M517.5 301.7L514.6 299.0L513.4 302.8M518.5 295.5L512.2 281.9M515.5 284.1L512.2 281.9L511.7 285.9M518.5 278.5L513.9 264.2M516.9 266.8L513.9 264.2L512.9 268.1M518.5 260.5L515.1 245.9M518.0 248.7L515.1 245.9L513.8 249.7M518.5 242.5L516.4 227.6M519.0 230.7L516.4 227.6L514.8 231.3M518.5 224.5L516.7 209.6M519.2 212.7L516.7 209.6L515.0 213.2M518.5 206.5L515.4 191.8M518.2 194.7L515.4 191.8L514.0 195.6M518.5 188.5L514.6 174.0M517.5 176.7L514.6 174.0L513.4 177.8M518.5 170.5L514.6 156.0M517.5 158.7L514.6 156.0L513.4 159.8M518.5 151.5L514.6 137.0M517.5 139.7L514.6 137.0L513.4 140.8M518.5 132.5L513.4 118.4M516.5 120.9L513.4 118.4L512.5 122.3M518.5 114.5L509.9 102.2M513.6 103.8L509.9 102.2L510.1 106.2M518.5 95.5L509.9 83.2M513.6 84.8L509.9 83.2L510.1 87.2M518.5 76.5L508.9 65.0M512.7 66.2L508.9 65.0L509.4 69.0M518.5 56.5L506.2 47.9M510.2 48.1L506.2 47.9L507.8 51.6M518.5 37.5L506.2 28.9M510.2 29.1L506.2 28.9L507.8 32.6M535.5 570.5L520.5 569.9M524.0 567.9L520.5 569.9L523.8 572.1M535.5 536.5L520.6 534.9M524.2 533.2L520.6 534.9L523.7 537.4M535.5 519.5L520.7 516.9M524.4 515.4L520.7 516.9L523.7 519.6M535.5 502.5L521.0 498.6M524.8 497.4L521.0 498.6L523.7 501.5M535.5 485.5L520.9 482.1M524.7 480.8L520.9 482.1L523.7 485.0M535.5 468.5L530.4 454.4M533.5 456.9L530.4 454.4L529.5 458.3M535.5 313.5L526.9 301.2M530.6 302.8L526.9 301.2L527.1 305.2M535.5 295.5L527.6 282.8M531.1 284.5L527.6 282.8L527.6 286.8M535.5 278.5L530.4 264.4M533.5 266.9L530.4 264.4L529.5 268.3M535.5 260.5L531.6 246.0M534.5 248.7L531.6 246.0L530.4 249.8M535.5 242.5L532.4 227.8M535.2 230.7L532.4 227.8L531.0 231.6M535.5 224.5L532.4 209.8M535.2 212.7L532.4 209.8L531.0 213.6M535.5 206.5L532.4 191.8M535.2 194.7L532.4 191.8L531.0 195.6M535.5 188.5L533.7 173.6M536.2 176.7L533.7 173.6L532.0 177.2M535.5 170.5L533.4 155.6M536.0 158.7L533.4 155.6L531.8 159.3M535.5 151.5L536.8 136.6M538.6 140.1L536.8 136.6L534.4 139.8M535.5 132.5L538.1 117.7M539.6 121.4L538.1 117.7L535.4 120.7M535.5 114.5L528.0 101.5M531.5 103.4L528.0 101.5L527.9 105.5M535.5 95.5L532.9 80.7M535.6 83.7L532.9 80.7L531.4 84.4M535.5 76.5L535.0 61.5M537.2 64.8L535.0 61.5L533.0 65.0M535.5 56.5L529.2 42.9M532.5 45.1L529.2 42.9L528.7 46.9M535.5 37.5L529.2 23.9M532.5 26.1L529.2 23.9L528.7 27.9M552.5 570.5L537.5 569.5M541.1 567.6L537.5 569.5L540.8 571.8M552.5 536.5L537.7 533.9M541.4 532.4L537.7 533.9L540.7 536.6M552.5 519.5L537.8 516.4M541.6 515.0L537.8 516.4L540.7 519.2M552.5 502.5L538.2 497.9M542.1 496.9L538.2 497.9L540.8 500.9M552.5 485.5L537.8 482.4M541.6 481.0L537.8 482.4L540.7 485.2M552.5 400.5L539.5 393.0M543.5 392.8L539.5 393.0L541.4 396.5M552.5 348.5L538.9 342.2M542.9 341.7L538.9 342.2L541.1 345.5M552.5 331.5L540.7 322.3M544.7 322.7L540.7 322.3L542.0 326.0M552.5 313.5L543.3 301.7M547.0 303.0L543.3 301.7L543.7 305.7M552.5 295.5L543.9 283.2M547.6 284.8L543.9 283.2L544.1 287.2M552.5 278.5L546.2 264.9M549.5 267.1L546.2 264.9L545.7 268.9M552.5 260.5L547.9 246.2M550.9 248.8L547.9 246.2L546.9 250.1M552.5 242.5L548.6 228.0M551.5 230.7L548.6 228.0L547.4 231.8M552.5 224.5L549.9 209.7M552.6 212.7L549.9 209.7L548.4 213.4M552.5 206.5L551.2 191.6M553.6 194.8L551.2 191.6L549.4 195.1M552.5 188.5L552.5 173.5M554.6 176.9L552.5 173.5L550.4 176.9M552.5 170.5L552.5 155.5M554.6 158.9L552.5 155.5L550.4 158.9M552.5 151.5L552.5 136.5M554.6 139.9L552.5 136.5L550.4 139.9M552.5 132.5L556.4 118.0M557.6 121.8L556.4 118.0L553.5 120.7M552.5 114.5L552.5 99.5M554.6 102.9L552.5 99.5L550.4 102.9M552.5 95.5L556.4 81.0M557.6 84.8L556.4 81.0L553.5 83.7M552.5 76.5L562.1 65.0M561.6 69.0L562.1 65.0L558.3 66.2M552.5 56.5L555.1 41.7M556.6 45.4L555.1 41.7L552.4 44.7M552.5 37.5L555.1 22.7M556.6 26.4L555.1 22.7L552.4 25.7M569.5 570.5L554.5 570.5M557.9 568.4L554.5 570.5L557.9 572.6M569.5 553.5L554.5 553.5M557.9 551.4L554.5 553.5L557.9 555.6M569.5 536.5L554.5 536.5M557.9 534.4L554.5 536.5L557.9 538.6M569.5 519.5L554.5 518.7M558.0 516.8L554.5 518.7L557.8 521.0M569.5 502.5L558.0 492.9M562.0 493.4L558.0 492.9L559.2 496.7M569.5 485.5L554.7 482.9M558.4 481.4L554.7 482.9L557.7 485.6M569.5 400.5L555.3 395.7M559.2 394.7L555.3 395.7L557.8 398.8M569.5 365.5L556.5 358.0M560.5 357.9L556.5 358.0L558.4 361.5M569.5 348.5L557.2 339.9M561.2 340.1L557.2 339.9L558.8 343.6M569.5 331.5L557.5 322.5M561.5 322.8L557.5 322.5L559.0 326.2M569.5 313.5L559.3 302.5M563.1 303.6L559.3 302.5L560.0 306.5M569.5 295.5L559.9 284.0M563.7 285.2L559.9 284.0L560.4 288.0M569.5 278.5L561.6 265.8M565.1 267.5L561.6 265.8L561.6 269.8M569.5 260.5L563.2 246.9M566.5 249.1L563.2 246.9L562.7 250.9M569.5 242.5L563.9 228.6M567.1 230.9L563.9 228.6L563.2 232.5M569.5 224.5L565.6 210.0M568.5 212.7L565.6 210.0L564.4 213.8M569.5 206.5L566.9 191.7M569.6 194.7L566.9 191.7L565.4 195.4M569.5 188.5L569.5 173.5M571.6 176.9L569.5 173.5L567.4 176.9M569.5 170.5L569.5 155.5M571.6 158.9L569.5 155.5L567.4 158.9M569.5 151.5L569.5 136.5M571.6 139.9L569.5 136.5L567.4 139.9M569.5 132.5L569.5 117.5M571.6 120.9L569.5 117.5L567.4 120.9M569.5 114.5L570.3 99.5M572.2 103.0L570.3 99.5L568.0 102.8M569.5 95.5L575.1 81.6M575.8 85.5L575.1 81.6L571.9 83.9M569.5 76.5L578.1 64.2M577.9 68.2L578.1 64.2L574.4 65.8M569.5 56.5L576.5 43.3M576.8 47.2L576.5 43.3L573.1 45.3M569.5 37.5L576.5 24.3M576.8 28.2L576.5 24.3L573.1 26.3M586.5 570.5L571.5 571.5M574.8 569.1L571.5 571.5L575.1 573.4M586.5 553.5L571.6 554.8M574.8 552.4L571.6 554.8L575.1 556.6M586.5 536.5L572.0 540.4M574.7 537.5L572.0 540.4L575.8 541.6M586.5 519.5L571.5 519.5M574.9 517.4L571.5 519.5L574.9 521.6M586.5 485.5L571.7 482.9M575.4 481.4L571.7 482.9L574.7 485.6M586.5 468.5L571.8 465.6M575.5 464.2L571.8 465.6L574.7 468.4M586.5 417.5L571.6 415.4M575.3 413.8L571.6 415.4L574.7 418.0M586.5 400.5L572.0 396.6M575.8 395.4L572.0 396.6L574.7 399.5M586.5 383.5L572.7 377.6M576.6 377.0L572.7 377.6L575.0 380.9M586.5 365.5L573.5 358.0M577.5 357.9L573.5 358.0L575.4 361.5M586.5 348.5L573.9 340.3M577.9 340.4L573.9 340.3L575.6 344.0M586.5 331.5L574.2 322.9M578.2 323.1L574.2 322.9L575.8 326.6M586.5 313.5L575.0 303.9M579.0 304.4L575.0 303.9L576.2 307.7M586.5 295.5L576.5 284.4M580.3 285.5L576.5 284.4L577.2 288.3M586.5 278.5L577.3 266.7M581.0 268.0L577.3 266.7L577.7 270.7M586.5 260.5L579.0 247.5M582.5 249.4L579.0 247.5L578.9 251.5M586.5 242.5L580.2 228.9M583.5 231.1L580.2 228.9L579.7 232.9M586.5 224.5L581.4 210.4M584.5 212.9L581.4 210.4L580.5 214.3M586.5 206.5L583.1 191.9M586.0 194.7L583.1 191.9L581.8 195.7M586.5 188.5L586.5 173.5M588.6 176.9L586.5 173.5L584.4 176.9M586.5 170.5L586.5 155.5M588.6 158.9L586.5 155.5L584.4 158.9M586.5 151.5L586.5 136.5M588.6 139.9L586.5 136.5L584.4 139.9M586.5 132.5L586.5 117.5M588.6 120.9L586.5 117.5L584.4 120.9M586.5 114.5L589.6 99.8M591.0 103.6L589.6 99.8L586.8 102.7M586.5 95.5L594.7 82.9M594.6 86.9L594.7 82.9L591.0 84.6M586.5 76.5L594.7 63.9M594.6 67.9L594.7 63.9L591.0 65.6M586.5 56.5L594.0 43.5M594.1 47.5L594.0 43.5L590.5 45.4M586.5 37.5L594.0 24.5M594.1 28.5L594.0 24.5L590.5 26.4M603.5 570.5L588.5 570.8M591.9 568.6L588.5 570.8L591.9 572.8M603.5 519.5L588.5 518.7M592.0 516.8L588.5 518.7L591.8 521.0M603.5 502.5L588.5 502.0M592.0 500.0L588.5 502.0L591.8 504.2M603.5 485.5L588.6 483.4M592.3 481.8L588.6 483.4L591.7 486.0M603.5 468.5L588.8 465.6M592.5 464.2L588.8 465.6L591.7 468.4M603.5 451.5L588.8 448.4M592.6 447.0L588.8 448.4L591.7 451.2M603.5 434.5L588.9 431.1M592.7 429.8L588.9 431.1L591.7 434.0M603.5 417.5L588.9 413.9M592.7 412.6L588.9 413.9L591.7 416.7M603.5 400.5L589.0 396.6M592.8 395.4L589.0 396.6L591.7 399.5M603.5 383.5L589.6 377.9M593.5 377.2L589.6 377.9L591.9 381.1M603.5 365.5L590.5 358.0M594.5 357.9L590.5 358.0L592.4 361.5M603.5 348.5L590.8 340.6M594.8 340.6L590.8 340.6L592.5 344.1M603.5 331.5L591.2 322.9M595.2 323.1L591.2 322.9L592.8 326.6M603.5 313.5L591.5 304.5M595.5 304.8L591.5 304.5L593.0 308.2M603.5 295.5L593.1 284.7M597.0 285.7L593.1 284.7L593.9 288.6M603.5 278.5L593.9 267.0M597.7 268.2L593.9 267.0L594.4 271.0M603.5 260.5L594.9 248.2M598.6 249.8L594.9 248.2L595.1 252.2M603.5 242.5L596.5 229.3M599.9 231.3L596.5 229.3L596.2 233.2M603.5 224.5L597.9 210.6M601.1 212.9L597.9 210.6L597.2 214.5M603.5 206.5L599.6 192.0M602.5 194.7L599.6 192.0L598.4 195.8M603.5 188.5L603.0 173.5M605.2 176.8L603.0 173.5L601.0 177.0M603.5 170.5L603.5 155.5M605.6 158.9L603.5 155.5L601.4 158.9M603.5 151.5L603.5 136.5M605.6 139.9L603.5 136.5L601.4 139.9M603.5 132.5L603.5 117.5M605.6 120.9L603.5 117.5L601.4 120.9M603.5 114.5L606.1 99.7M607.6 103.4L606.1 99.7L603.4 102.7M603.5 95.5L608.6 81.4M609.5 85.3L608.6 81.4L605.5 83.9M603.5 76.5L612.1 64.2M611.9 68.2L612.1 64.2L608.4 65.8M603.5 56.5L612.1 44.2M611.9 48.2L612.1 44.2L608.4 45.8M603.5 37.5L612.1 25.2M611.9 29.2L612.1 25.2L608.4 26.8M619.5 570.5L604.5 570.5M607.9 568.4L604.5 570.5L607.9 572.6M619.5 536.5L604.5 536.5M607.9 534.4L604.5 536.5L607.9 538.6M619.5 519.5L604.5 519.0M608.0 517.0L604.5 519.0L607.8 521.2M619.5 502.5L604.5 502.0M608.0 500.0L604.5 502.0L607.8 504.2M619.5 485.5L604.6 483.4M608.3 481.8L604.6 483.4L607.7 486.0M619.5 468.5L604.8 465.6M608.5 464.2L604.8 465.6L607.7 468.4M619.5 451.5L604.8 448.4M608.6 447.0L604.8 448.4L607.7 451.2M619.5 434.5L604.8 431.4M608.6 430.0L604.8 431.4L607.7 434.2M619.5 417.5L604.9 414.1M608.7 412.8L604.9 414.1L607.7 417.0M619.5 400.5L605.0 396.6M608.8 395.4L605.0 396.6L607.7 399.5M619.5 383.5L605.5 378.1M609.4 377.4L605.5 378.1L607.9 381.3M619.5 365.5L606.3 358.5M610.2 358.2L606.3 358.5L608.3 361.9M619.5 348.5L606.6 340.8M610.6 340.7L606.6 340.8L608.5 344.3M619.5 331.5L607.1 323.1M611.1 323.3L607.1 323.1L608.7 326.8M619.5 313.5L607.4 304.7M611.4 305.0L607.4 304.7L608.9 308.4M619.5 295.5L608.7 285.1M612.6 285.9L608.7 285.1L609.7 289.0M619.5 278.5L609.5 267.4M613.3 268.5L609.5 267.4L610.2 271.3M619.5 260.5L610.5 248.5M614.2 250.0L610.5 248.5L610.8 252.5M619.5 242.5L612.0 229.5M615.5 231.4L612.0 229.5L611.9 233.5M619.5 224.5L613.2 210.9M616.5 213.1L613.2 210.9L612.7 214.9M619.5 206.5L614.4 192.4M617.5 194.9L614.4 192.4L613.5 196.3M619.5 188.5L616.9 173.7M619.6 176.7L616.9 173.7L615.4 177.4M619.5 170.5L619.5 155.5M621.6 158.9L619.5 155.5L617.4 158.9M619.5 151.5L619.5 136.5M621.6 139.9L619.5 136.5L617.4 139.9M619.5 132.5L619.5 117.5M621.6 120.9L619.5 117.5L617.4 120.9M619.5 114.5L620.8 99.6M622.6 103.1L620.8 99.6L618.4 102.8M619.5 95.5L622.1 80.7M623.6 84.4L622.1 80.7L619.4 83.7M619.5 76.5L628.1 64.2M627.9 68.2L628.1 64.2L624.4 65.8M619.5 56.5L629.1 45.0M628.6 49.0L629.1 45.0L625.3 46.2M619.5 37.5L629.1 26.0M628.6 30.0L629.1 26.0L625.3 27.2M636.5 570.5L621.5 570.5M624.9 568.4L621.5 570.5L624.9 572.6M636.5 553.5L621.5 553.5M624.9 551.4L621.5 553.5L624.9 555.6M636.5 536.5L621.5 536.5M624.9 534.4L621.5 536.5L624.9 538.6M636.5 519.5L621.5 519.0M625.0 517.0L621.5 519.0L624.8 521.2M636.5 502.5L621.5 502.0M625.0 500.0L621.5 502.0L624.8 504.2M636.5 485.5L621.6 483.4M625.3 481.8L621.6 483.4L624.7 486.0M636.5 468.5L621.8 465.6M625.5 464.2L621.8 465.6L624.7 468.4M636.5 451.5L621.8 448.4M625.6 447.0L621.8 448.4L624.7 451.2M636.5 434.5L621.8 431.4M625.6 430.0L621.8 431.4L624.7 434.2M636.5 417.5L621.9 414.1M625.7 412.8L621.9 414.1L624.7 417.0M636.5 400.5L622.0 396.6M625.8 395.4L622.0 396.6L624.7 399.5M636.5 383.5L622.4 378.4M626.3 377.5L622.4 378.4L624.9 381.5M636.5 365.5L623.1 358.7M627.1 358.3L623.1 358.7L625.2 362.1M636.5 348.5L623.5 341.0M627.5 340.9L623.5 341.0L625.4 344.5M636.5 331.5L623.9 323.3M627.9 323.4L623.9 323.3L625.6 327.0M636.5 313.5L624.2 304.9M628.2 305.1L624.2 304.9L625.8 308.6M636.5 295.5L625.4 285.5M629.3 286.2L625.4 285.5L626.5 289.3M636.5 278.5L626.1 267.7M630.0 268.7L626.1 267.7L626.9 271.6M636.5 260.5L627.3 248.7M631.0 250.0L627.3 248.7L627.7 252.7M636.5 242.5L628.6 229.8M632.1 231.5L628.6 229.8L628.6 233.8M636.5 224.5L629.7 211.1M633.1 213.2L629.7 211.1L629.3 215.1M636.5 206.5L630.2 192.9M633.5 195.1L630.2 192.9L629.7 196.9M636.5 188.5L632.6 174.0M635.5 176.7L632.6 174.0L631.4 177.8M636.5 170.5L635.2 155.6M637.6 158.8L635.2 155.6L633.4 159.1M636.5 151.5L636.5 136.5M638.6 139.9L636.5 136.5L634.4 139.9M636.5 132.5L636.5 117.5M638.6 120.9L636.5 117.5L634.4 120.9M636.5 114.5L637.3 99.5M639.3 103.0L637.3 99.5L635.0 102.8M636.5 95.5L640.2 81.0M641.5 84.8L640.2 81.0L637.3 83.7M636.5 76.5L644.3 63.7M644.3 67.7L644.3 63.7L640.7 65.5M636.5 56.5L645.9 44.8M645.4 48.8L645.9 44.8L642.1 46.1M636.5 37.5L646.0 25.9M645.5 29.9L646.0 25.9L642.2 27.2"/>
</g>
<g shape-rendering="crispEdges" fill="#000">
<rect x="111" y="36" width="528" height="2"/>
<rect x="111" y="570" width="528" height="2"/>
<rect x="111" y="36" width="2" height="536"/>
<rect x="637" y="36" width="2" height="536"/>
<rect x="111" y="36" width="7" height="3"/>
<rect x="130" y="38" width="1" height="5"/>
<rect x="130" y="565" width="1" height="5"/>
<rect x="164" y="38" width="1" height="5"/>
<rect x="164" y="565" width="1" height="5"/>
<rect x="198" y="38" width="1" height="5"/>
<rect x="198" y="565" width="1" height="5"/>
<rect x="231" y="38" width="1" height="5"/>
<rect x="231" y="565" width="1" height="5"/>
<rect x="265" y="38" width="1" height="5"/>
<rect x="265" y="565" width="1" height="5"/>
<rect x="299" y="38" width="1" height="5"/>
<rect x="299" y="565" width="1" height="5"/>
<rect x="333" y="38" width="1" height="5"/>
<rect x="333" y="565" width="1" height="5"/>
<rect x="366" y="38" width="1" height="5"/>
<rect x="366" y="565" width="1" height="5"/>
<rect x="400" y="38" width="1" height="5"/>
<rect x="400" y="565" width="1" height="5"/>
<rect x="434" y="38" width="1" height="5"/>
<rect x="434" y="565" width="1" height="5"/>
<rect x="468" y="38" width="1" height="5"/>
<rect x="468" y="565" width="1" height="5"/>
<rect x="501" y="38" width="1" height="5"/>
<rect x="501" y="565" width="1" height="5"/>
<rect x="535" y="38" width="1" height="5"/>
<rect x="535" y="565" width="1" height="5"/>
<rect x="569" y="38" width="1" height="5"/>
<rect x="569" y="565" width="1" height="5"/>
<rect x="603" y="38" width="1" height="5"/>
<rect x="603" y="565" width="1" height="5"/>
<rect x="113" y="537" width="5" height="1"/>
<rect x="632" y="537" width="5" height="1"/>
<rect x="113" y="503" width="5" height="1"/>
<rect x="632" y="503" width="5" height="1"/>
<rect x="113" y="469" width="5" height="1"/>
<rect x="632" y="469" width="5" height="1"/>
<rect x="113" y="435" width="5" height="1"/>
<rect x="632" y="435" width="5" height="1"/>
<rect x="113" y="400" width="5" height="1"/>
<rect x="632" y="400" width="5" height="1"/>
<rect x="113" y="366" width="5" height="1"/>
<rect x="632" y="366" width="5" height="1"/>
<rect x="113" y="331" width="5" height="1"/>
<rect x="632" y="331" width="5" height="1"/>
<rect x="113" y="296" width="5" height="1"/>
<rect x="632" y="296" width="5" height="1"/>
<rect x="113" y="261" width="5" height="1"/>
<rect x="632" y="261" width="5" height="1"/>
<rect x="113" y="225" width="5" height="1"/>
<rect x="632" y="225" width="5" height="1"/>
<rect x="113" y="188" width="5" height="1"/>
<rect x="632" y="188" width="5" height="1"/>
<rect x="113" y="152" width="5" height="1"/>
<rect x="632" y="152" width="5" height="1"/>
<rect x="113" y="114" width="5" height="1"/>
<rect x="632" y="114" width="5" height="1"/>
<rect x="113" y="76" width="5" height="1"/>
<rect x="632" y="76" width="5" height="1"/>
</g>
<text x="375.5" y="20" font-size="13" text-anchor="middle" fill="#000050">Significant Wave Height with Wave Direction</text>
<text x="376" y="31.5" font-size="12.1" font-style="italic" text-anchor="middle" fill="#000030">Valid For Jun-20-2013 18:00 GMT</text>
<text x="133.7" y="587.8" font-size="10.8" font-style="italic" text-anchor="middle" fill="#000">100 E</text>
<text x="217.7" y="587.8" font-size="10.8" font-style="italic" text-anchor="middle" fill="#000">105 E</text>
<text x="303.2" y="587.8" font-size="10.8" font-style="italic" text-anchor="middle" fill="#000">110 E</text>
<text x="387" y="587.8" font-size="10.8" font-style="italic" text-anchor="middle" fill="#000">115 E</text>
<text x="471.5" y="587.8" font-size="10.8" font-style="italic" text-anchor="middle" fill="#000">120 E</text>
<text x="556.3" y="587.8" font-size="10.8" font-style="italic" text-anchor="middle" fill="#000">125 E</text>
<text x="640.9" y="587.8" font-size="10.8" font-style="italic" text-anchor="middle" fill="#000">130 E</text>
<text x="646" y="41.8" font-size="10.8" font-style="italic" fill="#000">30 N</text>
<text x="646" y="136.3" font-size="10.8" font-style="italic" fill="#000">25 N</text>
<text x="646" y="228.6" font-size="10.8" font-style="italic" fill="#000">20 N</text>
<text x="646" y="317.4" font-size="10.8" font-style="italic" fill="#000">15 N</text>
<text x="646" y="403.5" font-size="10.8" font-style="italic" fill="#000">10 N</text>
<text x="646" y="488.8" font-size="10.8" font-style="italic" fill="#000">5 N</text>
<text x="646" y="574.1" font-size="10.8" font-style="italic" fill="#000">0</text>
<text x="112.8" y="601.5" font-size="10.5" fill="#1c1c78" textLength="127.5" lengthAdjust="spacingAndGlyphs">oceanweather inc.</text>
<text x="521.7" y="598.9" font-size="8" font-style="italic" fill="#20206e" textLength="115.5" lengthAdjust="spacingAndGlyphs">Plotted at Jun 20, 2013 12:09 GMT</text>
<text x="375" y="614" font-size="9.6" text-anchor="middle" fill="#000050">Significant Wave Height (Meters)</text>
<text x="375.5" y="662" font-size="9.6" text-anchor="middle" fill="#000050">Significant Wave Height (Feet)</text>
<text x="256" y="626" font-size="9.5" text-anchor="middle" fill="#000050">0</text>
<text x="276" y="626" font-size="9.5" text-anchor="middle" fill="#000050">1</text>
<text x="296" y="626" font-size="9.5" text-anchor="middle" fill="#000050">2</text>
<text x="316" y="626" font-size="9.5" text-anchor="middle" fill="#000050">3</text>
<text x="336" y="626" font-size="9.5" text-anchor="middle" fill="#000050">4</text>
<text x="356" y="626" font-size="9.5" text-anchor="middle" fill="#000050">5</text>
<text x="376" y="626" font-size="9.5" text-anchor="middle" fill="#000050">6</text>
<text x="396" y="626" font-size="9.5" text-anchor="middle" fill="#000050">7</text>
<text x="416" y="626" font-size="9.5" text-anchor="middle" fill="#000050">8</text>
<text x="436" y="626" font-size="9.5" text-anchor="middle" fill="#000050">9</text>
<text x="456" y="626" font-size="9.5" text-anchor="middle" fill="#000050">10</text>
<text x="476" y="626" font-size="9.5" text-anchor="middle" fill="#000050">11</text>
<text x="496" y="626" font-size="9.5" text-anchor="middle" fill="#000050">12</text>
<text x="256" y="650.3" font-size="9.5" text-anchor="middle" fill="#000050">0</text>
<text x="286.07" y="650.3" font-size="9.5" text-anchor="middle" fill="#000050">5</text>
<text x="316.14" y="650.3" font-size="9.5" text-anchor="middle" fill="#000050">10</text>
<text x="346.21" y="650.3" font-size="9.5" text-anchor="middle" fill="#000050">15</text>
<text x="376.28" y="650.3" font-size="9.5" text-anchor="middle" fill="#000050">20</text>
<text x="406.35" y="650.3" font-size="9.5" text-anchor="middle" fill="#000050">25</text>
<text x="436.42" y="650.3" font-size="9.5" text-anchor="middle" fill="#000050">30</text>
<text x="466.49" y="650.3" font-size="9.5" text-anchor="middle" fill="#000050">35</text>
<text x="496.56" y="650.3" font-size="9.5" text-anchor="middle" fill="#000050">40</text>
<rect x="255" y="629" width="6" height="13" fill="#0000ff" shape-rendering="crispEdges"/>
<rect x="261" y="629" width="6" height="13" fill="#001aff" shape-rendering="crispEdges"/>
<rect x="267" y="629" width="6" height="13" fill="#0033ff" shape-rendering="crispEdges"/>
<rect x="273" y="629" width="6" height="13" fill="#004cff" shape-rendering="crispEdges"/>
<rect x="279" y="629" width="6" height="13" fill="#0066ff" shape-rendering="crispEdges"/>
<rect x="285" y="629" width="6" height="13" fill="#0080ff" shape-rendering="crispEdges"/>
<rect x="291" y="629" width="6" height="13" fill="#0099ff" shape-rendering="crispEdges"/>
<rect x="297" y="629" width="6" height="13" fill="#00b2ff" shape-rendering="crispEdges"/>
<rect x="303" y="629" width="6" height="13" fill="#00ccff" shape-rendering="crispEdges"/>
<rect x="309" y="629" width="6" height="13" fill="#00e6ff" shape-rendering="crispEdges"/>
<rect x="315" y="629" width="6" height="13" fill="#00ffff" shape-rendering="crispEdges"/>
<rect x="321" y="629" width="6" height="13" fill="#00ffe6" shape-rendering="crispEdges"/>
<rect x="327" y="629" width="6" height="13" fill="#00ffcc" shape-rendering="crispEdges"/>
<rect x="333" y="629" width="6" height="13" fill="#00ffb2" shape-rendering="crispEdges"/>
<rect x="339" y="629" width="6" height="13" fill="#00ff99" shape-rendering="crispEdges"/>
<rect x="345" y="629" width="6" height="13" fill="#00ff80" shape-rendering="crispEdges"/>
<rect x="351" y="629" width="6" height="13" fill="#00ff66" shape-rendering="crispEdges"/>
<rect x="357" y="629" width="6" height="13" fill="#00ff4c" shape-rendering="crispEdges"/>
<rect x="363" y="629" width="6" height="13" fill="#00ff33" shape-rendering="crispEdges"/>
<rect x="369" y="629" width="7" height="13" fill="#00ff1a" shape-rendering="crispEdges"/>
<rect x="376" y="629" width="6" height="13" fill="#00ff00" shape-rendering="crispEdges"/>
<rect x="382" y="629" width="6" height="13" fill="#1aff00" shape-rendering="crispEdges"/>
<rect x="388" y="629" width="6" height="13" fill="#33ff00" shape-rendering="crispEdges"/>
<rect x="394" y="629" width="6" height="13" fill="#4cff00" shape-rendering="crispEdges"/>
<rect x="400" y="629" width="6" height="13" fill="#66ff00" shape-rendering="crispEdges"/>
<rect x="406" y="629" width="6" height="13" fill="#80ff00" shape-rendering="crispEdges"/>
<rect x="412" y="629" width="6" height="13" fill="#99ff00" shape-rendering="crispEdges"/>
<rect x="418" y="629" width="6" height="13" fill="#b2ff00" shape-rendering="crispEdges"/>
<rect x="424" y="629" width="6" height="13" fill="#ccff00" shape-rendering="crispEdges"/>
<rect x="430" y="629" width="6" height="13" fill="#e6ff00" shape-rendering="crispEdges"/>
<rect x="436" y="629" width="6" height="13" fill="#ffff00" shape-rendering="crispEdges"/>
<rect x="442" y="629" width="6" height="13" fill="#ffe600" shape-rendering="crispEdges"/>
<rect x="448" y="629" width="6" height="13" fill="#ffcc00" shape-rendering="crispEdges"/>
<rect x="454" y="629" width="6" height="13" fill="#ffb200" shape-rendering="crispEdges"/>
<rect x="460" y="629" width="6" height="13" fill="#ff9900" shape-rendering="crispEdges"/>
<rect x="466" y="629" width="6" height="13" fill="#ff8000" shape-rendering="crispEdges"/>
<rect x="472" y="629" width="6" height="13" fill="#ff6600" shape-rendering="crispEdges"/>
<rect x="478" y="629" width="6" height="13" fill="#ff4c00" shape-rendering="crispEdges"/>
<rect x="484" y="629" width="6" height="13" fill="#ff3300" shape-rendering="crispEdges"/>
<rect x="490" y="629" width="6" height="13" fill="#ff1a00" shape-rendering="crispEdges"/>
<rect x="255" y="629" width="2" height="13" fill="#000" shape-rendering="crispEdges"/>
</svg></body></html>
